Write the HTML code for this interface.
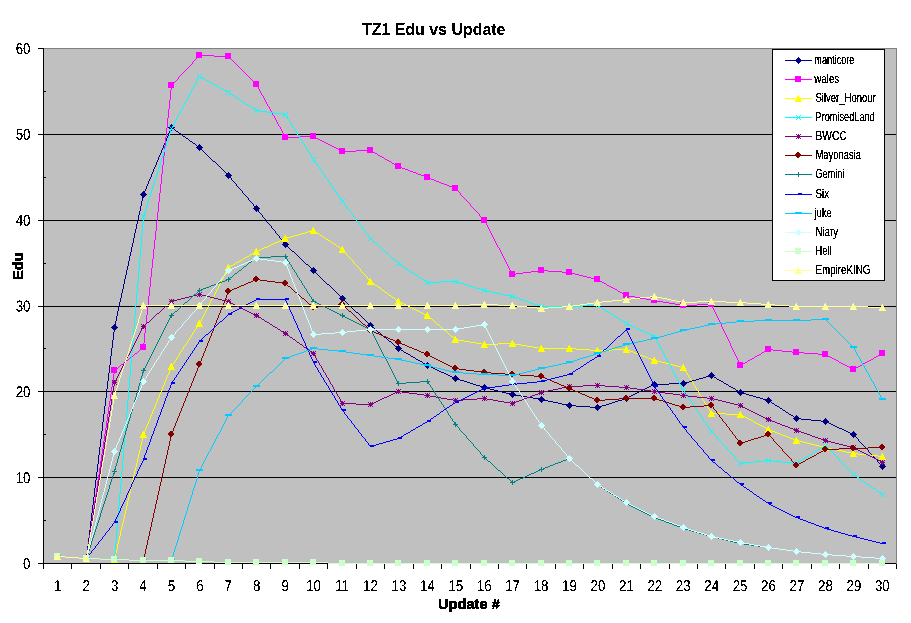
<!DOCTYPE html>
<html><head><meta charset="utf-8"><title>TZ1 Edu vs Update</title>
<style>
html,body{margin:0;padding:0;background:#fff}
svg{display:block}
text{font-family:"Liberation Sans",sans-serif;fill:#000}
.ax{font-size:13.3px}
.b{font-weight:bold}
.b2{stroke:#000;stroke-width:.3px}
.lg{font-size:12.6px}
</style></head><body>
<svg width="911" height="623" viewBox="0 0 911 623" shape-rendering="crispEdges">
<defs><filter id="th" x="-5%" y="-5%" width="110%" height="110%" color-interpolation-filters="sRGB"><feComponentTransfer><feFuncA type="discrete" tableValues="0 0 0 0 0 1 1 1 1 1 1 1"/></feComponentTransfer></filter><filter id="th2" x="-5%" y="-5%" width="110%" height="110%" color-interpolation-filters="sRGB"><feComponentTransfer><feFuncA type="discrete" tableValues="0 0 1 1 1 1"/></feComponentTransfer></filter></defs>
<rect width="911" height="623" fill="#fff"/>

<rect x="43.5" y="48.5" width="853.0" height="515.0" fill="#C0C0C0" stroke="#808080"/>
<path d="M43.5 477.5H896.0" stroke="#000"/>
<path d="M43.5 391.5H896.0" stroke="#000"/>
<path d="M43.5 306.5H896.0" stroke="#000"/>
<path d="M43.5 220.5H896.0" stroke="#000"/>
<path d="M43.5 134.5H896.0" stroke="#000"/>
<path d="M43.5 48.5V563.5M43.5 563.5H896.0" stroke="#000" fill="none"/>
<path d="M38.0 563.5H43.5" stroke="#000"/>
<path d="M43.5 520.5H46.0" stroke="#000"/>
<path d="M38.0 477.5H43.5" stroke="#000"/>
<path d="M43.5 434.5H46.0" stroke="#000"/>
<path d="M38.0 391.5H43.5" stroke="#000"/>
<path d="M43.5 348.5H46.0" stroke="#000"/>
<path d="M38.0 306.5H43.5" stroke="#000"/>
<path d="M43.5 263.5H46.0" stroke="#000"/>
<path d="M38.0 220.5H43.5" stroke="#000"/>
<path d="M43.5 177.5H46.0" stroke="#000"/>
<path d="M38.0 134.5H43.5" stroke="#000"/>
<path d="M43.5 91.5H46.0" stroke="#000"/>
<path d="M38.0 48.5H43.5" stroke="#000"/>
<path d="M43.5 564.0V569.0" stroke="#000"/>
<path d="M71.5 564.0V569.0" stroke="#000"/>
<path d="M100.5 564.0V569.0" stroke="#000"/>
<path d="M128.5 564.0V569.0" stroke="#000"/>
<path d="M157.5 564.0V569.0" stroke="#000"/>
<path d="M185.5 564.0V569.0" stroke="#000"/>
<path d="M214.5 564.0V569.0" stroke="#000"/>
<path d="M242.5 564.0V569.0" stroke="#000"/>
<path d="M270.5 564.0V569.0" stroke="#000"/>
<path d="M299.5 564.0V569.0" stroke="#000"/>
<path d="M327.5 564.0V569.0" stroke="#000"/>
<path d="M356.5 564.0V569.0" stroke="#000"/>
<path d="M384.5 564.0V569.0" stroke="#000"/>
<path d="M413.5 564.0V569.0" stroke="#000"/>
<path d="M441.5 564.0V569.0" stroke="#000"/>
<path d="M470.5 564.0V569.0" stroke="#000"/>
<path d="M498.5 564.0V569.0" stroke="#000"/>
<path d="M526.5 564.0V569.0" stroke="#000"/>
<path d="M555.5 564.0V569.0" stroke="#000"/>
<path d="M583.5 564.0V569.0" stroke="#000"/>
<path d="M612.5 564.0V569.0" stroke="#000"/>
<path d="M640.5 564.0V569.0" stroke="#000"/>
<path d="M669.5 564.0V569.0" stroke="#000"/>
<path d="M697.5 564.0V569.0" stroke="#000"/>
<path d="M725.5 564.0V569.0" stroke="#000"/>
<path d="M754.5 564.0V569.0" stroke="#000"/>
<path d="M782.5 564.0V569.0" stroke="#000"/>
<path d="M811.5 564.0V569.0" stroke="#000"/>
<path d="M839.5 564.0V569.0" stroke="#000"/>
<path d="M868.5 564.0V569.0" stroke="#000"/>
<path d="M896.5 564.0V569.0" stroke="#000"/>
<g><path d="M57 556h8v1h-8zM65 557h14v1h-14zM79 558h8v1h-8zM114 327v5h1v-5zM113 332v8h1v-8zM112 340v8h1v-8zM111 348v8h1v-8zM110 356v9h1v-9zM109 365v8h1v-8zM108 373v8h1v-8zM107 381v8h1v-8zM106 389v9h1v-9zM105 398v8h1v-8zM104 406v8h1v-8zM103 414v8h1v-8zM102 422v9h1v-9zM101 431v8h1v-8zM100 439v8h1v-8zM99 447v8h1v-8zM98 455v9h1v-9zM97 464v8h1v-8zM96 472v8h1v-8zM95 480v8h1v-8zM94 488v9h1v-9zM93 497v8h1v-8zM92 505v8h1v-8zM91 513v8h1v-8zM90 521v9h1v-9zM89 530v8h1v-8zM88 538v8h1v-8zM87 546v8h1v-8zM86 554v5h1v-5zM143 194v3h1v-3zM142 197v4h1v-4zM141 201v5h1v-5zM140 206v5h1v-5zM139 211v4h1v-4zM138 215v5h1v-5zM137 220v4h1v-4zM136 224v5h1v-5zM135 229v4h1v-4zM134 233v5h1v-5zM133 238v5h1v-5zM132 243v4h1v-4zM131 247v5h1v-5zM130 252v4h1v-4zM129 256v5h1v-5zM128 261v5h1v-5zM127 266v4h1v-4zM126 270v5h1v-5zM125 275v4h1v-4zM124 279v5h1v-5zM123 284v5h1v-5zM122 289v4h1v-4zM121 293v5h1v-5zM120 298v4h1v-4zM119 302v5h1v-5zM118 307v4h1v-4zM117 311v5h1v-5zM116 316v5h1v-5zM115 321v4h1v-4zM114 325v3h1v-3zM171 127v2h1v-2zM170 129v2h1v-2zM169 131v2h1v-2zM168 133v3h1v-3zM167 136v2h1v-2zM166 138v3h1v-3zM165 141v2h1v-2zM164 143v2h1v-2zM163 145v3h1v-3zM162 148v2h1v-2zM161 150v3h1v-3zM160 153v2h1v-2zM159 155v2h1v-2zM158 157v3h1v-3zM157 160v2h1v-2zM156 162v3h1v-3zM155 165v2h1v-2zM154 167v2h1v-2zM153 169v3h1v-3zM152 172v2h1v-2zM151 174v3h1v-3zM150 177v2h1v-2zM149 179v2h1v-2zM148 181v3h1v-3zM147 184v2h1v-2zM146 186v3h1v-3zM145 189v2h1v-2zM144 191v2h1v-2zM143 193v2h1v-2zM171 127h1v1h-1zM172 128h2v1h-2zM174 129h1v1h-1zM175 130h1v1h-1zM176 131h2v1h-2zM178 132h1v1h-1zM179 133h2v1h-2zM181 134h1v1h-1zM182 135h1v1h-1zM183 136h2v1h-2zM185 137h1v1h-1zM186 138h2v1h-2zM188 139h1v1h-1zM189 140h1v1h-1zM190 141h2v1h-2zM192 142h1v1h-1zM193 143h2v1h-2zM195 144h1v1h-1zM196 145h1v1h-1zM197 146h2v1h-2zM199 147h1v1h-1zM199 147h1v1h-1zM200 148h1v1h-1zM201 149h1v1h-1zM202 150h1v1h-1zM203 151h1v1h-1zM204 152h1v1h-1zM205 153h1v1h-1zM206 154h1v1h-1zM207 155h1v1h-1zM208 156h1v1h-1zM209 157h1v1h-1zM210 158h1v1h-1zM211 159h1v1h-1zM212 160h1v1h-1zM213 161h2v1h-2zM215 162h1v1h-1zM216 163h1v1h-1zM217 164h1v1h-1zM218 165h1v1h-1zM219 166h1v1h-1zM220 167h1v1h-1zM221 168h1v1h-1zM222 169h1v1h-1zM223 170h1v1h-1zM224 171h1v1h-1zM225 172h1v1h-1zM226 173h1v1h-1zM227 174h1v1h-1zM228 175h1v1h-1zM228 175v1h1v-1zM229 176v1h1v-1zM230 177v1h1v-1zM231 178v2h1v-2zM232 180v1h1v-1zM233 181v1h1v-1zM234 182v1h1v-1zM235 183v1h1v-1zM236 184v2h1v-2zM237 186v1h1v-1zM238 187v1h1v-1zM239 188v1h1v-1zM240 189v1h1v-1zM241 190v1h1v-1zM242 191v2h1v-2zM243 193v1h1v-1zM244 194v1h1v-1zM245 195v1h1v-1zM246 196v1h1v-1zM247 197v1h1v-1zM248 198v2h1v-2zM249 200v1h1v-1zM250 201v1h1v-1zM251 202v1h1v-1zM252 203v1h1v-1zM253 204v2h1v-2zM254 206v1h1v-1zM255 207v1h1v-1zM256 208v1h1v-1zM256 208v1h1v-1zM257 209v1h1v-1zM258 210v2h1v-2zM259 212v1h1v-1zM260 213v1h1v-1zM261 214v1h1v-1zM262 215v2h1v-2zM263 217v1h1v-1zM264 218v1h1v-1zM265 219v1h1v-1zM266 220v2h1v-2zM267 222v1h1v-1zM268 223v1h1v-1zM269 224v1h1v-1zM270 225v1h1v-1zM271 226v2h1v-2zM272 228v1h1v-1zM273 229v1h1v-1zM274 230v1h1v-1zM275 231v2h1v-2zM276 233v1h1v-1zM277 234v1h1v-1zM278 235v1h1v-1zM279 236v2h1v-2zM280 238v1h1v-1zM281 239v1h1v-1zM282 240v1h1v-1zM283 241v2h1v-2zM284 243v1h1v-1zM285 244v1h1v-1zM285 244h1v1h-1zM286 245h1v1h-1zM287 246h1v1h-1zM288 247h1v1h-1zM289 248h1v1h-1zM290 249h1v1h-1zM291 250h1v1h-1zM292 251h2v1h-2zM294 252h1v1h-1zM295 253h1v1h-1zM296 254h1v1h-1zM297 255h1v1h-1zM298 256h1v1h-1zM299 257h1v1h-1zM300 258h1v1h-1zM301 259h1v1h-1zM302 260h1v1h-1zM303 261h1v1h-1zM304 262h1v1h-1zM305 263h1v1h-1zM306 264h2v1h-2zM308 265h1v1h-1zM309 266h1v1h-1zM310 267h1v1h-1zM311 268h1v1h-1zM312 269h1v1h-1zM313 270h1v1h-1zM313 270h1v1h-1zM314 271h1v1h-1zM315 272h1v1h-1zM316 273h1v1h-1zM317 274h1v1h-1zM318 275h1v1h-1zM319 276h1v1h-1zM320 277h1v1h-1zM321 278h1v1h-1zM322 279h1v1h-1zM323 280h1v1h-1zM324 281h1v1h-1zM325 282h1v1h-1zM326 283h1v1h-1zM327 284h2v1h-2zM329 285h1v1h-1zM330 286h1v1h-1zM331 287h1v1h-1zM332 288h1v1h-1zM333 289h1v1h-1zM334 290h1v1h-1zM335 291h1v1h-1zM336 292h1v1h-1zM337 293h1v1h-1zM338 294h1v1h-1zM339 295h1v1h-1zM340 296h1v1h-1zM341 297h1v1h-1zM342 298h1v1h-1zM342 298h1v1h-1zM343 299h1v1h-1zM344 300h1v1h-1zM345 301h1v1h-1zM346 302h1v1h-1zM347 303h1v1h-1zM348 304h1v1h-1zM349 305h1v1h-1zM350 306h1v1h-1zM351 307h1v1h-1zM352 308h1v1h-1zM353 309h1v1h-1zM354 310h1v1h-1zM355 311h1v1h-1zM356 312h2v1h-2zM358 313h1v1h-1zM359 314h1v1h-1zM360 315h1v1h-1zM361 316h1v1h-1zM362 317h1v1h-1zM363 318h1v1h-1zM364 319h1v1h-1zM365 320h1v1h-1zM366 321h1v1h-1zM367 322h1v1h-1zM368 323h1v1h-1zM369 324h1v1h-1zM370 325h1v1h-1zM370 325h1v1h-1zM371 326h1v1h-1zM372 327h2v1h-2zM374 328h1v1h-1zM375 329h1v1h-1zM376 330h1v1h-1zM377 331h1v1h-1zM378 332h2v1h-2zM380 333h1v1h-1zM381 334h1v1h-1zM382 335h1v1h-1zM383 336h1v1h-1zM384 337h2v1h-2zM386 338h1v1h-1zM387 339h1v1h-1zM388 340h1v1h-1zM389 341h2v1h-2zM391 342h1v1h-1zM392 343h1v1h-1zM393 344h1v1h-1zM394 345h1v1h-1zM395 346h2v1h-2zM397 347h1v1h-1zM398 348h1v1h-1zM398 348h1v1h-1zM399 349h2v1h-2zM401 350h2v1h-2zM403 351h1v1h-1zM404 352h2v1h-2zM406 353h2v1h-2zM408 354h2v1h-2zM410 355h1v1h-1zM411 356h2v1h-2zM413 357h2v1h-2zM415 358h1v1h-1zM416 359h2v1h-2zM418 360h2v1h-2zM420 361h2v1h-2zM422 362h1v1h-1zM423 363h2v1h-2zM425 364h2v1h-2zM427 365h1v1h-1zM427 365h2v1h-2zM429 366h2v1h-2zM431 367h2v1h-2zM433 368h2v1h-2zM435 369h2v1h-2zM437 370h2v1h-2zM439 371h2v1h-2zM441 372h3v1h-3zM444 373h2v1h-2zM446 374h2v1h-2zM448 375h2v1h-2zM450 376h2v1h-2zM452 377h2v1h-2zM454 378h2v1h-2zM455 378h2v1h-2zM457 379h3v1h-3zM460 380h4v1h-4zM464 381h3v1h-3zM467 382h3v1h-3zM470 383h3v1h-3zM473 384h3v1h-3zM476 385h4v1h-4zM480 386h3v1h-3zM483 387h2v1h-2zM484 387h2v1h-2zM486 388h4v1h-4zM490 389h4v1h-4zM494 390h4v1h-4zM498 391h4v1h-4zM502 392h4v1h-4zM506 393h4v1h-4zM510 394h3v1h-3zM512 394h3v1h-3zM515 395h6v1h-6zM521 396h6v1h-6zM527 397h6v1h-6zM533 398h6v1h-6zM539 399h3v1h-3zM541 399h3v1h-3zM544 400h4v1h-4zM548 401h5v1h-5zM553 402h5v1h-5zM558 403h4v1h-4zM562 404h5v1h-5zM567 405h3v1h-3zM569 405h7v1h-7zM576 406h14v1h-14zM590 407h8v1h-8zM597 407h2v1h-2zM599 406h3v1h-3zM602 405h4v1h-4zM606 404h3v1h-3zM609 403h3v1h-3zM612 402h3v1h-3zM615 401h3v1h-3zM618 400h4v1h-4zM622 399h3v1h-3zM625 398h2v1h-2zM626 398h1v1h-1zM627 397h2v1h-2zM629 396h2v1h-2zM631 395h2v1h-2zM633 394h2v1h-2zM635 393h2v1h-2zM637 392h2v1h-2zM639 391h2v1h-2zM641 390h2v1h-2zM643 389h2v1h-2zM645 388h2v1h-2zM647 387h2v1h-2zM649 386h2v1h-2zM651 385h2v1h-2zM653 384h2v1h-2zM654 384h15v1h-15zM669 383h15v1h-15zM683 383h2v1h-2zM685 382h4v1h-4zM689 381h3v1h-3zM692 380h4v1h-4zM696 379h3v1h-3zM699 378h4v1h-4zM703 377h3v1h-3zM706 376h4v1h-4zM710 375h2v1h-2zM711 375h1v1h-1zM712 376h2v1h-2zM714 377h2v1h-2zM716 378h1v1h-1zM717 379h2v1h-2zM719 380h2v1h-2zM721 381h2v1h-2zM723 382h1v1h-1zM724 383h2v1h-2zM726 384h2v1h-2zM728 385h1v1h-1zM729 386h2v1h-2zM731 387h2v1h-2zM733 388h2v1h-2zM735 389h1v1h-1zM736 390h2v1h-2zM738 391h2v1h-2zM740 392h1v1h-1zM740 392h2v1h-2zM742 393h4v1h-4zM746 394h3v1h-3zM749 395h4v1h-4zM753 396h3v1h-3zM756 397h4v1h-4zM760 398h3v1h-3zM763 399h4v1h-4zM767 400h2v1h-2zM768 400h1v1h-1zM769 401h2v1h-2zM771 402h1v1h-1zM772 403h2v1h-2zM774 404h1v1h-1zM775 405h2v1h-2zM777 406h2v1h-2zM779 407h1v1h-1zM780 408h2v1h-2zM782 409h1v1h-1zM783 410h2v1h-2zM785 411h1v1h-1zM786 412h2v1h-2zM788 413h1v1h-1zM789 414h2v1h-2zM791 415h2v1h-2zM793 416h1v1h-1zM794 417h2v1h-2zM796 418h1v1h-1zM796 418h5v1h-5zM801 419h10v1h-10zM811 420h10v1h-10zM821 421h5v1h-5zM825 421h2v1h-2zM827 422h2v1h-2zM829 423h2v1h-2zM831 424h2v1h-2zM833 425h2v1h-2zM835 426h2v1h-2zM837 427h2v1h-2zM839 428h3v1h-3zM842 429h2v1h-2zM844 430h2v1h-2zM846 431h2v1h-2zM848 432h2v1h-2zM850 433h2v1h-2zM852 434h2v1h-2zM853 434v1h1v-1zM854 435v1h1v-1zM855 436v1h1v-1zM856 437v1h1v-1zM857 438v1h1v-1zM858 439v2h1v-2zM859 441v1h1v-1zM860 442v1h1v-1zM861 443v1h1v-1zM862 444v1h1v-1zM863 445v1h1v-1zM864 446v1h1v-1zM865 447v1h1v-1zM866 448v1h1v-1zM867 449v1h1v-1zM868 450v2h1v-2zM869 452v1h1v-1zM870 453v1h1v-1zM871 454v1h1v-1zM872 455v1h1v-1zM873 456v1h1v-1zM874 457v1h1v-1zM875 458v1h1v-1zM876 459v1h1v-1zM877 460v2h1v-2zM878 462v1h1v-1zM879 463v1h1v-1zM880 464v1h1v-1zM881 465v1h1v-1zM882 466v1h1v-1z" fill="#000080"/>
<path d="M57 553h1v1h-1zM56 554h3v1h-3zM55 555h5v1h-5zM54 556h7v1h-7zM55 557h5v1h-5zM56 558h3v1h-3zM57 559h1v1h-1z" fill="#000080"/>
<path d="M86 555h1v1h-1zM85 556h3v1h-3zM84 557h5v1h-5zM83 558h7v1h-7zM84 559h5v1h-5zM85 560h3v1h-3zM86 561h1v1h-1z" fill="#000080"/>
<path d="M114 324h1v1h-1zM113 325h3v1h-3zM112 326h5v1h-5zM111 327h7v1h-7zM112 328h5v1h-5zM113 329h3v1h-3zM114 330h1v1h-1z" fill="#000080"/>
<path d="M143 191h1v1h-1zM142 192h3v1h-3zM141 193h5v1h-5zM140 194h7v1h-7zM141 195h5v1h-5zM142 196h3v1h-3zM143 197h1v1h-1z" fill="#000080"/>
<path d="M171 124h1v1h-1zM170 125h3v1h-3zM169 126h5v1h-5zM168 127h7v1h-7zM169 128h5v1h-5zM170 129h3v1h-3zM171 130h1v1h-1z" fill="#000080"/>
<path d="M199 144h1v1h-1zM198 145h3v1h-3zM197 146h5v1h-5zM196 147h7v1h-7zM197 148h5v1h-5zM198 149h3v1h-3zM199 150h1v1h-1z" fill="#000080"/>
<path d="M228 172h1v1h-1zM227 173h3v1h-3zM226 174h5v1h-5zM225 175h7v1h-7zM226 176h5v1h-5zM227 177h3v1h-3zM228 178h1v1h-1z" fill="#000080"/>
<path d="M256 205h1v1h-1zM255 206h3v1h-3zM254 207h5v1h-5zM253 208h7v1h-7zM254 209h5v1h-5zM255 210h3v1h-3zM256 211h1v1h-1z" fill="#000080"/>
<path d="M285 241h1v1h-1zM284 242h3v1h-3zM283 243h5v1h-5zM282 244h7v1h-7zM283 245h5v1h-5zM284 246h3v1h-3zM285 247h1v1h-1z" fill="#000080"/>
<path d="M313 267h1v1h-1zM312 268h3v1h-3zM311 269h5v1h-5zM310 270h7v1h-7zM311 271h5v1h-5zM312 272h3v1h-3zM313 273h1v1h-1z" fill="#000080"/>
<path d="M342 295h1v1h-1zM341 296h3v1h-3zM340 297h5v1h-5zM339 298h7v1h-7zM340 299h5v1h-5zM341 300h3v1h-3zM342 301h1v1h-1z" fill="#000080"/>
<path d="M370 322h1v1h-1zM369 323h3v1h-3zM368 324h5v1h-5zM367 325h7v1h-7zM368 326h5v1h-5zM369 327h3v1h-3zM370 328h1v1h-1z" fill="#000080"/>
<path d="M398 345h1v1h-1zM397 346h3v1h-3zM396 347h5v1h-5zM395 348h7v1h-7zM396 349h5v1h-5zM397 350h3v1h-3zM398 351h1v1h-1z" fill="#000080"/>
<path d="M427 362h1v1h-1zM426 363h3v1h-3zM425 364h5v1h-5zM424 365h7v1h-7zM425 366h5v1h-5zM426 367h3v1h-3zM427 368h1v1h-1z" fill="#000080"/>
<path d="M455 375h1v1h-1zM454 376h3v1h-3zM453 377h5v1h-5zM452 378h7v1h-7zM453 379h5v1h-5zM454 380h3v1h-3zM455 381h1v1h-1z" fill="#000080"/>
<path d="M484 384h1v1h-1zM483 385h3v1h-3zM482 386h5v1h-5zM481 387h7v1h-7zM482 388h5v1h-5zM483 389h3v1h-3zM484 390h1v1h-1z" fill="#000080"/>
<path d="M512 391h1v1h-1zM511 392h3v1h-3zM510 393h5v1h-5zM509 394h7v1h-7zM510 395h5v1h-5zM511 396h3v1h-3zM512 397h1v1h-1z" fill="#000080"/>
<path d="M541 396h1v1h-1zM540 397h3v1h-3zM539 398h5v1h-5zM538 399h7v1h-7zM539 400h5v1h-5zM540 401h3v1h-3zM541 402h1v1h-1z" fill="#000080"/>
<path d="M569 402h1v1h-1zM568 403h3v1h-3zM567 404h5v1h-5zM566 405h7v1h-7zM567 406h5v1h-5zM568 407h3v1h-3zM569 408h1v1h-1z" fill="#000080"/>
<path d="M597 404h1v1h-1zM596 405h3v1h-3zM595 406h5v1h-5zM594 407h7v1h-7zM595 408h5v1h-5zM596 409h3v1h-3zM597 410h1v1h-1z" fill="#000080"/>
<path d="M626 395h1v1h-1zM625 396h3v1h-3zM624 397h5v1h-5zM623 398h7v1h-7zM624 399h5v1h-5zM625 400h3v1h-3zM626 401h1v1h-1z" fill="#000080"/>
<path d="M654 381h1v1h-1zM653 382h3v1h-3zM652 383h5v1h-5zM651 384h7v1h-7zM652 385h5v1h-5zM653 386h3v1h-3zM654 387h1v1h-1z" fill="#000080"/>
<path d="M683 380h1v1h-1zM682 381h3v1h-3zM681 382h5v1h-5zM680 383h7v1h-7zM681 384h5v1h-5zM682 385h3v1h-3zM683 386h1v1h-1z" fill="#000080"/>
<path d="M711 372h1v1h-1zM710 373h3v1h-3zM709 374h5v1h-5zM708 375h7v1h-7zM709 376h5v1h-5zM710 377h3v1h-3zM711 378h1v1h-1z" fill="#000080"/>
<path d="M740 389h1v1h-1zM739 390h3v1h-3zM738 391h5v1h-5zM737 392h7v1h-7zM738 393h5v1h-5zM739 394h3v1h-3zM740 395h1v1h-1z" fill="#000080"/>
<path d="M768 397h1v1h-1zM767 398h3v1h-3zM766 399h5v1h-5zM765 400h7v1h-7zM766 401h5v1h-5zM767 402h3v1h-3zM768 403h1v1h-1z" fill="#000080"/>
<path d="M796 415h1v1h-1zM795 416h3v1h-3zM794 417h5v1h-5zM793 418h7v1h-7zM794 419h5v1h-5zM795 420h3v1h-3zM796 421h1v1h-1z" fill="#000080"/>
<path d="M825 418h1v1h-1zM824 419h3v1h-3zM823 420h5v1h-5zM822 421h7v1h-7zM823 422h5v1h-5zM824 423h3v1h-3zM825 424h1v1h-1z" fill="#000080"/>
<path d="M853 431h1v1h-1zM852 432h3v1h-3zM851 433h5v1h-5zM850 434h7v1h-7zM851 435h5v1h-5zM852 436h3v1h-3zM853 437h1v1h-1z" fill="#000080"/>
<path d="M882 463h1v1h-1zM881 464h3v1h-3zM880 465h5v1h-5zM879 466h7v1h-7zM880 467h5v1h-5zM881 468h3v1h-3zM882 469h1v1h-1z" fill="#000080"/>
</g>
<g><path d="M57 556h8v1h-8zM65 557h14v1h-14zM79 558h8v1h-8zM114 370v4h1v-4zM113 374v7h1v-7zM112 381v6h1v-6zM111 387v7h1v-7zM110 394v7h1v-7zM109 401v6h1v-6zM108 407v7h1v-7zM107 414v7h1v-7zM106 421v7h1v-7zM105 428v6h1v-6zM104 434v7h1v-7zM103 441v7h1v-7zM102 448v6h1v-6zM101 454v7h1v-7zM100 461v7h1v-7zM99 468v7h1v-7zM98 475v6h1v-6zM97 481v7h1v-7zM96 488v7h1v-7zM95 495v6h1v-6zM94 501v7h1v-7zM93 508v7h1v-7zM92 515v7h1v-7zM91 522v6h1v-6zM90 528v7h1v-7zM89 535v7h1v-7zM88 542v6h1v-6zM87 548v7h1v-7zM86 555v4h1v-4zM114 370h1v1h-1zM115 369h1v1h-1zM116 368h2v1h-2zM118 367h1v1h-1zM119 366h1v1h-1zM120 365h1v1h-1zM121 364h2v1h-2zM123 363h1v1h-1zM124 362h1v1h-1zM125 361h1v1h-1zM126 360h2v1h-2zM128 359h1v1h-1zM129 358h1v1h-1zM130 357h2v1h-2zM132 356h1v1h-1zM133 355h1v1h-1zM134 354h1v1h-1zM135 353h2v1h-2zM137 352h1v1h-1zM138 351h1v1h-1zM139 350h1v1h-1zM140 349h2v1h-2zM142 348h1v1h-1zM143 347h1v1h-1zM171 85v5h1v-5zM170 90v10h1v-10zM169 100v9h1v-9zM168 109v9h1v-9zM167 118v10h1v-10zM166 128v9h1v-9zM165 137v9h1v-9zM164 146v10h1v-10zM163 156v9h1v-9zM162 165v9h1v-9zM161 174v10h1v-10zM160 184v9h1v-9zM159 193v9h1v-9zM158 202v10h1v-10zM157 212v9h1v-9zM156 221v10h1v-10zM155 231v9h1v-9zM154 240v9h1v-9zM153 249v10h1v-10zM152 259v9h1v-9zM151 268v9h1v-9zM150 277v10h1v-10zM149 287v9h1v-9zM148 296v9h1v-9zM147 305v10h1v-10zM146 315v9h1v-9zM145 324v9h1v-9zM144 333v10h1v-10zM143 343v5h1v-5zM199 55v1h1v-1zM198 56v1h1v-1zM197 57v1h1v-1zM196 58v1h1v-1zM195 59v1h1v-1zM194 60v1h1v-1zM193 61v1h1v-1zM192 62v2h1v-2zM191 64v1h1v-1zM190 65v1h1v-1zM189 66v1h1v-1zM188 67v1h1v-1zM187 68v1h1v-1zM186 69v1h1v-1zM185 70v1h1v-1zM184 71v1h1v-1zM183 72v1h1v-1zM182 73v1h1v-1zM181 74v1h1v-1zM180 75v1h1v-1zM179 76v1h1v-1zM178 77v2h1v-2zM177 79v1h1v-1zM176 80v1h1v-1zM175 81v1h1v-1zM174 82v1h1v-1zM173 83v1h1v-1zM172 84v1h1v-1zM171 85v1h1v-1zM199 55h15v1h-15zM214 56h15v1h-15zM228 56h1v1h-1zM229 57h1v1h-1zM230 58h1v1h-1zM231 59h1v1h-1zM232 60h1v1h-1zM233 61h1v1h-1zM234 62h1v1h-1zM235 63h1v1h-1zM236 64h1v1h-1zM237 65h1v1h-1zM238 66h1v1h-1zM239 67h1v1h-1zM240 68h1v1h-1zM241 69h1v1h-1zM242 70h1v1h-1zM243 71h1v1h-1zM244 72h1v1h-1zM245 73h1v1h-1zM246 74h1v1h-1zM247 75h1v1h-1zM248 76h1v1h-1zM249 77h1v1h-1zM250 78h1v1h-1zM251 79h1v1h-1zM252 80h1v1h-1zM253 81h1v1h-1zM254 82h1v1h-1zM255 83h1v1h-1zM256 84h1v1h-1zM256 84v1h1v-1zM257 85v2h1v-2zM258 87v2h1v-2zM259 89v2h1v-2zM260 91v2h1v-2zM261 93v2h1v-2zM262 95v1h1v-1zM263 96v2h1v-2zM264 98v2h1v-2zM265 100v2h1v-2zM266 102v2h1v-2zM267 104v2h1v-2zM268 106v1h1v-1zM269 107v2h1v-2zM270 109v2h1v-2zM271 111v2h1v-2zM272 113v2h1v-2zM273 115v1h1v-1zM274 116v2h1v-2zM275 118v2h1v-2zM276 120v2h1v-2zM277 122v2h1v-2zM278 124v2h1v-2zM279 126v1h1v-1zM280 127v2h1v-2zM281 129v2h1v-2zM282 131v2h1v-2zM283 133v2h1v-2zM284 135v2h1v-2zM285 137v1h1v-1zM285 137h14v1h-14zM299 136h15v1h-15zM313 136h1v1h-1zM314 137h2v1h-2zM316 138h2v1h-2zM318 139h2v1h-2zM320 140h2v1h-2zM322 141h2v1h-2zM324 142h2v1h-2zM326 143h2v1h-2zM328 144h2v1h-2zM330 145h2v1h-2zM332 146h2v1h-2zM334 147h2v1h-2zM336 148h2v1h-2zM338 149h2v1h-2zM340 150h2v1h-2zM342 151h1v1h-1zM342 151h14v1h-14zM356 150h15v1h-15zM370 150h1v1h-1zM371 151h2v1h-2zM373 152h2v1h-2zM375 153h2v1h-2zM377 154h1v1h-1zM378 155h2v1h-2zM380 156h2v1h-2zM382 157h2v1h-2zM384 158h1v1h-1zM385 159h2v1h-2zM387 160h2v1h-2zM389 161h2v1h-2zM391 162h1v1h-1zM392 163h2v1h-2zM394 164h2v1h-2zM396 165h2v1h-2zM398 166h1v1h-1zM398 166h2v1h-2zM400 167h2v1h-2zM402 168h3v1h-3zM405 169h3v1h-3zM408 170h2v1h-2zM410 171h3v1h-3zM413 172h3v1h-3zM416 173h2v1h-2zM418 174h3v1h-3zM421 175h3v1h-3zM424 176h2v1h-2zM426 177h2v1h-2zM427 177h2v1h-2zM429 178h2v1h-2zM431 179h3v1h-3zM434 180h2v1h-2zM436 181h3v1h-3zM439 182h2v1h-2zM441 183h3v1h-3zM444 184h3v1h-3zM447 185h2v1h-2zM449 186h3v1h-3zM452 187h2v1h-2zM454 188h2v1h-2zM455 188v1h1v-1zM456 189v1h1v-1zM457 190v1h1v-1zM458 191v1h1v-1zM459 192v1h1v-1zM460 193v2h1v-2zM461 195v1h1v-1zM462 196v1h1v-1zM463 197v1h1v-1zM464 198v1h1v-1zM465 199v1h1v-1zM466 200v1h1v-1zM467 201v1h1v-1zM468 202v1h1v-1zM469 203v1h1v-1zM470 204v2h1v-2zM471 206v1h1v-1zM472 207v1h1v-1zM473 208v1h1v-1zM474 209v1h1v-1zM475 210v1h1v-1zM476 211v1h1v-1zM477 212v1h1v-1zM478 213v1h1v-1zM479 214v2h1v-2zM480 216v1h1v-1zM481 217v1h1v-1zM482 218v1h1v-1zM483 219v1h1v-1zM484 220v1h1v-1zM484 220v1h1v-1zM485 221v2h1v-2zM486 223v2h1v-2zM487 225v2h1v-2zM488 227v2h1v-2zM489 229v2h1v-2zM490 231v2h1v-2zM491 233v2h1v-2zM492 235v2h1v-2zM493 237v2h1v-2zM494 239v2h1v-2zM495 241v2h1v-2zM496 243v2h1v-2zM497 245v2h1v-2zM498 247v1h1v-1zM499 248v2h1v-2zM500 250v2h1v-2zM501 252v2h1v-2zM502 254v2h1v-2zM503 256v2h1v-2zM504 258v2h1v-2zM505 260v2h1v-2zM506 262v2h1v-2zM507 264v2h1v-2zM508 266v2h1v-2zM509 268v2h1v-2zM510 270v2h1v-2zM511 272v2h1v-2zM512 274v1h1v-1zM512 274h4v1h-4zM516 273h7v1h-7zM523 272h8v1h-8zM531 271h7v1h-7zM538 270h4v1h-4zM541 270h7v1h-7zM548 271h14v1h-14zM562 272h8v1h-8zM569 272h2v1h-2zM571 273h4v1h-4zM575 274h4v1h-4zM579 275h4v1h-4zM583 276h4v1h-4zM587 277h4v1h-4zM591 278h4v1h-4zM595 279h3v1h-3zM597 279h1v1h-1zM598 280h2v1h-2zM600 281h2v1h-2zM602 282h2v1h-2zM604 283h2v1h-2zM606 284h1v1h-1zM607 285h2v1h-2zM609 286h2v1h-2zM611 287h2v1h-2zM613 288h2v1h-2zM615 289h2v1h-2zM617 290h1v1h-1zM618 291h2v1h-2zM620 292h2v1h-2zM622 293h2v1h-2zM624 294h2v1h-2zM626 295h1v1h-1zM626 295h3v1h-3zM629 296h6v1h-6zM635 297h5v1h-5zM640 298h6v1h-6zM646 299h6v1h-6zM652 300h3v1h-3zM654 300h3v1h-3zM657 301h6v1h-6zM663 302h6v1h-6zM669 303h6v1h-6zM675 304h6v1h-6zM681 305h3v1h-3zM683 305h14v1h-14zM697 304h15v1h-15zM711 304v2h1v-2zM712 306v2h1v-2zM713 308v2h1v-2zM714 310v2h1v-2zM715 312v2h1v-2zM716 314v2h1v-2zM717 316v2h1v-2zM718 318v2h1v-2zM719 320v2h1v-2zM720 322v2h1v-2zM721 324v3h1v-3zM722 327v2h1v-2zM723 329v2h1v-2zM724 331v2h1v-2zM725 333v2h1v-2zM726 335v2h1v-2zM727 337v2h1v-2zM728 339v2h1v-2zM729 341v2h1v-2zM730 343v3h1v-3zM731 346v2h1v-2zM732 348v2h1v-2zM733 350v2h1v-2zM734 352v2h1v-2zM735 354v2h1v-2zM736 356v2h1v-2zM737 358v2h1v-2zM738 360v2h1v-2zM739 362v2h1v-2zM740 364v2h1v-2zM740 365h1v1h-1zM741 364h2v1h-2zM743 363h2v1h-2zM745 362h2v1h-2zM747 361h1v1h-1zM748 360h2v1h-2zM750 359h2v1h-2zM752 358h2v1h-2zM754 357h1v1h-1zM755 356h2v1h-2zM757 355h2v1h-2zM759 354h2v1h-2zM761 353h1v1h-1zM762 352h2v1h-2zM764 351h2v1h-2zM766 350h2v1h-2zM768 349h1v1h-1zM768 349h5v1h-5zM773 350h9v1h-9zM782 351h10v1h-10zM792 352h5v1h-5zM796 352h8v1h-8zM804 353h14v1h-14zM818 354h8v1h-8zM825 354h1v1h-1zM826 355h2v1h-2zM828 356h2v1h-2zM830 357h2v1h-2zM832 358h2v1h-2zM834 359h2v1h-2zM836 360h2v1h-2zM838 361h1v1h-1zM839 362h2v1h-2zM841 363h2v1h-2zM843 364h2v1h-2zM845 365h2v1h-2zM847 366h2v1h-2zM849 367h2v1h-2zM851 368h2v1h-2zM853 369h1v1h-1zM853 369h1v1h-1zM854 368h2v1h-2zM856 367h2v1h-2zM858 366h2v1h-2zM860 365h2v1h-2zM862 364h1v1h-1zM863 363h2v1h-2zM865 362h2v1h-2zM867 361h2v1h-2zM869 360h2v1h-2zM871 359h2v1h-2zM873 358h1v1h-1zM874 357h2v1h-2zM876 356h2v1h-2zM878 355h2v1h-2zM880 354h2v1h-2zM882 353h1v1h-1z" fill="#FF00FF"/>
<path d="M54 553h6v1h-6zM54 554h6v1h-6zM54 555h6v1h-6zM54 556h6v1h-6zM54 557h6v1h-6zM54 558h6v1h-6z" fill="#FF00FF"/>
<path d="M83 555h6v1h-6zM83 556h6v1h-6zM83 557h6v1h-6zM83 558h6v1h-6zM83 559h6v1h-6zM83 560h6v1h-6z" fill="#FF00FF"/>
<path d="M111 367h6v1h-6zM111 368h6v1h-6zM111 369h6v1h-6zM111 370h6v1h-6zM111 371h6v1h-6zM111 372h6v1h-6z" fill="#FF00FF"/>
<path d="M140 344h6v1h-6zM140 345h6v1h-6zM140 346h6v1h-6zM140 347h6v1h-6zM140 348h6v1h-6zM140 349h6v1h-6z" fill="#FF00FF"/>
<path d="M168 82h6v1h-6zM168 83h6v1h-6zM168 84h6v1h-6zM168 85h6v1h-6zM168 86h6v1h-6zM168 87h6v1h-6z" fill="#FF00FF"/>
<path d="M196 52h6v1h-6zM196 53h6v1h-6zM196 54h6v1h-6zM196 55h6v1h-6zM196 56h6v1h-6zM196 57h6v1h-6z" fill="#FF00FF"/>
<path d="M225 53h6v1h-6zM225 54h6v1h-6zM225 55h6v1h-6zM225 56h6v1h-6zM225 57h6v1h-6zM225 58h6v1h-6z" fill="#FF00FF"/>
<path d="M253 81h6v1h-6zM253 82h6v1h-6zM253 83h6v1h-6zM253 84h6v1h-6zM253 85h6v1h-6zM253 86h6v1h-6z" fill="#FF00FF"/>
<path d="M282 134h6v1h-6zM282 135h6v1h-6zM282 136h6v1h-6zM282 137h6v1h-6zM282 138h6v1h-6zM282 139h6v1h-6z" fill="#FF00FF"/>
<path d="M310 133h6v1h-6zM310 134h6v1h-6zM310 135h6v1h-6zM310 136h6v1h-6zM310 137h6v1h-6zM310 138h6v1h-6z" fill="#FF00FF"/>
<path d="M339 148h6v1h-6zM339 149h6v1h-6zM339 150h6v1h-6zM339 151h6v1h-6zM339 152h6v1h-6zM339 153h6v1h-6z" fill="#FF00FF"/>
<path d="M367 147h6v1h-6zM367 148h6v1h-6zM367 149h6v1h-6zM367 150h6v1h-6zM367 151h6v1h-6zM367 152h6v1h-6z" fill="#FF00FF"/>
<path d="M395 163h6v1h-6zM395 164h6v1h-6zM395 165h6v1h-6zM395 166h6v1h-6zM395 167h6v1h-6zM395 168h6v1h-6z" fill="#FF00FF"/>
<path d="M424 174h6v1h-6zM424 175h6v1h-6zM424 176h6v1h-6zM424 177h6v1h-6zM424 178h6v1h-6zM424 179h6v1h-6z" fill="#FF00FF"/>
<path d="M452 185h6v1h-6zM452 186h6v1h-6zM452 187h6v1h-6zM452 188h6v1h-6zM452 189h6v1h-6zM452 190h6v1h-6z" fill="#FF00FF"/>
<path d="M481 217h6v1h-6zM481 218h6v1h-6zM481 219h6v1h-6zM481 220h6v1h-6zM481 221h6v1h-6zM481 222h6v1h-6z" fill="#FF00FF"/>
<path d="M509 271h6v1h-6zM509 272h6v1h-6zM509 273h6v1h-6zM509 274h6v1h-6zM509 275h6v1h-6zM509 276h6v1h-6z" fill="#FF00FF"/>
<path d="M538 267h6v1h-6zM538 268h6v1h-6zM538 269h6v1h-6zM538 270h6v1h-6zM538 271h6v1h-6zM538 272h6v1h-6z" fill="#FF00FF"/>
<path d="M566 269h6v1h-6zM566 270h6v1h-6zM566 271h6v1h-6zM566 272h6v1h-6zM566 273h6v1h-6zM566 274h6v1h-6z" fill="#FF00FF"/>
<path d="M594 276h6v1h-6zM594 277h6v1h-6zM594 278h6v1h-6zM594 279h6v1h-6zM594 280h6v1h-6zM594 281h6v1h-6z" fill="#FF00FF"/>
<path d="M623 292h6v1h-6zM623 293h6v1h-6zM623 294h6v1h-6zM623 295h6v1h-6zM623 296h6v1h-6zM623 297h6v1h-6z" fill="#FF00FF"/>
<path d="M651 297h6v1h-6zM651 298h6v1h-6zM651 299h6v1h-6zM651 300h6v1h-6zM651 301h6v1h-6zM651 302h6v1h-6z" fill="#FF00FF"/>
<path d="M680 302h6v1h-6zM680 303h6v1h-6zM680 304h6v1h-6zM680 305h6v1h-6zM680 306h6v1h-6zM680 307h6v1h-6z" fill="#FF00FF"/>
<path d="M708 301h6v1h-6zM708 302h6v1h-6zM708 303h6v1h-6zM708 304h6v1h-6zM708 305h6v1h-6zM708 306h6v1h-6z" fill="#FF00FF"/>
<path d="M737 362h6v1h-6zM737 363h6v1h-6zM737 364h6v1h-6zM737 365h6v1h-6zM737 366h6v1h-6zM737 367h6v1h-6z" fill="#FF00FF"/>
<path d="M765 346h6v1h-6zM765 347h6v1h-6zM765 348h6v1h-6zM765 349h6v1h-6zM765 350h6v1h-6zM765 351h6v1h-6z" fill="#FF00FF"/>
<path d="M793 349h6v1h-6zM793 350h6v1h-6zM793 351h6v1h-6zM793 352h6v1h-6zM793 353h6v1h-6zM793 354h6v1h-6z" fill="#FF00FF"/>
<path d="M822 351h6v1h-6zM822 352h6v1h-6zM822 353h6v1h-6zM822 354h6v1h-6zM822 355h6v1h-6zM822 356h6v1h-6z" fill="#FF00FF"/>
<path d="M850 366h6v1h-6zM850 367h6v1h-6zM850 368h6v1h-6zM850 369h6v1h-6zM850 370h6v1h-6zM850 371h6v1h-6z" fill="#FF00FF"/>
<path d="M879 350h6v1h-6zM879 351h6v1h-6zM879 352h6v1h-6zM879 353h6v1h-6zM879 354h6v1h-6zM879 355h6v1h-6z" fill="#FF00FF"/>
</g>
<g><path d="M57 556h8v1h-8zM65 557h14v1h-14zM79 558h8v1h-8zM86 558h14v1h-14zM100 559h15v1h-15zM143 434v3h1v-3zM142 437v4h1v-4zM141 441v4h1v-4zM140 445v5h1v-5zM139 450v4h1v-4zM138 454v4h1v-4zM137 458v5h1v-5zM136 463v4h1v-4zM135 467v4h1v-4zM134 471v4h1v-4zM133 475v5h1v-5zM132 480v4h1v-4zM131 484v4h1v-4zM130 488v5h1v-5zM129 493v4h1v-4zM128 497v4h1v-4zM127 501v5h1v-5zM126 506v4h1v-4zM125 510v4h1v-4zM124 514v5h1v-5zM123 519v4h1v-4zM122 523v4h1v-4zM121 527v4h1v-4zM120 531v5h1v-5zM119 536v4h1v-4zM118 540v4h1v-4zM117 544v5h1v-5zM116 549v4h1v-4zM115 553v4h1v-4zM114 557v3h1v-3zM171 366v2h1v-2zM170 368v2h1v-2zM169 370v3h1v-3zM168 373v2h1v-2zM167 375v2h1v-2zM166 377v3h1v-3zM165 380v2h1v-2zM164 382v3h1v-3zM163 385v2h1v-2zM162 387v3h1v-3zM161 390v2h1v-2zM160 392v2h1v-2zM159 394v3h1v-3zM158 397v2h1v-2zM157 399v3h1v-3zM156 402v2h1v-2zM155 404v3h1v-3zM154 407v2h1v-2zM153 409v2h1v-2zM152 411v3h1v-3zM151 414v2h1v-2zM150 416v3h1v-3zM149 419v2h1v-2zM148 421v3h1v-3zM147 424v2h1v-2zM146 426v2h1v-2zM145 428v3h1v-3zM144 431v2h1v-2zM143 433v2h1v-2zM199 323v1h1v-1zM198 324v2h1v-2zM197 326v1h1v-1zM196 327v2h1v-2zM195 329v1h1v-1zM194 330v2h1v-2zM193 332v1h1v-1zM192 333v2h1v-2zM191 335v2h1v-2zM190 337v1h1v-1zM189 338v2h1v-2zM188 340v1h1v-1zM187 341v2h1v-2zM186 343v1h1v-1zM185 344v2h1v-2zM184 346v1h1v-1zM183 347v2h1v-2zM182 349v1h1v-1zM181 350v2h1v-2zM180 352v1h1v-1zM179 353v2h1v-2zM178 355v2h1v-2zM177 357v1h1v-1zM176 358v2h1v-2zM175 360v1h1v-1zM174 361v2h1v-2zM173 363v1h1v-1zM172 364v2h1v-2zM171 366v1h1v-1zM228 267v1h1v-1zM227 268v2h1v-2zM226 270v2h1v-2zM225 272v2h1v-2zM224 274v2h1v-2zM223 276v2h1v-2zM222 278v2h1v-2zM221 280v2h1v-2zM220 282v2h1v-2zM219 284v2h1v-2zM218 286v2h1v-2zM217 288v2h1v-2zM216 290v2h1v-2zM215 292v2h1v-2zM214 294v2h1v-2zM213 296v1h1v-1zM212 297v2h1v-2zM211 299v2h1v-2zM210 301v2h1v-2zM209 303v2h1v-2zM208 305v2h1v-2zM207 307v2h1v-2zM206 309v2h1v-2zM205 311v2h1v-2zM204 313v2h1v-2zM203 315v2h1v-2zM202 317v2h1v-2zM201 319v2h1v-2zM200 321v2h1v-2zM199 323v1h1v-1zM228 267h1v1h-1zM229 266h2v1h-2zM231 265h2v1h-2zM233 264h2v1h-2zM235 263h1v1h-1zM236 262h2v1h-2zM238 261h2v1h-2zM240 260h2v1h-2zM242 259h1v1h-1zM243 258h2v1h-2zM245 257h2v1h-2zM247 256h2v1h-2zM249 255h1v1h-1zM250 254h2v1h-2zM252 253h2v1h-2zM254 252h2v1h-2zM256 251h1v1h-1zM256 251h2v1h-2zM258 250h2v1h-2zM260 249h2v1h-2zM262 248h2v1h-2zM264 247h3v1h-3zM267 246h2v1h-2zM269 245h2v1h-2zM271 244h2v1h-2zM273 243h2v1h-2zM275 242h3v1h-3zM278 241h2v1h-2zM280 240h2v1h-2zM282 239h2v1h-2zM284 238h2v1h-2zM285 238h2v1h-2zM287 237h4v1h-4zM291 236h3v1h-3zM294 235h4v1h-4zM298 234h3v1h-3zM301 233h4v1h-4zM305 232h3v1h-3zM308 231h4v1h-4zM312 230h2v1h-2zM313 230h1v1h-1zM314 231h2v1h-2zM316 232h1v1h-1zM317 233h2v1h-2zM319 234h1v1h-1zM320 235h2v1h-2zM322 236h1v1h-1zM323 237h2v1h-2zM325 238h1v1h-1zM326 239h2v1h-2zM328 240h2v1h-2zM330 241h1v1h-1zM331 242h2v1h-2zM333 243h1v1h-1zM334 244h2v1h-2zM336 245h1v1h-1zM337 246h2v1h-2zM339 247h1v1h-1zM340 248h2v1h-2zM342 249h1v1h-1zM342 249v1h1v-1zM343 250v1h1v-1zM344 251v1h1v-1zM345 252v1h1v-1zM346 253v2h1v-2zM347 255v1h1v-1zM348 256v1h1v-1zM349 257v1h1v-1zM350 258v1h1v-1zM351 259v1h1v-1zM352 260v1h1v-1zM353 261v2h1v-2zM354 263v1h1v-1zM355 264v1h1v-1zM356 265v1h1v-1zM357 266v1h1v-1zM358 267v1h1v-1zM359 268v1h1v-1zM360 269v2h1v-2zM361 271v1h1v-1zM362 272v1h1v-1zM363 273v1h1v-1zM364 274v1h1v-1zM365 275v1h1v-1zM366 276v1h1v-1zM367 277v2h1v-2zM368 279v1h1v-1zM369 280v1h1v-1zM370 281v1h1v-1zM370 281h1v1h-1zM371 282h2v1h-2zM373 283h1v1h-1zM374 284h1v1h-1zM375 285h2v1h-2zM377 286h1v1h-1zM378 287h2v1h-2zM380 288h1v1h-1zM381 289h1v1h-1zM382 290h2v1h-2zM384 291h1v1h-1zM385 292h2v1h-2zM387 293h1v1h-1zM388 294h1v1h-1zM389 295h2v1h-2zM391 296h1v1h-1zM392 297h2v1h-2zM394 298h1v1h-1zM395 299h1v1h-1zM396 300h2v1h-2zM398 301h1v1h-1zM398 301h2v1h-2zM400 302h2v1h-2zM402 303h2v1h-2zM404 304h2v1h-2zM406 305h2v1h-2zM408 306h2v1h-2zM410 307h2v1h-2zM412 308h2v1h-2zM414 309h2v1h-2zM416 310h2v1h-2zM418 311h2v1h-2zM420 312h2v1h-2zM422 313h2v1h-2zM424 314h2v1h-2zM426 315h2v1h-2zM427 315h1v1h-1zM428 316h1v1h-1zM429 317h1v1h-1zM430 318h2v1h-2zM432 319h1v1h-1zM433 320h1v1h-1zM434 321h1v1h-1zM435 322h1v1h-1zM436 323h1v1h-1zM437 324h2v1h-2zM439 325h1v1h-1zM440 326h1v1h-1zM441 327h1v1h-1zM442 328h1v1h-1zM443 329h1v1h-1zM444 330h2v1h-2zM446 331h1v1h-1zM447 332h1v1h-1zM448 333h1v1h-1zM449 334h1v1h-1zM450 335h1v1h-1zM451 336h2v1h-2zM453 337h1v1h-1zM454 338h1v1h-1zM455 339h1v1h-1zM455 339h3v1h-3zM458 340h6v1h-6zM464 341h6v1h-6zM470 342h6v1h-6zM476 343h6v1h-6zM482 344h3v1h-3zM484 344h14v1h-14zM498 343h15v1h-15zM512 343h3v1h-3zM515 344h6v1h-6zM521 345h6v1h-6zM527 346h6v1h-6zM533 347h6v1h-6zM539 348h3v1h-3zM541 348h29v1h-29zM569 348h7v1h-7zM576 349h14v1h-14zM590 350h8v1h-8zM597 350h15v1h-15zM612 349h15v1h-15zM626 349h2v1h-2zM628 350h2v1h-2zM630 351h3v1h-3zM633 352h2v1h-2zM635 353h3v1h-3zM638 354h2v1h-2zM640 355h3v1h-3zM643 356h3v1h-3zM646 357h2v1h-2zM648 358h3v1h-3zM651 359h2v1h-2zM653 360h2v1h-2zM654 360h3v1h-3zM657 361h4v1h-4zM661 362h4v1h-4zM665 363h4v1h-4zM669 364h4v1h-4zM673 365h4v1h-4zM677 366h4v1h-4zM681 367h3v1h-3zM683 367v1h1v-1zM684 368v2h1v-2zM685 370v2h1v-2zM686 372v1h1v-1zM687 373v2h1v-2zM688 375v2h1v-2zM689 377v1h1v-1zM690 378v2h1v-2zM691 380v1h1v-1zM692 381v2h1v-2zM693 383v2h1v-2zM694 385v1h1v-1zM695 386v2h1v-2zM696 388v2h1v-2zM697 390v1h1v-1zM698 391v2h1v-2zM699 393v2h1v-2zM700 395v1h1v-1zM701 396v2h1v-2zM702 398v2h1v-2zM703 400v1h1v-1zM704 401v2h1v-2zM705 403v1h1v-1zM706 404v2h1v-2zM707 406v2h1v-2zM708 408v1h1v-1zM709 409v2h1v-2zM710 411v2h1v-2zM711 413v1h1v-1zM711 413h15v1h-15zM726 414h15v1h-15zM740 414h1v1h-1zM741 415h2v1h-2zM743 416h2v1h-2zM745 417h2v1h-2zM747 418h2v1h-2zM749 419h2v1h-2zM751 420h2v1h-2zM753 421h1v1h-1zM754 422h2v1h-2zM756 423h2v1h-2zM758 424h2v1h-2zM760 425h2v1h-2zM762 426h2v1h-2zM764 427h2v1h-2zM766 428h2v1h-2zM768 429h1v1h-1zM768 429h2v1h-2zM770 430h2v1h-2zM772 431h3v1h-3zM775 432h2v1h-2zM777 433h3v1h-3zM780 434h2v1h-2zM782 435h3v1h-3zM785 436h3v1h-3zM788 437h2v1h-2zM790 438h3v1h-3zM793 439h2v1h-2zM795 440h2v1h-2zM796 440h3v1h-3zM799 441h4v1h-4zM803 442h4v1h-4zM807 443h4v1h-4zM811 444h4v1h-4zM815 445h4v1h-4zM819 446h4v1h-4zM823 447h3v1h-3zM825 447h3v1h-3zM828 448h4v1h-4zM832 449h5v1h-5zM837 450h5v1h-5zM842 451h4v1h-4zM846 452h5v1h-5zM851 453h3v1h-3zM853 453h5v1h-5zM858 454h10v1h-10zM868 455h10v1h-10zM878 456h5v1h-5z" fill="#FFFF00"/>
<path d="M57 553h1v1h-1zM56 554h2v1h-2zM56 555h3v1h-3zM55 556h4v1h-4zM55 557h5v1h-5zM54 558h6v1h-6zM54 559h7v1h-7z" fill="#FFFF00"/>
<path d="M86 555h1v1h-1zM85 556h2v1h-2zM85 557h3v1h-3zM84 558h4v1h-4zM84 559h5v1h-5zM83 560h6v1h-6zM83 561h7v1h-7z" fill="#FFFF00"/>
<path d="M114 556h1v1h-1zM113 557h2v1h-2zM113 558h3v1h-3zM112 559h4v1h-4zM112 560h5v1h-5zM111 561h6v1h-6zM111 562h7v1h-7z" fill="#FFFF00"/>
<path d="M143 431h1v1h-1zM142 432h2v1h-2zM142 433h3v1h-3zM141 434h4v1h-4zM141 435h5v1h-5zM140 436h6v1h-6zM140 437h7v1h-7z" fill="#FFFF00"/>
<path d="M171 363h1v1h-1zM170 364h2v1h-2zM170 365h3v1h-3zM169 366h4v1h-4zM169 367h5v1h-5zM168 368h6v1h-6zM168 369h7v1h-7z" fill="#FFFF00"/>
<path d="M199 320h1v1h-1zM198 321h2v1h-2zM198 322h3v1h-3zM197 323h4v1h-4zM197 324h5v1h-5zM196 325h6v1h-6zM196 326h7v1h-7z" fill="#FFFF00"/>
<path d="M228 264h1v1h-1zM227 265h2v1h-2zM227 266h3v1h-3zM226 267h4v1h-4zM226 268h5v1h-5zM225 269h6v1h-6zM225 270h7v1h-7z" fill="#FFFF00"/>
<path d="M256 248h1v1h-1zM255 249h2v1h-2zM255 250h3v1h-3zM254 251h4v1h-4zM254 252h5v1h-5zM253 253h6v1h-6zM253 254h7v1h-7z" fill="#FFFF00"/>
<path d="M285 235h1v1h-1zM284 236h2v1h-2zM284 237h3v1h-3zM283 238h4v1h-4zM283 239h5v1h-5zM282 240h6v1h-6zM282 241h7v1h-7z" fill="#FFFF00"/>
<path d="M313 227h1v1h-1zM312 228h2v1h-2zM312 229h3v1h-3zM311 230h4v1h-4zM311 231h5v1h-5zM310 232h6v1h-6zM310 233h7v1h-7z" fill="#FFFF00"/>
<path d="M342 246h1v1h-1zM341 247h2v1h-2zM341 248h3v1h-3zM340 249h4v1h-4zM340 250h5v1h-5zM339 251h6v1h-6zM339 252h7v1h-7z" fill="#FFFF00"/>
<path d="M370 278h1v1h-1zM369 279h2v1h-2zM369 280h3v1h-3zM368 281h4v1h-4zM368 282h5v1h-5zM367 283h6v1h-6zM367 284h7v1h-7z" fill="#FFFF00"/>
<path d="M398 298h1v1h-1zM397 299h2v1h-2zM397 300h3v1h-3zM396 301h4v1h-4zM396 302h5v1h-5zM395 303h6v1h-6zM395 304h7v1h-7z" fill="#FFFF00"/>
<path d="M427 312h1v1h-1zM426 313h2v1h-2zM426 314h3v1h-3zM425 315h4v1h-4zM425 316h5v1h-5zM424 317h6v1h-6zM424 318h7v1h-7z" fill="#FFFF00"/>
<path d="M455 336h1v1h-1zM454 337h2v1h-2zM454 338h3v1h-3zM453 339h4v1h-4zM453 340h5v1h-5zM452 341h6v1h-6zM452 342h7v1h-7z" fill="#FFFF00"/>
<path d="M484 341h1v1h-1zM483 342h2v1h-2zM483 343h3v1h-3zM482 344h4v1h-4zM482 345h5v1h-5zM481 346h6v1h-6zM481 347h7v1h-7z" fill="#FFFF00"/>
<path d="M512 340h1v1h-1zM511 341h2v1h-2zM511 342h3v1h-3zM510 343h4v1h-4zM510 344h5v1h-5zM509 345h6v1h-6zM509 346h7v1h-7z" fill="#FFFF00"/>
<path d="M541 345h1v1h-1zM540 346h2v1h-2zM540 347h3v1h-3zM539 348h4v1h-4zM539 349h5v1h-5zM538 350h6v1h-6zM538 351h7v1h-7z" fill="#FFFF00"/>
<path d="M569 345h1v1h-1zM568 346h2v1h-2zM568 347h3v1h-3zM567 348h4v1h-4zM567 349h5v1h-5zM566 350h6v1h-6zM566 351h7v1h-7z" fill="#FFFF00"/>
<path d="M597 347h1v1h-1zM596 348h2v1h-2zM596 349h3v1h-3zM595 350h4v1h-4zM595 351h5v1h-5zM594 352h6v1h-6zM594 353h7v1h-7z" fill="#FFFF00"/>
<path d="M626 346h1v1h-1zM625 347h2v1h-2zM625 348h3v1h-3zM624 349h4v1h-4zM624 350h5v1h-5zM623 351h6v1h-6zM623 352h7v1h-7z" fill="#FFFF00"/>
<path d="M654 357h1v1h-1zM653 358h2v1h-2zM653 359h3v1h-3zM652 360h4v1h-4zM652 361h5v1h-5zM651 362h6v1h-6zM651 363h7v1h-7z" fill="#FFFF00"/>
<path d="M683 364h1v1h-1zM682 365h2v1h-2zM682 366h3v1h-3zM681 367h4v1h-4zM681 368h5v1h-5zM680 369h6v1h-6zM680 370h7v1h-7z" fill="#FFFF00"/>
<path d="M711 410h1v1h-1zM710 411h2v1h-2zM710 412h3v1h-3zM709 413h4v1h-4zM709 414h5v1h-5zM708 415h6v1h-6zM708 416h7v1h-7z" fill="#FFFF00"/>
<path d="M740 411h1v1h-1zM739 412h2v1h-2zM739 413h3v1h-3zM738 414h4v1h-4zM738 415h5v1h-5zM737 416h6v1h-6zM737 417h7v1h-7z" fill="#FFFF00"/>
<path d="M768 426h1v1h-1zM767 427h2v1h-2zM767 428h3v1h-3zM766 429h4v1h-4zM766 430h5v1h-5zM765 431h6v1h-6zM765 432h7v1h-7z" fill="#FFFF00"/>
<path d="M796 437h1v1h-1zM795 438h2v1h-2zM795 439h3v1h-3zM794 440h4v1h-4zM794 441h5v1h-5zM793 442h6v1h-6zM793 443h7v1h-7z" fill="#FFFF00"/>
<path d="M825 444h1v1h-1zM824 445h2v1h-2zM824 446h3v1h-3zM823 447h4v1h-4zM823 448h5v1h-5zM822 449h6v1h-6zM822 450h7v1h-7z" fill="#FFFF00"/>
<path d="M853 450h1v1h-1zM852 451h2v1h-2zM852 452h3v1h-3zM851 453h4v1h-4zM851 454h5v1h-5zM850 455h6v1h-6zM850 456h7v1h-7z" fill="#FFFF00"/>
<path d="M882 453h1v1h-1zM881 454h2v1h-2zM881 455h3v1h-3zM880 456h4v1h-4zM880 457h5v1h-5zM879 458h6v1h-6zM879 459h7v1h-7z" fill="#FFFF00"/>
</g>
<g><path d="M57 556h8v1h-8zM65 557h14v1h-14zM79 558h8v1h-8zM86 558h14v1h-14zM100 559h15v1h-15zM143 216v6h1v-6zM142 222v12h1v-12zM141 234v12h1v-12zM140 246v12h1v-12zM139 258v12h1v-12zM138 270v12h1v-12zM137 282v11h1v-11zM136 293v12h1v-12zM135 305v12h1v-12zM134 317v12h1v-12zM133 329v12h1v-12zM132 341v12h1v-12zM131 353v11h1v-11zM130 364v12h1v-12zM129 376v12h1v-12zM128 388v12h1v-12zM127 400v12h1v-12zM126 412v11h1v-11zM125 423v12h1v-12zM124 435v12h1v-12zM123 447v12h1v-12zM122 459v12h1v-12zM121 471v12h1v-12zM120 483v11h1v-11zM119 494v12h1v-12zM118 506v12h1v-12zM117 518v12h1v-12zM116 530v12h1v-12zM115 542v12h1v-12zM114 554v6h1v-6zM171 128v2h1v-2zM170 130v3h1v-3zM169 133v3h1v-3zM168 136v4h1v-4zM167 140v3h1v-3zM166 143v3h1v-3zM165 146v3h1v-3zM164 149v3h1v-3zM163 152v3h1v-3zM162 155v3h1v-3zM161 158v4h1v-4zM160 162v3h1v-3zM159 165v3h1v-3zM158 168v3h1v-3zM157 171v3h1v-3zM156 174v3h1v-3zM155 177v3h1v-3zM154 180v4h1v-4zM153 184v3h1v-3zM152 187v3h1v-3zM151 190v3h1v-3zM150 193v3h1v-3zM149 196v3h1v-3zM148 199v3h1v-3zM147 202v4h1v-4zM146 206v3h1v-3zM145 209v3h1v-3zM144 212v3h1v-3zM143 215v2h1v-2zM199 76v1h1v-1zM198 77v2h1v-2zM197 79v2h1v-2zM196 81v2h1v-2zM195 83v2h1v-2zM194 85v2h1v-2zM193 87v2h1v-2zM192 89v1h1v-1zM191 90v2h1v-2zM190 92v2h1v-2zM189 94v2h1v-2zM188 96v2h1v-2zM187 98v2h1v-2zM186 100v2h1v-2zM185 102v1h1v-1zM184 103v2h1v-2zM183 105v2h1v-2zM182 107v2h1v-2zM181 109v2h1v-2zM180 111v2h1v-2zM179 113v2h1v-2zM178 115v1h1v-1zM177 116v2h1v-2zM176 118v2h1v-2zM175 120v2h1v-2zM174 122v2h1v-2zM173 124v2h1v-2zM172 126v2h1v-2zM171 128v1h1v-1zM199 76h1v1h-1zM200 77h2v1h-2zM202 78h2v1h-2zM204 79h2v1h-2zM206 80h2v1h-2zM208 81h1v1h-1zM209 82h2v1h-2zM211 83h2v1h-2zM213 84h2v1h-2zM215 85h2v1h-2zM217 86h2v1h-2zM219 87h1v1h-1zM220 88h2v1h-2zM222 89h2v1h-2zM224 90h2v1h-2zM226 91h2v1h-2zM228 92h1v1h-1zM228 92h1v1h-1zM229 93h2v1h-2zM231 94h1v1h-1zM232 95h2v1h-2zM234 96h1v1h-1zM235 97h2v1h-2zM237 98h2v1h-2zM239 99h1v1h-1zM240 100h2v1h-2zM242 101h1v1h-1zM243 102h2v1h-2zM245 103h1v1h-1zM246 104h2v1h-2zM248 105h1v1h-1zM249 106h2v1h-2zM251 107h2v1h-2zM253 108h1v1h-1zM254 109h2v1h-2zM256 110h1v1h-1zM256 110h4v1h-4zM260 111h7v1h-7zM267 112h8v1h-8zM275 113h7v1h-7zM282 114h4v1h-4zM285 114v1h1v-1zM286 115v2h1v-2zM287 117v2h1v-2zM288 119v1h1v-1zM289 120v2h1v-2zM290 122v1h1v-1zM291 123v2h1v-2zM292 125v2h1v-2zM293 127v1h1v-1zM294 128v2h1v-2zM295 130v1h1v-1zM296 131v2h1v-2zM297 133v2h1v-2zM298 135v1h1v-1zM299 136v2h1v-2zM300 138v1h1v-1zM301 139v2h1v-2zM302 141v2h1v-2zM303 143v1h1v-1zM304 144v2h1v-2zM305 146v1h1v-1zM306 147v2h1v-2zM307 149v2h1v-2zM308 151v1h1v-1zM309 152v2h1v-2zM310 154v1h1v-1zM311 155v2h1v-2zM312 157v2h1v-2zM313 159v1h1v-1zM313 159v1h1v-1zM314 160v2h1v-2zM315 162v1h1v-1zM316 163v2h1v-2zM317 165v1h1v-1zM318 166v1h1v-1zM319 167v2h1v-2zM320 169v1h1v-1zM321 170v2h1v-2zM322 172v1h1v-1zM323 173v2h1v-2zM324 175v1h1v-1zM325 176v2h1v-2zM326 178v1h1v-1zM327 179v1h1v-1zM328 180v2h1v-2zM329 182v1h1v-1zM330 183v2h1v-2zM331 185v1h1v-1zM332 186v2h1v-2zM333 188v1h1v-1zM334 189v2h1v-2zM335 191v1h1v-1zM336 192v2h1v-2zM337 194v1h1v-1zM338 195v1h1v-1zM339 196v2h1v-2zM340 198v1h1v-1zM341 199v2h1v-2zM342 201v1h1v-1zM342 201v1h1v-1zM343 202v1h1v-1zM344 203v2h1v-2zM345 205v1h1v-1zM346 206v1h1v-1zM347 207v2h1v-2zM348 209v1h1v-1zM349 210v1h1v-1zM350 211v2h1v-2zM351 213v1h1v-1zM352 214v1h1v-1zM353 215v2h1v-2zM354 217v1h1v-1zM355 218v1h1v-1zM356 219v2h1v-2zM357 221v1h1v-1zM358 222v1h1v-1zM359 223v2h1v-2zM360 225v1h1v-1zM361 226v1h1v-1zM362 227v2h1v-2zM363 229v1h1v-1zM364 230v1h1v-1zM365 231v2h1v-2zM366 233v1h1v-1zM367 234v1h1v-1zM368 235v2h1v-2zM369 237v1h1v-1zM370 238v1h1v-1zM370 238h1v1h-1zM371 239h1v1h-1zM372 240h1v1h-1zM373 241h1v1h-1zM374 242h2v1h-2zM376 243h1v1h-1zM377 244h1v1h-1zM378 245h1v1h-1zM379 246h1v1h-1zM380 247h1v1h-1zM381 248h1v1h-1zM382 249h1v1h-1zM383 250h1v1h-1zM384 251h2v1h-2zM386 252h1v1h-1zM387 253h1v1h-1zM388 254h1v1h-1zM389 255h1v1h-1zM390 256h1v1h-1zM391 257h1v1h-1zM392 258h1v1h-1zM393 259h2v1h-2zM395 260h1v1h-1zM396 261h1v1h-1zM397 262h1v1h-1zM398 263h1v1h-1zM398 263h1v1h-1zM399 264h2v1h-2zM401 265h1v1h-1zM402 266h2v1h-2zM404 267h1v1h-1zM405 268h2v1h-2zM407 269h1v1h-1zM408 270h2v1h-2zM410 271h1v1h-1zM411 272h2v1h-2zM413 273h2v1h-2zM415 274h1v1h-1zM416 275h2v1h-2zM418 276h1v1h-1zM419 277h2v1h-2zM421 278h1v1h-1zM422 279h2v1h-2zM424 280h1v1h-1zM425 281h2v1h-2zM427 282h1v1h-1zM427 282h14v1h-14zM441 281h15v1h-15zM455 281h2v1h-2zM457 282h3v1h-3zM460 283h4v1h-4zM464 284h3v1h-3zM467 285h3v1h-3zM470 286h3v1h-3zM473 287h3v1h-3zM476 288h4v1h-4zM480 289h3v1h-3zM483 290h2v1h-2zM484 290h3v1h-3zM487 291h4v1h-4zM491 292h5v1h-5zM496 293h5v1h-5zM501 294h4v1h-4zM505 295h5v1h-5zM510 296h3v1h-3zM512 296h2v1h-2zM514 297h3v1h-3zM517 298h3v1h-3zM520 299h3v1h-3zM523 300h3v1h-3zM526 301h2v1h-2zM528 302h3v1h-3zM531 303h3v1h-3zM534 304h3v1h-3zM537 305h3v1h-3zM540 306h2v1h-2zM541 306h29v1h-29zM569 306h14v1h-14zM583 305h15v1h-15zM597 305h1v1h-1zM598 306h2v1h-2zM600 307h2v1h-2zM602 308h1v1h-1zM603 309h2v1h-2zM605 310h1v1h-1zM606 311h2v1h-2zM608 312h2v1h-2zM610 313h1v1h-1zM611 314h2v1h-2zM613 315h1v1h-1zM614 316h2v1h-2zM616 317h2v1h-2zM618 318h1v1h-1zM619 319h2v1h-2zM621 320h1v1h-1zM622 321h2v1h-2zM624 322h2v1h-2zM626 323h1v1h-1zM626 323h2v1h-2zM628 324h2v1h-2zM630 325h2v1h-2zM632 326h2v1h-2zM634 327h2v1h-2zM636 328h2v1h-2zM638 329h2v1h-2zM640 330h3v1h-3zM643 331h2v1h-2zM645 332h2v1h-2zM647 333h2v1h-2zM649 334h2v1h-2zM651 335h2v1h-2zM653 336h2v1h-2zM654 336v1h1v-1zM655 337v2h1v-2zM656 339v2h1v-2zM657 341v2h1v-2zM658 343v2h1v-2zM659 345v2h1v-2zM660 347v2h1v-2zM661 349v1h1v-1zM662 350v2h1v-2zM663 352v2h1v-2zM664 354v2h1v-2zM665 356v2h1v-2zM666 358v2h1v-2zM667 360v2h1v-2zM668 362v1h1v-1zM669 363v2h1v-2zM670 365v2h1v-2zM671 367v2h1v-2zM672 369v2h1v-2zM673 371v2h1v-2zM674 373v2h1v-2zM675 375v2h1v-2zM676 377v1h1v-1zM677 378v2h1v-2zM678 380v2h1v-2zM679 382v2h1v-2zM680 384v2h1v-2zM681 386v2h1v-2zM682 388v2h1v-2zM683 390v1h1v-1zM683 390v1h1v-1zM684 391v2h1v-2zM685 393v1h1v-1zM686 394v2h1v-2zM687 396v1h1v-1zM688 397v2h1v-2zM689 399v1h1v-1zM690 400v1h1v-1zM691 401v2h1v-2zM692 403v1h1v-1zM693 404v2h1v-2zM694 406v1h1v-1zM695 407v2h1v-2zM696 409v1h1v-1zM697 410v2h1v-2zM698 412v1h1v-1zM699 413v2h1v-2zM700 415v1h1v-1zM701 416v2h1v-2zM702 418v1h1v-1zM703 419v2h1v-2zM704 421v1h1v-1zM705 422v1h1v-1zM706 423v2h1v-2zM707 425v1h1v-1zM708 426v2h1v-2zM709 428v1h1v-1zM710 429v2h1v-2zM711 431v1h1v-1zM711 431v1h1v-1zM712 432v1h1v-1zM713 433v1h1v-1zM714 434v1h1v-1zM715 435v1h1v-1zM716 436v2h1v-2zM717 438v1h1v-1zM718 439v1h1v-1zM719 440v1h1v-1zM720 441v1h1v-1zM721 442v1h1v-1zM722 443v1h1v-1zM723 444v1h1v-1zM724 445v1h1v-1zM725 446v1h1v-1zM726 447v2h1v-2zM727 449v1h1v-1zM728 450v1h1v-1zM729 451v1h1v-1zM730 452v1h1v-1zM731 453v1h1v-1zM732 454v1h1v-1zM733 455v1h1v-1zM734 456v1h1v-1zM735 457v2h1v-2zM736 459v1h1v-1zM737 460v1h1v-1zM738 461v1h1v-1zM739 462v1h1v-1zM740 463v1h1v-1zM740 463h5v1h-5zM745 462h9v1h-9zM754 461h10v1h-10zM764 460h5v1h-5zM768 460h5v1h-5zM773 461h9v1h-9zM782 462h10v1h-10zM792 463h5v1h-5zM796 463h1v1h-1zM797 462h2v1h-2zM799 461h2v1h-2zM801 460h1v1h-1zM802 459h2v1h-2zM804 458h1v1h-1zM805 457h2v1h-2zM807 456h2v1h-2zM809 455h1v1h-1zM810 454h2v1h-2zM812 453h1v1h-1zM813 452h2v1h-2zM815 451h2v1h-2zM817 450h1v1h-1zM818 449h2v1h-2zM820 448h1v1h-1zM821 447h2v1h-2zM823 446h2v1h-2zM825 445h1v1h-1zM825 445v1h1v-1zM826 446v1h1v-1zM827 447v1h1v-1zM828 448v1h1v-1zM829 449v1h1v-1zM830 450v1h1v-1zM831 451v1h1v-1zM832 452v1h1v-1zM833 453v1h1v-1zM834 454v1h1v-1zM835 455v1h1v-1zM836 456v1h1v-1zM837 457v1h1v-1zM838 458v1h1v-1zM839 459v2h1v-2zM840 461v1h1v-1zM841 462v1h1v-1zM842 463v1h1v-1zM843 464v1h1v-1zM844 465v1h1v-1zM845 466v1h1v-1zM846 467v1h1v-1zM847 468v1h1v-1zM848 469v1h1v-1zM849 470v1h1v-1zM850 471v1h1v-1zM851 472v1h1v-1zM852 473v1h1v-1zM853 474v1h1v-1zM853 474h1v1h-1zM854 475h2v1h-2zM856 476h1v1h-1zM857 477h2v1h-2zM859 478h1v1h-1zM860 479h1v1h-1zM861 480h2v1h-2zM863 481h1v1h-1zM864 482h2v1h-2zM866 483h1v1h-1zM867 484h2v1h-2zM869 485h1v1h-1zM870 486h2v1h-2zM872 487h1v1h-1zM873 488h2v1h-2zM875 489h1v1h-1zM876 490h1v1h-1zM877 491h2v1h-2zM879 492h1v1h-1zM880 493h2v1h-2zM882 494h1v1h-1z" fill="#00FFFF"/>
<path d="M55 554h1v1h-1zM59 554h1v1h-1zM56 555h1v1h-1zM58 555h1v1h-1zM57 556h1v1h-1zM56 557h1v1h-1zM58 557h1v1h-1zM55 558h1v1h-1zM59 558h1v1h-1z" fill="#00FFFF"/>
<path d="M84 556h1v1h-1zM88 556h1v1h-1zM85 557h1v1h-1zM87 557h1v1h-1zM86 558h1v1h-1zM85 559h1v1h-1zM87 559h1v1h-1zM84 560h1v1h-1zM88 560h1v1h-1z" fill="#00FFFF"/>
<path d="M112 557h1v1h-1zM116 557h1v1h-1zM113 558h1v1h-1zM115 558h1v1h-1zM114 559h1v1h-1zM113 560h1v1h-1zM115 560h1v1h-1zM112 561h1v1h-1zM116 561h1v1h-1z" fill="#00FFFF"/>
<path d="M141 214h1v1h-1zM145 214h1v1h-1zM142 215h1v1h-1zM144 215h1v1h-1zM143 216h1v1h-1zM142 217h1v1h-1zM144 217h1v1h-1zM141 218h1v1h-1zM145 218h1v1h-1z" fill="#00FFFF"/>
<path d="M169 126h1v1h-1zM173 126h1v1h-1zM170 127h1v1h-1zM172 127h1v1h-1zM171 128h1v1h-1zM170 129h1v1h-1zM172 129h1v1h-1zM169 130h1v1h-1zM173 130h1v1h-1z" fill="#00FFFF"/>
<path d="M197 74h1v1h-1zM201 74h1v1h-1zM198 75h1v1h-1zM200 75h1v1h-1zM199 76h1v1h-1zM198 77h1v1h-1zM200 77h1v1h-1zM197 78h1v1h-1zM201 78h1v1h-1z" fill="#00FFFF"/>
<path d="M226 90h1v1h-1zM230 90h1v1h-1zM227 91h1v1h-1zM229 91h1v1h-1zM228 92h1v1h-1zM227 93h1v1h-1zM229 93h1v1h-1zM226 94h1v1h-1zM230 94h1v1h-1z" fill="#00FFFF"/>
<path d="M254 108h1v1h-1zM258 108h1v1h-1zM255 109h1v1h-1zM257 109h1v1h-1zM256 110h1v1h-1zM255 111h1v1h-1zM257 111h1v1h-1zM254 112h1v1h-1zM258 112h1v1h-1z" fill="#00FFFF"/>
<path d="M283 112h1v1h-1zM287 112h1v1h-1zM284 113h1v1h-1zM286 113h1v1h-1zM285 114h1v1h-1zM284 115h1v1h-1zM286 115h1v1h-1zM283 116h1v1h-1zM287 116h1v1h-1z" fill="#00FFFF"/>
<path d="M311 157h1v1h-1zM315 157h1v1h-1zM312 158h1v1h-1zM314 158h1v1h-1zM313 159h1v1h-1zM312 160h1v1h-1zM314 160h1v1h-1zM311 161h1v1h-1zM315 161h1v1h-1z" fill="#00FFFF"/>
<path d="M340 199h1v1h-1zM344 199h1v1h-1zM341 200h1v1h-1zM343 200h1v1h-1zM342 201h1v1h-1zM341 202h1v1h-1zM343 202h1v1h-1zM340 203h1v1h-1zM344 203h1v1h-1z" fill="#00FFFF"/>
<path d="M368 236h1v1h-1zM372 236h1v1h-1zM369 237h1v1h-1zM371 237h1v1h-1zM370 238h1v1h-1zM369 239h1v1h-1zM371 239h1v1h-1zM368 240h1v1h-1zM372 240h1v1h-1z" fill="#00FFFF"/>
<path d="M396 261h1v1h-1zM400 261h1v1h-1zM397 262h1v1h-1zM399 262h1v1h-1zM398 263h1v1h-1zM397 264h1v1h-1zM399 264h1v1h-1zM396 265h1v1h-1zM400 265h1v1h-1z" fill="#00FFFF"/>
<path d="M425 280h1v1h-1zM429 280h1v1h-1zM426 281h1v1h-1zM428 281h1v1h-1zM427 282h1v1h-1zM426 283h1v1h-1zM428 283h1v1h-1zM425 284h1v1h-1zM429 284h1v1h-1z" fill="#00FFFF"/>
<path d="M453 279h1v1h-1zM457 279h1v1h-1zM454 280h1v1h-1zM456 280h1v1h-1zM455 281h1v1h-1zM454 282h1v1h-1zM456 282h1v1h-1zM453 283h1v1h-1zM457 283h1v1h-1z" fill="#00FFFF"/>
<path d="M482 288h1v1h-1zM486 288h1v1h-1zM483 289h1v1h-1zM485 289h1v1h-1zM484 290h1v1h-1zM483 291h1v1h-1zM485 291h1v1h-1zM482 292h1v1h-1zM486 292h1v1h-1z" fill="#00FFFF"/>
<path d="M510 294h1v1h-1zM514 294h1v1h-1zM511 295h1v1h-1zM513 295h1v1h-1zM512 296h1v1h-1zM511 297h1v1h-1zM513 297h1v1h-1zM510 298h1v1h-1zM514 298h1v1h-1z" fill="#00FFFF"/>
<path d="M539 304h1v1h-1zM543 304h1v1h-1zM540 305h1v1h-1zM542 305h1v1h-1zM541 306h1v1h-1zM540 307h1v1h-1zM542 307h1v1h-1zM539 308h1v1h-1zM543 308h1v1h-1z" fill="#00FFFF"/>
<path d="M567 304h1v1h-1zM571 304h1v1h-1zM568 305h1v1h-1zM570 305h1v1h-1zM569 306h1v1h-1zM568 307h1v1h-1zM570 307h1v1h-1zM567 308h1v1h-1zM571 308h1v1h-1z" fill="#00FFFF"/>
<path d="M595 303h1v1h-1zM599 303h1v1h-1zM596 304h1v1h-1zM598 304h1v1h-1zM597 305h1v1h-1zM596 306h1v1h-1zM598 306h1v1h-1zM595 307h1v1h-1zM599 307h1v1h-1z" fill="#00FFFF"/>
<path d="M624 321h1v1h-1zM628 321h1v1h-1zM625 322h1v1h-1zM627 322h1v1h-1zM626 323h1v1h-1zM625 324h1v1h-1zM627 324h1v1h-1zM624 325h1v1h-1zM628 325h1v1h-1z" fill="#00FFFF"/>
<path d="M652 334h1v1h-1zM656 334h1v1h-1zM653 335h1v1h-1zM655 335h1v1h-1zM654 336h1v1h-1zM653 337h1v1h-1zM655 337h1v1h-1zM652 338h1v1h-1zM656 338h1v1h-1z" fill="#00FFFF"/>
<path d="M681 388h1v1h-1zM685 388h1v1h-1zM682 389h1v1h-1zM684 389h1v1h-1zM683 390h1v1h-1zM682 391h1v1h-1zM684 391h1v1h-1zM681 392h1v1h-1zM685 392h1v1h-1z" fill="#00FFFF"/>
<path d="M709 429h1v1h-1zM713 429h1v1h-1zM710 430h1v1h-1zM712 430h1v1h-1zM711 431h1v1h-1zM710 432h1v1h-1zM712 432h1v1h-1zM709 433h1v1h-1zM713 433h1v1h-1z" fill="#00FFFF"/>
<path d="M738 461h1v1h-1zM742 461h1v1h-1zM739 462h1v1h-1zM741 462h1v1h-1zM740 463h1v1h-1zM739 464h1v1h-1zM741 464h1v1h-1zM738 465h1v1h-1zM742 465h1v1h-1z" fill="#00FFFF"/>
<path d="M766 458h1v1h-1zM770 458h1v1h-1zM767 459h1v1h-1zM769 459h1v1h-1zM768 460h1v1h-1zM767 461h1v1h-1zM769 461h1v1h-1zM766 462h1v1h-1zM770 462h1v1h-1z" fill="#00FFFF"/>
<path d="M794 461h1v1h-1zM798 461h1v1h-1zM795 462h1v1h-1zM797 462h1v1h-1zM796 463h1v1h-1zM795 464h1v1h-1zM797 464h1v1h-1zM794 465h1v1h-1zM798 465h1v1h-1z" fill="#00FFFF"/>
<path d="M823 443h1v1h-1zM827 443h1v1h-1zM824 444h1v1h-1zM826 444h1v1h-1zM825 445h1v1h-1zM824 446h1v1h-1zM826 446h1v1h-1zM823 447h1v1h-1zM827 447h1v1h-1z" fill="#00FFFF"/>
<path d="M851 472h1v1h-1zM855 472h1v1h-1zM852 473h1v1h-1zM854 473h1v1h-1zM853 474h1v1h-1zM852 475h1v1h-1zM854 475h1v1h-1zM851 476h1v1h-1zM855 476h1v1h-1z" fill="#00FFFF"/>
<path d="M880 492h1v1h-1zM884 492h1v1h-1zM881 493h1v1h-1zM883 493h1v1h-1zM882 494h1v1h-1zM881 495h1v1h-1zM883 495h1v1h-1zM880 496h1v1h-1zM884 496h1v1h-1z" fill="#00FFFF"/>
</g>
<g><path d="M57 556h8v1h-8zM65 557h14v1h-14zM79 558h8v1h-8zM114 382v4h1v-4zM113 386v6h1v-6zM112 392v6h1v-6zM111 398v7h1v-7zM110 405v6h1v-6zM109 411v6h1v-6zM108 417v6h1v-6zM107 423v7h1v-7zM106 430v6h1v-6zM105 436v6h1v-6zM104 442v7h1v-7zM103 449v6h1v-6zM102 455v6h1v-6zM101 461v6h1v-6zM100 467v7h1v-7zM99 474v6h1v-6zM98 480v6h1v-6zM97 486v7h1v-7zM96 493v6h1v-6zM95 499v6h1v-6zM94 505v6h1v-6zM93 511v7h1v-7zM92 518v6h1v-6zM91 524v6h1v-6zM90 530v7h1v-7zM89 537v6h1v-6zM88 543v6h1v-6zM87 549v6h1v-6zM86 555v4h1v-4zM143 326v1h1v-1zM142 327v2h1v-2zM141 329v2h1v-2zM140 331v2h1v-2zM139 333v2h1v-2zM138 335v2h1v-2zM137 337v2h1v-2zM136 339v2h1v-2zM135 341v2h1v-2zM134 343v2h1v-2zM133 345v2h1v-2zM132 347v2h1v-2zM131 349v2h1v-2zM130 351v2h1v-2zM129 353v2h1v-2zM128 355v1h1v-1zM127 356v2h1v-2zM126 358v2h1v-2zM125 360v2h1v-2zM124 362v2h1v-2zM123 364v2h1v-2zM122 366v2h1v-2zM121 368v2h1v-2zM120 370v2h1v-2zM119 372v2h1v-2zM118 374v2h1v-2zM117 376v2h1v-2zM116 378v2h1v-2zM115 380v2h1v-2zM114 382v1h1v-1zM143 326h1v1h-1zM144 325h1v1h-1zM145 324h1v1h-1zM146 323h1v1h-1zM147 322h2v1h-2zM149 321h1v1h-1zM150 320h1v1h-1zM151 319h1v1h-1zM152 318h1v1h-1zM153 317h1v1h-1zM154 316h1v1h-1zM155 315h1v1h-1zM156 314h1v1h-1zM157 313h2v1h-2zM159 312h1v1h-1zM160 311h1v1h-1zM161 310h1v1h-1zM162 309h1v1h-1zM163 308h1v1h-1zM164 307h1v1h-1zM165 306h1v1h-1zM166 305h2v1h-2zM168 304h1v1h-1zM169 303h1v1h-1zM170 302h1v1h-1zM171 301h1v1h-1zM171 301h2v1h-2zM173 300h4v1h-4zM177 299h4v1h-4zM181 298h4v1h-4zM185 297h4v1h-4zM189 296h4v1h-4zM193 295h4v1h-4zM197 294h3v1h-3zM199 294h3v1h-3zM202 295h4v1h-4zM206 296h4v1h-4zM210 297h4v1h-4zM214 298h4v1h-4zM218 299h4v1h-4zM222 300h4v1h-4zM226 301h3v1h-3zM228 301h1v1h-1zM229 302h2v1h-2zM231 303h2v1h-2zM233 304h2v1h-2zM235 305h2v1h-2zM237 306h2v1h-2zM239 307h2v1h-2zM241 308h2v1h-2zM243 309h2v1h-2zM245 310h2v1h-2zM247 311h2v1h-2zM249 312h2v1h-2zM251 313h2v1h-2zM253 314h2v1h-2zM255 315h2v1h-2zM256 315h1v1h-1zM257 316h2v1h-2zM259 317h2v1h-2zM261 318h1v1h-1zM262 319h2v1h-2zM264 320h1v1h-1zM265 321h2v1h-2zM267 322h2v1h-2zM269 323h1v1h-1zM270 324h2v1h-2zM272 325h1v1h-1zM273 326h2v1h-2zM275 327h2v1h-2zM277 328h1v1h-1zM278 329h2v1h-2zM280 330h1v1h-1zM281 331h2v1h-2zM283 332h2v1h-2zM285 333h1v1h-1zM285 333h1v1h-1zM286 334h2v1h-2zM288 335h1v1h-1zM289 336h1v1h-1zM290 337h2v1h-2zM292 338h1v1h-1zM293 339h2v1h-2zM295 340h1v1h-1zM296 341h1v1h-1zM297 342h2v1h-2zM299 343h1v1h-1zM300 344h2v1h-2zM302 345h1v1h-1zM303 346h1v1h-1zM304 347h2v1h-2zM306 348h1v1h-1zM307 349h2v1h-2zM309 350h1v1h-1zM310 351h1v1h-1zM311 352h2v1h-2zM313 353h1v1h-1zM313 353v1h1v-1zM314 354v2h1v-2zM315 356v2h1v-2zM316 358v2h1v-2zM317 360v1h1v-1zM318 361v2h1v-2zM319 363v2h1v-2zM320 365v1h1v-1zM321 366v2h1v-2zM322 368v2h1v-2zM323 370v2h1v-2zM324 372v1h1v-1zM325 373v2h1v-2zM326 375v2h1v-2zM327 377v1h1v-1zM328 378v2h1v-2zM329 380v2h1v-2zM330 382v2h1v-2zM331 384v1h1v-1zM332 385v2h1v-2zM333 387v2h1v-2zM334 389v2h1v-2zM335 391v1h1v-1zM336 392v2h1v-2zM337 394v2h1v-2zM338 396v1h1v-1zM339 397v2h1v-2zM340 399v2h1v-2zM341 401v2h1v-2zM342 403v1h1v-1zM342 403h14v1h-14zM356 404h15v1h-15zM370 404h2v1h-2zM372 403h2v1h-2zM374 402h2v1h-2zM376 401h2v1h-2zM378 400h2v1h-2zM380 399h2v1h-2zM382 398h2v1h-2zM384 397h3v1h-3zM387 396h2v1h-2zM389 395h2v1h-2zM391 394h2v1h-2zM393 393h2v1h-2zM395 392h2v1h-2zM397 391h2v1h-2zM398 391h4v1h-4zM402 392h7v1h-7zM409 393h8v1h-8zM417 394h7v1h-7zM424 395h4v1h-4zM427 395h3v1h-3zM430 396h6v1h-6zM436 397h5v1h-5zM441 398h6v1h-6zM447 399h6v1h-6zM453 400h3v1h-3zM455 400h8v1h-8zM463 399h14v1h-14zM477 398h8v1h-8zM484 398h3v1h-3zM487 399h6v1h-6zM493 400h5v1h-5zM498 401h6v1h-6zM504 402h6v1h-6zM510 403h3v1h-3zM512 403h2v1h-2zM514 402h2v1h-2zM516 401h3v1h-3zM519 400h3v1h-3zM522 399h2v1h-2zM524 398h3v1h-3zM527 397h3v1h-3zM530 396h2v1h-2zM532 395h3v1h-3zM535 394h3v1h-3zM538 393h2v1h-2zM540 392h2v1h-2zM541 392h3v1h-3zM544 391h4v1h-4zM548 390h5v1h-5zM553 389h5v1h-5zM558 388h4v1h-4zM562 387h5v1h-5zM567 386h3v1h-3zM569 386h14v1h-14zM583 385h15v1h-15zM597 385h8v1h-8zM605 386h14v1h-14zM619 387h8v1h-8zM626 387h4v1h-4zM630 388h7v1h-7zM637 389h7v1h-7zM644 390h7v1h-7zM651 391h4v1h-4zM654 391h4v1h-4zM658 392h7v1h-7zM665 393h8v1h-8zM673 394h7v1h-7zM680 395h4v1h-4zM683 395h5v1h-5zM688 396h9v1h-9zM697 397h10v1h-10zM707 398h5v1h-5zM711 398h3v1h-3zM714 399h4v1h-4zM718 400h4v1h-4zM722 401h4v1h-4zM726 402h4v1h-4zM730 403h4v1h-4zM734 404h4v1h-4zM738 405h3v1h-3zM740 405h1v1h-1zM741 406h2v1h-2zM743 407h2v1h-2zM745 408h2v1h-2zM747 409h2v1h-2zM749 410h2v1h-2zM751 411h2v1h-2zM753 412h2v1h-2zM755 413h2v1h-2zM757 414h2v1h-2zM759 415h2v1h-2zM761 416h2v1h-2zM763 417h2v1h-2zM765 418h2v1h-2zM767 419h2v1h-2zM768 419h2v1h-2zM770 420h2v1h-2zM772 421h3v1h-3zM775 422h2v1h-2zM777 423h3v1h-3zM780 424h2v1h-2zM782 425h3v1h-3zM785 426h3v1h-3zM788 427h2v1h-2zM790 428h3v1h-3zM793 429h2v1h-2zM795 430h2v1h-2zM796 430h2v1h-2zM798 431h3v1h-3zM801 432h3v1h-3zM804 433h3v1h-3zM807 434h3v1h-3zM810 435h2v1h-2zM812 436h3v1h-3zM815 437h3v1h-3zM818 438h3v1h-3zM821 439h3v1h-3zM824 440h2v1h-2zM825 440h2v1h-2zM827 441h4v1h-4zM831 442h4v1h-4zM835 443h4v1h-4zM839 444h4v1h-4zM843 445h4v1h-4zM847 446h4v1h-4zM851 447h3v1h-3zM853 447h1v1h-1zM854 448h2v1h-2zM856 449h2v1h-2zM858 450h2v1h-2zM860 451h2v1h-2zM862 452h2v1h-2zM864 453h2v1h-2zM866 454h2v1h-2zM868 455h2v1h-2zM870 456h2v1h-2zM872 457h2v1h-2zM874 458h2v1h-2zM876 459h2v1h-2zM878 460h2v1h-2zM880 461h2v1h-2zM882 462h1v1h-1z" fill="#800080"/>
<path d="M55 554h1v1h-1zM57 554h1v1h-1zM59 554h1v1h-1zM56 555h3v1h-3zM55 556h5v1h-5zM56 557h3v1h-3zM55 558h1v1h-1zM57 558h1v1h-1zM59 558h1v1h-1z" fill="#800080"/>
<path d="M84 556h1v1h-1zM86 556h1v1h-1zM88 556h1v1h-1zM85 557h3v1h-3zM84 558h5v1h-5zM85 559h3v1h-3zM84 560h1v1h-1zM86 560h1v1h-1zM88 560h1v1h-1z" fill="#800080"/>
<path d="M112 380h1v1h-1zM114 380h1v1h-1zM116 380h1v1h-1zM113 381h3v1h-3zM112 382h5v1h-5zM113 383h3v1h-3zM112 384h1v1h-1zM114 384h1v1h-1zM116 384h1v1h-1z" fill="#800080"/>
<path d="M141 324h1v1h-1zM143 324h1v1h-1zM145 324h1v1h-1zM142 325h3v1h-3zM141 326h5v1h-5zM142 327h3v1h-3zM141 328h1v1h-1zM143 328h1v1h-1zM145 328h1v1h-1z" fill="#800080"/>
<path d="M169 299h1v1h-1zM171 299h1v1h-1zM173 299h1v1h-1zM170 300h3v1h-3zM169 301h5v1h-5zM170 302h3v1h-3zM169 303h1v1h-1zM171 303h1v1h-1zM173 303h1v1h-1z" fill="#800080"/>
<path d="M197 292h1v1h-1zM199 292h1v1h-1zM201 292h1v1h-1zM198 293h3v1h-3zM197 294h5v1h-5zM198 295h3v1h-3zM197 296h1v1h-1zM199 296h1v1h-1zM201 296h1v1h-1z" fill="#800080"/>
<path d="M226 299h1v1h-1zM228 299h1v1h-1zM230 299h1v1h-1zM227 300h3v1h-3zM226 301h5v1h-5zM227 302h3v1h-3zM226 303h1v1h-1zM228 303h1v1h-1zM230 303h1v1h-1z" fill="#800080"/>
<path d="M254 313h1v1h-1zM256 313h1v1h-1zM258 313h1v1h-1zM255 314h3v1h-3zM254 315h5v1h-5zM255 316h3v1h-3zM254 317h1v1h-1zM256 317h1v1h-1zM258 317h1v1h-1z" fill="#800080"/>
<path d="M283 331h1v1h-1zM285 331h1v1h-1zM287 331h1v1h-1zM284 332h3v1h-3zM283 333h5v1h-5zM284 334h3v1h-3zM283 335h1v1h-1zM285 335h1v1h-1zM287 335h1v1h-1z" fill="#800080"/>
<path d="M311 351h1v1h-1zM313 351h1v1h-1zM315 351h1v1h-1zM312 352h3v1h-3zM311 353h5v1h-5zM312 354h3v1h-3zM311 355h1v1h-1zM313 355h1v1h-1zM315 355h1v1h-1z" fill="#800080"/>
<path d="M340 401h1v1h-1zM342 401h1v1h-1zM344 401h1v1h-1zM341 402h3v1h-3zM340 403h5v1h-5zM341 404h3v1h-3zM340 405h1v1h-1zM342 405h1v1h-1zM344 405h1v1h-1z" fill="#800080"/>
<path d="M368 402h1v1h-1zM370 402h1v1h-1zM372 402h1v1h-1zM369 403h3v1h-3zM368 404h5v1h-5zM369 405h3v1h-3zM368 406h1v1h-1zM370 406h1v1h-1zM372 406h1v1h-1z" fill="#800080"/>
<path d="M396 389h1v1h-1zM398 389h1v1h-1zM400 389h1v1h-1zM397 390h3v1h-3zM396 391h5v1h-5zM397 392h3v1h-3zM396 393h1v1h-1zM398 393h1v1h-1zM400 393h1v1h-1z" fill="#800080"/>
<path d="M425 393h1v1h-1zM427 393h1v1h-1zM429 393h1v1h-1zM426 394h3v1h-3zM425 395h5v1h-5zM426 396h3v1h-3zM425 397h1v1h-1zM427 397h1v1h-1zM429 397h1v1h-1z" fill="#800080"/>
<path d="M453 398h1v1h-1zM455 398h1v1h-1zM457 398h1v1h-1zM454 399h3v1h-3zM453 400h5v1h-5zM454 401h3v1h-3zM453 402h1v1h-1zM455 402h1v1h-1zM457 402h1v1h-1z" fill="#800080"/>
<path d="M482 396h1v1h-1zM484 396h1v1h-1zM486 396h1v1h-1zM483 397h3v1h-3zM482 398h5v1h-5zM483 399h3v1h-3zM482 400h1v1h-1zM484 400h1v1h-1zM486 400h1v1h-1z" fill="#800080"/>
<path d="M510 401h1v1h-1zM512 401h1v1h-1zM514 401h1v1h-1zM511 402h3v1h-3zM510 403h5v1h-5zM511 404h3v1h-3zM510 405h1v1h-1zM512 405h1v1h-1zM514 405h1v1h-1z" fill="#800080"/>
<path d="M539 390h1v1h-1zM541 390h1v1h-1zM543 390h1v1h-1zM540 391h3v1h-3zM539 392h5v1h-5zM540 393h3v1h-3zM539 394h1v1h-1zM541 394h1v1h-1zM543 394h1v1h-1z" fill="#800080"/>
<path d="M567 384h1v1h-1zM569 384h1v1h-1zM571 384h1v1h-1zM568 385h3v1h-3zM567 386h5v1h-5zM568 387h3v1h-3zM567 388h1v1h-1zM569 388h1v1h-1zM571 388h1v1h-1z" fill="#800080"/>
<path d="M595 383h1v1h-1zM597 383h1v1h-1zM599 383h1v1h-1zM596 384h3v1h-3zM595 385h5v1h-5zM596 386h3v1h-3zM595 387h1v1h-1zM597 387h1v1h-1zM599 387h1v1h-1z" fill="#800080"/>
<path d="M624 385h1v1h-1zM626 385h1v1h-1zM628 385h1v1h-1zM625 386h3v1h-3zM624 387h5v1h-5zM625 388h3v1h-3zM624 389h1v1h-1zM626 389h1v1h-1zM628 389h1v1h-1z" fill="#800080"/>
<path d="M652 389h1v1h-1zM654 389h1v1h-1zM656 389h1v1h-1zM653 390h3v1h-3zM652 391h5v1h-5zM653 392h3v1h-3zM652 393h1v1h-1zM654 393h1v1h-1zM656 393h1v1h-1z" fill="#800080"/>
<path d="M681 393h1v1h-1zM683 393h1v1h-1zM685 393h1v1h-1zM682 394h3v1h-3zM681 395h5v1h-5zM682 396h3v1h-3zM681 397h1v1h-1zM683 397h1v1h-1zM685 397h1v1h-1z" fill="#800080"/>
<path d="M709 396h1v1h-1zM711 396h1v1h-1zM713 396h1v1h-1zM710 397h3v1h-3zM709 398h5v1h-5zM710 399h3v1h-3zM709 400h1v1h-1zM711 400h1v1h-1zM713 400h1v1h-1z" fill="#800080"/>
<path d="M738 403h1v1h-1zM740 403h1v1h-1zM742 403h1v1h-1zM739 404h3v1h-3zM738 405h5v1h-5zM739 406h3v1h-3zM738 407h1v1h-1zM740 407h1v1h-1zM742 407h1v1h-1z" fill="#800080"/>
<path d="M766 417h1v1h-1zM768 417h1v1h-1zM770 417h1v1h-1zM767 418h3v1h-3zM766 419h5v1h-5zM767 420h3v1h-3zM766 421h1v1h-1zM768 421h1v1h-1zM770 421h1v1h-1z" fill="#800080"/>
<path d="M794 428h1v1h-1zM796 428h1v1h-1zM798 428h1v1h-1zM795 429h3v1h-3zM794 430h5v1h-5zM795 431h3v1h-3zM794 432h1v1h-1zM796 432h1v1h-1zM798 432h1v1h-1z" fill="#800080"/>
<path d="M823 438h1v1h-1zM825 438h1v1h-1zM827 438h1v1h-1zM824 439h3v1h-3zM823 440h5v1h-5zM824 441h3v1h-3zM823 442h1v1h-1zM825 442h1v1h-1zM827 442h1v1h-1z" fill="#800080"/>
<path d="M851 445h1v1h-1zM853 445h1v1h-1zM855 445h1v1h-1zM852 446h3v1h-3zM851 447h5v1h-5zM852 448h3v1h-3zM851 449h1v1h-1zM853 449h1v1h-1zM855 449h1v1h-1z" fill="#800080"/>
<path d="M880 460h1v1h-1zM882 460h1v1h-1zM884 460h1v1h-1zM881 461h3v1h-3zM880 462h5v1h-5zM881 463h3v1h-3zM880 464h1v1h-1zM882 464h1v1h-1zM884 464h1v1h-1z" fill="#800080"/>
</g>
<g><path d="M57 556h8v1h-8zM65 557h14v1h-14zM79 558h8v1h-8zM86 558h14v1h-14zM100 559h15v1h-15zM114 559h15v1h-15zM129 560h15v1h-15zM171 434v3h1v-3zM170 437v4h1v-4zM169 441v5h1v-5zM168 446v4h1v-4zM167 450v5h1v-5zM166 455v4h1v-4zM165 459v5h1v-5zM164 464v4h1v-4zM163 468v5h1v-5zM162 473v4h1v-4zM161 477v5h1v-5zM160 482v4h1v-4zM159 486v5h1v-5zM158 491v4h1v-4zM157 495v5h1v-5zM156 500v4h1v-4zM155 504v5h1v-5zM154 509v4h1v-4zM153 513v5h1v-5zM152 518v4h1v-4zM151 522v5h1v-5zM150 527v4h1v-4zM149 531v5h1v-5zM148 536v4h1v-4zM147 540v5h1v-5zM146 545v4h1v-4zM145 549v5h1v-5zM144 554v4h1v-4zM143 558v3h1v-3zM199 364v2h1v-2zM198 366v2h1v-2zM197 368v3h1v-3zM196 371v2h1v-2zM195 373v3h1v-3zM194 376v2h1v-2zM193 378v3h1v-3zM192 381v2h1v-2zM191 383v3h1v-3zM190 386v2h1v-2zM189 388v3h1v-3zM188 391v2h1v-2zM187 393v3h1v-3zM186 396v2h1v-2zM185 398v3h1v-3zM184 401v2h1v-2zM183 403v3h1v-3zM182 406v2h1v-2zM181 408v3h1v-3zM180 411v2h1v-2zM179 413v3h1v-3zM178 416v2h1v-2zM177 418v3h1v-3zM176 421v2h1v-2zM175 423v3h1v-3zM174 426v2h1v-2zM173 428v3h1v-3zM172 431v2h1v-2zM171 433v2h1v-2zM228 291v2h1v-2zM227 293v2h1v-2zM226 295v3h1v-3zM225 298v2h1v-2zM224 300v3h1v-3zM223 303v2h1v-2zM222 305v3h1v-3zM221 308v2h1v-2zM220 310v3h1v-3zM219 313v2h1v-2zM218 315v3h1v-3zM217 318v2h1v-2zM216 320v3h1v-3zM215 323v2h1v-2zM214 325v3h1v-3zM213 328v3h1v-3zM212 331v2h1v-2zM211 333v3h1v-3zM210 336v2h1v-2zM209 338v3h1v-3zM208 341v2h1v-2zM207 343v3h1v-3zM206 346v2h1v-2zM205 348v3h1v-3zM204 351v2h1v-2zM203 353v3h1v-3zM202 356v2h1v-2zM201 358v3h1v-3zM200 361v2h1v-2zM199 363v2h1v-2zM228 291h2v1h-2zM230 290h2v1h-2zM232 289h2v1h-2zM234 288h3v1h-3zM237 287h2v1h-2zM239 286h2v1h-2zM241 285h3v1h-3zM244 284h2v1h-2zM246 283h2v1h-2zM248 282h3v1h-3zM251 281h2v1h-2zM253 280h2v1h-2zM255 279h2v1h-2zM256 279h4v1h-4zM260 280h7v1h-7zM267 281h8v1h-8zM275 282h7v1h-7zM282 283h4v1h-4zM285 283h1v1h-1zM286 284h1v1h-1zM287 285h1v1h-1zM288 286h2v1h-2zM290 287h1v1h-1zM291 288h1v1h-1zM292 289h1v1h-1zM293 290h1v1h-1zM294 291h1v1h-1zM295 292h2v1h-2zM297 293h1v1h-1zM298 294h1v1h-1zM299 295h1v1h-1zM300 296h1v1h-1zM301 297h1v1h-1zM302 298h2v1h-2zM304 299h1v1h-1zM305 300h1v1h-1zM306 301h1v1h-1zM307 302h1v1h-1zM308 303h1v1h-1zM309 304h2v1h-2zM311 305h1v1h-1zM312 306h1v1h-1zM313 307h1v1h-1zM313 307h5v1h-5zM318 306h10v1h-10zM328 305h10v1h-10zM338 304h5v1h-5zM342 304h1v1h-1zM343 305h1v1h-1zM344 306h1v1h-1zM345 307h1v1h-1zM346 308h1v1h-1zM347 309h1v1h-1zM348 310h1v1h-1zM349 311h2v1h-2zM351 312h1v1h-1zM352 313h1v1h-1zM353 314h1v1h-1zM354 315h1v1h-1zM355 316h1v1h-1zM356 317h1v1h-1zM357 318h1v1h-1zM358 319h1v1h-1zM359 320h1v1h-1zM360 321h1v1h-1zM361 322h1v1h-1zM362 323h1v1h-1zM363 324h2v1h-2zM365 325h1v1h-1zM366 326h1v1h-1zM367 327h1v1h-1zM368 328h1v1h-1zM369 329h1v1h-1zM370 330h1v1h-1zM370 330h2v1h-2zM372 331h2v1h-2zM374 332h2v1h-2zM376 333h3v1h-3zM379 334h2v1h-2zM381 335h2v1h-2zM383 336h3v1h-3zM386 337h2v1h-2zM388 338h2v1h-2zM390 339h3v1h-3zM393 340h2v1h-2zM395 341h2v1h-2zM397 342h2v1h-2zM398 342h2v1h-2zM400 343h2v1h-2zM402 344h3v1h-3zM405 345h2v1h-2zM407 346h2v1h-2zM409 347h3v1h-3zM412 348h2v1h-2zM414 349h3v1h-3zM417 350h2v1h-2zM419 351h2v1h-2zM421 352h3v1h-3zM424 353h2v1h-2zM426 354h2v1h-2zM427 354h1v1h-1zM428 355h2v1h-2zM430 356h2v1h-2zM432 357h2v1h-2zM434 358h2v1h-2zM436 359h2v1h-2zM438 360h2v1h-2zM440 361h2v1h-2zM442 362h2v1h-2zM444 363h2v1h-2zM446 364h2v1h-2zM448 365h2v1h-2zM450 366h2v1h-2zM452 367h2v1h-2zM454 368h2v1h-2zM455 368h4v1h-4zM459 369h7v1h-7zM466 370h8v1h-8zM474 371h7v1h-7zM481 372h4v1h-4zM484 372h7v1h-7zM491 373h14v1h-14zM505 374h8v1h-8zM512 374h8v1h-8zM520 375h14v1h-14zM534 376h8v1h-8zM541 376h2v1h-2zM543 377h2v1h-2zM545 378h2v1h-2zM547 379h3v1h-3zM550 380h2v1h-2zM552 381h2v1h-2zM554 382h3v1h-3zM557 383h2v1h-2zM559 384h2v1h-2zM561 385h3v1h-3zM564 386h2v1h-2zM566 387h2v1h-2zM568 388h2v1h-2zM569 388h2v1h-2zM571 389h2v1h-2zM573 390h2v1h-2zM575 391h3v1h-3zM578 392h2v1h-2zM580 393h2v1h-2zM582 394h3v1h-3zM585 395h2v1h-2zM587 396h2v1h-2zM589 397h3v1h-3zM592 398h2v1h-2zM594 399h2v1h-2zM596 400h2v1h-2zM597 400h8v1h-8zM605 399h14v1h-14zM619 398h8v1h-8zM626 398h29v1h-29zM654 398h2v1h-2zM656 399h3v1h-3zM659 400h4v1h-4zM663 401h3v1h-3zM666 402h3v1h-3zM669 403h3v1h-3zM672 404h3v1h-3zM675 405h4v1h-4zM679 406h3v1h-3zM682 407h2v1h-2zM683 407h7v1h-7zM690 406h14v1h-14zM704 405h8v1h-8zM711 405v1h1v-1zM712 406v1h1v-1zM713 407v2h1v-2zM714 409v1h1v-1zM715 410v1h1v-1zM716 411v2h1v-2zM717 413v1h1v-1zM718 414v1h1v-1zM719 415v2h1v-2zM720 417v1h1v-1zM721 418v1h1v-1zM722 419v2h1v-2zM723 421v1h1v-1zM724 422v1h1v-1zM725 423v1h1v-1zM726 424v2h1v-2zM727 426v1h1v-1zM728 427v1h1v-1zM729 428v2h1v-2zM730 430v1h1v-1zM731 431v1h1v-1zM732 432v2h1v-2zM733 434v1h1v-1zM734 435v1h1v-1zM735 436v2h1v-2zM736 438v1h1v-1zM737 439v1h1v-1zM738 440v2h1v-2zM739 442v1h1v-1zM740 443v1h1v-1zM740 443h2v1h-2zM742 442h3v1h-3zM745 441h3v1h-3zM748 440h3v1h-3zM751 439h3v1h-3zM754 438h4v1h-4zM758 437h3v1h-3zM761 436h3v1h-3zM764 435h3v1h-3zM767 434h2v1h-2zM768 434v1h1v-1zM769 435v1h1v-1zM770 436v1h1v-1zM771 437v1h1v-1zM772 438v1h1v-1zM773 439v2h1v-2zM774 441v1h1v-1zM775 442v1h1v-1zM776 443v1h1v-1zM777 444v1h1v-1zM778 445v1h1v-1zM779 446v1h1v-1zM780 447v1h1v-1zM781 448v1h1v-1zM782 449v2h1v-2zM783 451v1h1v-1zM784 452v1h1v-1zM785 453v1h1v-1zM786 454v1h1v-1zM787 455v1h1v-1zM788 456v1h1v-1zM789 457v1h1v-1zM790 458v1h1v-1zM791 459v2h1v-2zM792 461v1h1v-1zM793 462v1h1v-1zM794 463v1h1v-1zM795 464v1h1v-1zM796 465v1h1v-1zM796 465h1v1h-1zM797 464h2v1h-2zM799 463h2v1h-2zM801 462h2v1h-2zM803 461h2v1h-2zM805 460h1v1h-1zM806 459h2v1h-2zM808 458h2v1h-2zM810 457h2v1h-2zM812 456h2v1h-2zM814 455h2v1h-2zM816 454h1v1h-1zM817 453h2v1h-2zM819 452h2v1h-2zM821 451h2v1h-2zM823 450h2v1h-2zM825 449h1v1h-1zM825 449h14v1h-14zM839 448h15v1h-15zM853 448h15v1h-15zM868 447h15v1h-15z" fill="#800000"/>
<path d="M56 553h2v1h-2zM55 554h4v1h-4zM54 555h6v1h-6zM54 556h6v1h-6zM55 557h4v1h-4zM56 558h2v1h-2z" fill="#800000"/>
<path d="M85 555h2v1h-2zM84 556h4v1h-4zM83 557h6v1h-6zM83 558h6v1h-6zM84 559h4v1h-4zM85 560h2v1h-2z" fill="#800000"/>
<path d="M113 556h2v1h-2zM112 557h4v1h-4zM111 558h6v1h-6zM111 559h6v1h-6zM112 560h4v1h-4zM113 561h2v1h-2z" fill="#800000"/>
<path d="M142 557h2v1h-2zM141 558h4v1h-4zM140 559h6v1h-6zM140 560h6v1h-6zM141 561h4v1h-4zM142 562h2v1h-2z" fill="#800000"/>
<path d="M170 431h2v1h-2zM169 432h4v1h-4zM168 433h6v1h-6zM168 434h6v1h-6zM169 435h4v1h-4zM170 436h2v1h-2z" fill="#800000"/>
<path d="M198 361h2v1h-2zM197 362h4v1h-4zM196 363h6v1h-6zM196 364h6v1h-6zM197 365h4v1h-4zM198 366h2v1h-2z" fill="#800000"/>
<path d="M227 288h2v1h-2zM226 289h4v1h-4zM225 290h6v1h-6zM225 291h6v1h-6zM226 292h4v1h-4zM227 293h2v1h-2z" fill="#800000"/>
<path d="M255 276h2v1h-2zM254 277h4v1h-4zM253 278h6v1h-6zM253 279h6v1h-6zM254 280h4v1h-4zM255 281h2v1h-2z" fill="#800000"/>
<path d="M284 280h2v1h-2zM283 281h4v1h-4zM282 282h6v1h-6zM282 283h6v1h-6zM283 284h4v1h-4zM284 285h2v1h-2z" fill="#800000"/>
<path d="M312 304h2v1h-2zM311 305h4v1h-4zM310 306h6v1h-6zM310 307h6v1h-6zM311 308h4v1h-4zM312 309h2v1h-2z" fill="#800000"/>
<path d="M341 301h2v1h-2zM340 302h4v1h-4zM339 303h6v1h-6zM339 304h6v1h-6zM340 305h4v1h-4zM341 306h2v1h-2z" fill="#800000"/>
<path d="M369 327h2v1h-2zM368 328h4v1h-4zM367 329h6v1h-6zM367 330h6v1h-6zM368 331h4v1h-4zM369 332h2v1h-2z" fill="#800000"/>
<path d="M397 339h2v1h-2zM396 340h4v1h-4zM395 341h6v1h-6zM395 342h6v1h-6zM396 343h4v1h-4zM397 344h2v1h-2z" fill="#800000"/>
<path d="M426 351h2v1h-2zM425 352h4v1h-4zM424 353h6v1h-6zM424 354h6v1h-6zM425 355h4v1h-4zM426 356h2v1h-2z" fill="#800000"/>
<path d="M454 365h2v1h-2zM453 366h4v1h-4zM452 367h6v1h-6zM452 368h6v1h-6zM453 369h4v1h-4zM454 370h2v1h-2z" fill="#800000"/>
<path d="M483 369h2v1h-2zM482 370h4v1h-4zM481 371h6v1h-6zM481 372h6v1h-6zM482 373h4v1h-4zM483 374h2v1h-2z" fill="#800000"/>
<path d="M511 371h2v1h-2zM510 372h4v1h-4zM509 373h6v1h-6zM509 374h6v1h-6zM510 375h4v1h-4zM511 376h2v1h-2z" fill="#800000"/>
<path d="M540 373h2v1h-2zM539 374h4v1h-4zM538 375h6v1h-6zM538 376h6v1h-6zM539 377h4v1h-4zM540 378h2v1h-2z" fill="#800000"/>
<path d="M568 385h2v1h-2zM567 386h4v1h-4zM566 387h6v1h-6zM566 388h6v1h-6zM567 389h4v1h-4zM568 390h2v1h-2z" fill="#800000"/>
<path d="M596 397h2v1h-2zM595 398h4v1h-4zM594 399h6v1h-6zM594 400h6v1h-6zM595 401h4v1h-4zM596 402h2v1h-2z" fill="#800000"/>
<path d="M625 395h2v1h-2zM624 396h4v1h-4zM623 397h6v1h-6zM623 398h6v1h-6zM624 399h4v1h-4zM625 400h2v1h-2z" fill="#800000"/>
<path d="M653 395h2v1h-2zM652 396h4v1h-4zM651 397h6v1h-6zM651 398h6v1h-6zM652 399h4v1h-4zM653 400h2v1h-2z" fill="#800000"/>
<path d="M682 404h2v1h-2zM681 405h4v1h-4zM680 406h6v1h-6zM680 407h6v1h-6zM681 408h4v1h-4zM682 409h2v1h-2z" fill="#800000"/>
<path d="M710 402h2v1h-2zM709 403h4v1h-4zM708 404h6v1h-6zM708 405h6v1h-6zM709 406h4v1h-4zM710 407h2v1h-2z" fill="#800000"/>
<path d="M739 440h2v1h-2zM738 441h4v1h-4zM737 442h6v1h-6zM737 443h6v1h-6zM738 444h4v1h-4zM739 445h2v1h-2z" fill="#800000"/>
<path d="M767 431h2v1h-2zM766 432h4v1h-4zM765 433h6v1h-6zM765 434h6v1h-6zM766 435h4v1h-4zM767 436h2v1h-2z" fill="#800000"/>
<path d="M795 462h2v1h-2zM794 463h4v1h-4zM793 464h6v1h-6zM793 465h6v1h-6zM794 466h4v1h-4zM795 467h2v1h-2z" fill="#800000"/>
<path d="M824 446h2v1h-2zM823 447h4v1h-4zM822 448h6v1h-6zM822 449h6v1h-6zM823 450h4v1h-4zM824 451h2v1h-2z" fill="#800000"/>
<path d="M852 445h2v1h-2zM851 446h4v1h-4zM850 447h6v1h-6zM850 448h6v1h-6zM851 449h4v1h-4zM852 450h2v1h-2z" fill="#800000"/>
<path d="M881 444h2v1h-2zM880 445h4v1h-4zM879 446h6v1h-6zM879 447h6v1h-6zM880 448h4v1h-4zM881 449h2v1h-2z" fill="#800000"/>
</g>
<g><path d="M57 556h8v1h-8zM65 557h14v1h-14zM79 558h8v1h-8zM114 471v2h1v-2zM113 473v3h1v-3zM112 476v3h1v-3zM111 479v3h1v-3zM110 482v3h1v-3zM109 485v4h1v-4zM108 489v3h1v-3zM107 492v3h1v-3zM106 495v3h1v-3zM105 498v3h1v-3zM104 501v3h1v-3zM103 504v3h1v-3zM102 507v3h1v-3zM101 510v3h1v-3zM100 513v4h1v-4zM99 517v3h1v-3zM98 520v3h1v-3zM97 523v3h1v-3zM96 526v3h1v-3zM95 529v3h1v-3zM94 532v3h1v-3zM93 535v3h1v-3zM92 538v3h1v-3zM91 541v4h1v-4zM90 545v3h1v-3zM89 548v3h1v-3zM88 551v3h1v-3zM87 554v3h1v-3zM86 557v2h1v-2zM143 370v2h1v-2zM142 372v4h1v-4zM141 376v3h1v-3zM140 379v4h1v-4zM139 383v3h1v-3zM138 386v4h1v-4zM137 390v3h1v-3zM136 393v4h1v-4zM135 397v3h1v-3zM134 400v4h1v-4zM133 404v3h1v-3zM132 407v4h1v-4zM131 411v3h1v-3zM130 414v4h1v-4zM129 418v3h1v-3zM128 421v3h1v-3zM127 424v4h1v-4zM126 428v3h1v-3zM125 431v4h1v-4zM124 435v3h1v-3zM123 438v4h1v-4zM122 442v3h1v-3zM121 445v4h1v-4zM120 449v3h1v-3zM119 452v4h1v-4zM118 456v3h1v-3zM117 459v4h1v-4zM116 463v3h1v-3zM115 466v4h1v-4zM114 470v2h1v-2zM171 315v1h1v-1zM170 316v2h1v-2zM169 318v2h1v-2zM168 320v2h1v-2zM167 322v2h1v-2zM166 324v2h1v-2zM165 326v2h1v-2zM164 328v2h1v-2zM163 330v2h1v-2zM162 332v2h1v-2zM161 334v2h1v-2zM160 336v2h1v-2zM159 338v2h1v-2zM158 340v2h1v-2zM157 342v2h1v-2zM156 344v2h1v-2zM155 346v2h1v-2zM154 348v2h1v-2zM153 350v2h1v-2zM152 352v2h1v-2zM151 354v2h1v-2zM150 356v2h1v-2zM149 358v2h1v-2zM148 360v2h1v-2zM147 362v2h1v-2zM146 364v2h1v-2zM145 366v2h1v-2zM144 368v2h1v-2zM143 370v1h1v-1zM171 315h1v1h-1zM172 314h1v1h-1zM173 313h1v1h-1zM174 312h1v1h-1zM175 311h2v1h-2zM177 310h1v1h-1zM178 309h1v1h-1zM179 308h1v1h-1zM180 307h1v1h-1zM181 306h1v1h-1zM182 305h1v1h-1zM183 304h1v1h-1zM184 303h1v1h-1zM185 302h2v1h-2zM187 301h1v1h-1zM188 300h1v1h-1zM189 299h1v1h-1zM190 298h1v1h-1zM191 297h1v1h-1zM192 296h1v1h-1zM193 295h1v1h-1zM194 294h2v1h-2zM196 293h1v1h-1zM197 292h1v1h-1zM198 291h1v1h-1zM199 290h1v1h-1zM199 290h2v1h-2zM201 289h2v1h-2zM203 288h3v1h-3zM206 287h3v1h-3zM209 286h2v1h-2zM211 285h3v1h-3zM214 284h3v1h-3zM217 283h2v1h-2zM219 282h3v1h-3zM222 281h3v1h-3zM225 280h2v1h-2zM227 279h2v1h-2zM228 279h1v1h-1zM229 278h1v1h-1zM230 277h2v1h-2zM232 276h1v1h-1zM233 275h1v1h-1zM234 274h1v1h-1zM235 273h2v1h-2zM237 272h1v1h-1zM238 271h1v1h-1zM239 270h2v1h-2zM241 269h1v1h-1zM242 268h1v1h-1zM243 267h1v1h-1zM244 266h2v1h-2zM246 265h1v1h-1zM247 264h1v1h-1zM248 263h1v1h-1zM249 262h2v1h-2zM251 261h1v1h-1zM252 260h1v1h-1zM253 259h2v1h-2zM255 258h1v1h-1zM256 257h1v1h-1zM256 257h15v1h-15zM271 256h15v1h-15zM285 256v1h1v-1zM286 257v2h1v-2zM287 259v2h1v-2zM288 261v1h1v-1zM289 262v2h1v-2zM290 264v1h1v-1zM291 265v2h1v-2zM292 267v2h1v-2zM293 269v1h1v-1zM294 270v2h1v-2zM295 272v1h1v-1zM296 273v2h1v-2zM297 275v2h1v-2zM298 277v1h1v-1zM299 278v2h1v-2zM300 280v1h1v-1zM301 281v2h1v-2zM302 283v2h1v-2zM303 285v1h1v-1zM304 286v2h1v-2zM305 288v1h1v-1zM306 289v2h1v-2zM307 291v2h1v-2zM308 293v1h1v-1zM309 294v2h1v-2zM310 296v1h1v-1zM311 297v2h1v-2zM312 299v2h1v-2zM313 301v1h1v-1zM313 301h2v1h-2zM315 302h2v1h-2zM317 303h2v1h-2zM319 304h2v1h-2zM321 305h2v1h-2zM323 306h2v1h-2zM325 307h2v1h-2zM327 308h2v1h-2zM329 309h2v1h-2zM331 310h2v1h-2zM333 311h2v1h-2zM335 312h2v1h-2zM337 313h2v1h-2zM339 314h2v1h-2zM341 315h2v1h-2zM342 315h1v1h-1zM343 316h2v1h-2zM345 317h2v1h-2zM347 318h2v1h-2zM349 319h2v1h-2zM351 320h2v1h-2zM353 321h2v1h-2zM355 322h2v1h-2zM357 323h2v1h-2zM359 324h2v1h-2zM361 325h2v1h-2zM363 326h2v1h-2zM365 327h2v1h-2zM367 328h2v1h-2zM369 329h2v1h-2zM370 329v1h1v-1zM371 330v2h1v-2zM372 332v2h1v-2zM373 334v2h1v-2zM374 336v2h1v-2zM375 338v2h1v-2zM376 340v2h1v-2zM377 342v2h1v-2zM378 344v2h1v-2zM379 346v2h1v-2zM380 348v2h1v-2zM381 350v2h1v-2zM382 352v2h1v-2zM383 354v2h1v-2zM384 356v1h1v-1zM385 357v2h1v-2zM386 359v2h1v-2zM387 361v2h1v-2zM388 363v2h1v-2zM389 365v2h1v-2zM390 367v2h1v-2zM391 369v2h1v-2zM392 371v2h1v-2zM393 373v2h1v-2zM394 375v2h1v-2zM395 377v2h1v-2zM396 379v2h1v-2zM397 381v2h1v-2zM398 383v1h1v-1zM398 383h8v1h-8zM406 382h14v1h-14zM420 381h8v1h-8zM427 381v1h1v-1zM428 382v2h1v-2zM429 384v1h1v-1zM430 385v2h1v-2zM431 387v1h1v-1zM432 388v2h1v-2zM433 390v1h1v-1zM434 391v2h1v-2zM435 393v2h1v-2zM436 395v1h1v-1zM437 396v2h1v-2zM438 398v1h1v-1zM439 399v2h1v-2zM440 401v1h1v-1zM441 402v2h1v-2zM442 404v1h1v-1zM443 405v2h1v-2zM444 407v1h1v-1zM445 408v2h1v-2zM446 410v1h1v-1zM447 411v2h1v-2zM448 413v2h1v-2zM449 415v1h1v-1zM450 416v2h1v-2zM451 418v1h1v-1zM452 419v2h1v-2zM453 421v1h1v-1zM454 422v2h1v-2zM455 424v1h1v-1zM455 424v1h1v-1zM456 425v1h1v-1zM457 426v1h1v-1zM458 427v1h1v-1zM459 428v2h1v-2zM460 430v1h1v-1zM461 431v1h1v-1zM462 432v1h1v-1zM463 433v1h1v-1zM464 434v1h1v-1zM465 435v1h1v-1zM466 436v2h1v-2zM467 438v1h1v-1zM468 439v1h1v-1zM469 440v1h1v-1zM470 441v1h1v-1zM471 442v1h1v-1zM472 443v1h1v-1zM473 444v2h1v-2zM474 446v1h1v-1zM475 447v1h1v-1zM476 448v1h1v-1zM477 449v1h1v-1zM478 450v1h1v-1zM479 451v1h1v-1zM480 452v2h1v-2zM481 454v1h1v-1zM482 455v1h1v-1zM483 456v1h1v-1zM484 457v1h1v-1zM484 457h1v1h-1zM485 458h1v1h-1zM486 459h1v1h-1zM487 460h1v1h-1zM488 461h2v1h-2zM490 462h1v1h-1zM491 463h1v1h-1zM492 464h1v1h-1zM493 465h1v1h-1zM494 466h1v1h-1zM495 467h1v1h-1zM496 468h1v1h-1zM497 469h1v1h-1zM498 470h2v1h-2zM500 471h1v1h-1zM501 472h1v1h-1zM502 473h1v1h-1zM503 474h1v1h-1zM504 475h1v1h-1zM505 476h1v1h-1zM506 477h1v1h-1zM507 478h2v1h-2zM509 479h1v1h-1zM510 480h1v1h-1zM511 481h1v1h-1zM512 482h1v1h-1zM512 482h2v1h-2zM514 481h2v1h-2zM516 480h2v1h-2zM518 479h2v1h-2zM520 478h3v1h-3zM523 477h2v1h-2zM525 476h2v1h-2zM527 475h2v1h-2zM529 474h2v1h-2zM531 473h3v1h-3zM534 472h2v1h-2zM536 471h2v1h-2zM538 470h2v1h-2zM540 469h2v1h-2zM541 469h2v1h-2zM543 468h2v1h-2zM545 467h3v1h-3zM548 466h2v1h-2zM550 465h3v1h-3zM553 464h2v1h-2zM555 463h3v1h-3zM558 462h3v1h-3zM561 461h2v1h-2zM563 460h3v1h-3zM566 459h2v1h-2zM568 458h2v1h-2zM569 458h1v1h-1zM570 459h1v1h-1zM571 460h1v1h-1zM572 461h1v1h-1zM573 462h1v1h-1zM574 463h1v1h-1zM575 464h1v1h-1zM576 465h2v1h-2zM578 466h1v1h-1zM579 467h1v1h-1zM580 468h1v1h-1zM581 469h1v1h-1zM582 470h1v1h-1zM583 471h1v1h-1zM584 472h1v1h-1zM585 473h1v1h-1zM586 474h1v1h-1zM587 475h1v1h-1zM588 476h1v1h-1zM589 477h1v1h-1zM590 478h2v1h-2zM592 479h1v1h-1zM593 480h1v1h-1zM594 481h1v1h-1zM595 482h1v1h-1zM596 483h1v1h-1zM597 484h1v1h-1zM597 484h1v1h-1zM598 485h2v1h-2zM600 486h1v1h-1zM601 487h2v1h-2zM603 488h1v1h-1zM604 489h2v1h-2zM606 490h1v1h-1zM607 491h2v1h-2zM609 492h1v1h-1zM610 493h2v1h-2zM612 494h2v1h-2zM614 495h1v1h-1zM615 496h2v1h-2zM617 497h1v1h-1zM618 498h2v1h-2zM620 499h1v1h-1zM621 500h2v1h-2zM623 501h1v1h-1zM624 502h2v1h-2zM626 503h1v1h-1zM626 503h1v1h-1zM627 504h2v1h-2zM629 505h2v1h-2zM631 506h2v1h-2zM633 507h2v1h-2zM635 508h2v1h-2zM637 509h2v1h-2zM639 510h2v1h-2zM641 511h2v1h-2zM643 512h2v1h-2zM645 513h2v1h-2zM647 514h2v1h-2zM649 515h2v1h-2zM651 516h2v1h-2zM653 517h2v1h-2zM654 517h2v1h-2zM656 518h2v1h-2zM658 519h3v1h-3zM661 520h3v1h-3zM664 521h2v1h-2zM666 522h3v1h-3zM669 523h3v1h-3zM672 524h2v1h-2zM674 525h3v1h-3zM677 526h3v1h-3zM680 527h2v1h-2zM682 528h2v1h-2zM683 528h2v1h-2zM685 529h4v1h-4zM689 530h3v1h-3zM692 531h4v1h-4zM696 532h3v1h-3zM699 533h4v1h-4zM703 534h3v1h-3zM706 535h4v1h-4zM710 536h2v1h-2zM711 536h3v1h-3zM714 537h4v1h-4zM718 538h4v1h-4zM722 539h4v1h-4zM726 540h4v1h-4zM730 541h4v1h-4zM734 542h4v1h-4zM738 543h3v1h-3zM740 543h4v1h-4zM744 544h7v1h-7zM751 545h7v1h-7zM758 546h7v1h-7zM765 547h4v1h-4zM768 547h4v1h-4zM772 548h7v1h-7zM779 549h7v1h-7zM786 550h7v1h-7zM793 551h4v1h-4zM796 551h5v1h-5zM801 552h10v1h-10zM811 553h10v1h-10zM821 554h5v1h-5zM825 554h7v1h-7zM832 555h14v1h-14zM846 556h8v1h-8zM853 556h8v1h-8zM861 557h14v1h-14zM875 558h8v1h-8z" fill="#008080"/>
<path d="M57 554h1v1h-1zM57 555h1v1h-1zM55 556h5v1h-5zM57 557h1v1h-1zM57 558h1v1h-1z" fill="#008080"/>
<path d="M86 556h1v1h-1zM86 557h1v1h-1zM84 558h5v1h-5zM86 559h1v1h-1zM86 560h1v1h-1z" fill="#008080"/>
<path d="M114 469h1v1h-1zM114 470h1v1h-1zM112 471h5v1h-5zM114 472h1v1h-1zM114 473h1v1h-1z" fill="#008080"/>
<path d="M143 368h1v1h-1zM143 369h1v1h-1zM141 370h5v1h-5zM143 371h1v1h-1zM143 372h1v1h-1z" fill="#008080"/>
<path d="M171 313h1v1h-1zM171 314h1v1h-1zM169 315h5v1h-5zM171 316h1v1h-1zM171 317h1v1h-1z" fill="#008080"/>
<path d="M199 288h1v1h-1zM199 289h1v1h-1zM197 290h5v1h-5zM199 291h1v1h-1zM199 292h1v1h-1z" fill="#008080"/>
<path d="M228 277h1v1h-1zM228 278h1v1h-1zM226 279h5v1h-5zM228 280h1v1h-1zM228 281h1v1h-1z" fill="#008080"/>
<path d="M256 255h1v1h-1zM256 256h1v1h-1zM254 257h5v1h-5zM256 258h1v1h-1zM256 259h1v1h-1z" fill="#008080"/>
<path d="M285 254h1v1h-1zM285 255h1v1h-1zM283 256h5v1h-5zM285 257h1v1h-1zM285 258h1v1h-1z" fill="#008080"/>
<path d="M313 299h1v1h-1zM313 300h1v1h-1zM311 301h5v1h-5zM313 302h1v1h-1zM313 303h1v1h-1z" fill="#008080"/>
<path d="M342 313h1v1h-1zM342 314h1v1h-1zM340 315h5v1h-5zM342 316h1v1h-1zM342 317h1v1h-1z" fill="#008080"/>
<path d="M370 327h1v1h-1zM370 328h1v1h-1zM368 329h5v1h-5zM370 330h1v1h-1zM370 331h1v1h-1z" fill="#008080"/>
<path d="M398 381h1v1h-1zM398 382h1v1h-1zM396 383h5v1h-5zM398 384h1v1h-1zM398 385h1v1h-1z" fill="#008080"/>
<path d="M427 379h1v1h-1zM427 380h1v1h-1zM425 381h5v1h-5zM427 382h1v1h-1zM427 383h1v1h-1z" fill="#008080"/>
<path d="M455 422h1v1h-1zM455 423h1v1h-1zM453 424h5v1h-5zM455 425h1v1h-1zM455 426h1v1h-1z" fill="#008080"/>
<path d="M484 455h1v1h-1zM484 456h1v1h-1zM482 457h5v1h-5zM484 458h1v1h-1zM484 459h1v1h-1z" fill="#008080"/>
<path d="M512 480h1v1h-1zM512 481h1v1h-1zM510 482h5v1h-5zM512 483h1v1h-1zM512 484h1v1h-1z" fill="#008080"/>
<path d="M541 467h1v1h-1zM541 468h1v1h-1zM539 469h5v1h-5zM541 470h1v1h-1zM541 471h1v1h-1z" fill="#008080"/>
<path d="M569 456h1v1h-1zM569 457h1v1h-1zM567 458h5v1h-5zM569 459h1v1h-1zM569 460h1v1h-1z" fill="#008080"/>
<path d="M597 482h1v1h-1zM597 483h1v1h-1zM595 484h5v1h-5zM597 485h1v1h-1zM597 486h1v1h-1z" fill="#008080"/>
<path d="M626 501h1v1h-1zM626 502h1v1h-1zM624 503h5v1h-5zM626 504h1v1h-1zM626 505h1v1h-1z" fill="#008080"/>
<path d="M654 515h1v1h-1zM654 516h1v1h-1zM652 517h5v1h-5zM654 518h1v1h-1zM654 519h1v1h-1z" fill="#008080"/>
<path d="M683 526h1v1h-1zM683 527h1v1h-1zM681 528h5v1h-5zM683 529h1v1h-1zM683 530h1v1h-1z" fill="#008080"/>
<path d="M711 534h1v1h-1zM711 535h1v1h-1zM709 536h5v1h-5zM711 537h1v1h-1zM711 538h1v1h-1z" fill="#008080"/>
<path d="M740 541h1v1h-1zM740 542h1v1h-1zM738 543h5v1h-5zM740 544h1v1h-1zM740 545h1v1h-1z" fill="#008080"/>
<path d="M768 545h1v1h-1zM768 546h1v1h-1zM766 547h5v1h-5zM768 548h1v1h-1zM768 549h1v1h-1z" fill="#008080"/>
<path d="M796 549h1v1h-1zM796 550h1v1h-1zM794 551h5v1h-5zM796 552h1v1h-1zM796 553h1v1h-1z" fill="#008080"/>
<path d="M825 552h1v1h-1zM825 553h1v1h-1zM823 554h5v1h-5zM825 555h1v1h-1zM825 556h1v1h-1z" fill="#008080"/>
<path d="M853 554h1v1h-1zM853 555h1v1h-1zM851 556h5v1h-5zM853 557h1v1h-1zM853 558h1v1h-1z" fill="#008080"/>
<path d="M882 556h1v1h-1zM882 557h1v1h-1zM880 558h5v1h-5zM882 559h1v1h-1zM882 560h1v1h-1z" fill="#008080"/>
</g>
<g><path d="M57 556h8v1h-8zM65 557h14v1h-14zM79 558h8v1h-8zM114 522v1h1v-1zM113 523v1h1v-1zM112 524v2h1v-2zM111 526v1h1v-1zM110 527v1h1v-1zM109 528v2h1v-2zM108 530v1h1v-1zM107 531v1h1v-1zM106 532v1h1v-1zM105 533v2h1v-2zM104 535v1h1v-1zM103 536v1h1v-1zM102 537v2h1v-2zM101 539v1h1v-1zM100 540v1h1v-1zM99 541v1h1v-1zM98 542v2h1v-2zM97 544v1h1v-1zM96 545v1h1v-1zM95 546v2h1v-2zM94 548v1h1v-1zM93 549v1h1v-1zM92 550v1h1v-1zM91 551v2h1v-2zM90 553v1h1v-1zM89 554v1h1v-1zM88 555v2h1v-2zM87 557v1h1v-1zM86 558v1h1v-1zM143 459v2h1v-2zM142 461v2h1v-2zM141 463v2h1v-2zM140 465v2h1v-2zM139 467v2h1v-2zM138 469v2h1v-2zM137 471v3h1v-3zM136 474v2h1v-2zM135 476v2h1v-2zM134 478v2h1v-2zM133 480v2h1v-2zM132 482v2h1v-2zM131 484v3h1v-3zM130 487v2h1v-2zM129 489v2h1v-2zM128 491v2h1v-2zM127 493v2h1v-2zM126 495v3h1v-3zM125 498v2h1v-2zM124 500v2h1v-2zM123 502v2h1v-2zM122 504v2h1v-2zM121 506v2h1v-2zM120 508v3h1v-3zM119 511v2h1v-2zM118 513v2h1v-2zM117 515v2h1v-2zM116 517v2h1v-2zM115 519v2h1v-2zM114 521v2h1v-2zM171 383v2h1v-2zM170 385v3h1v-3zM169 388v2h1v-2zM168 390v3h1v-3zM167 393v3h1v-3zM166 396v2h1v-2zM165 398v3h1v-3zM164 401v3h1v-3zM163 404v3h1v-3zM162 407v2h1v-2zM161 409v3h1v-3zM160 412v3h1v-3zM159 415v2h1v-2zM158 417v3h1v-3zM157 420v3h1v-3zM156 423v3h1v-3zM155 426v2h1v-2zM154 428v3h1v-3zM153 431v3h1v-3zM152 434v2h1v-2zM151 436v3h1v-3zM150 439v3h1v-3zM149 442v3h1v-3zM148 445v2h1v-2zM147 447v3h1v-3zM146 450v3h1v-3zM145 453v2h1v-2zM144 455v3h1v-3zM143 458v2h1v-2zM199 341v1h1v-1zM198 342v2h1v-2zM197 344v1h1v-1zM196 345v2h1v-2zM195 347v1h1v-1zM194 348v2h1v-2zM193 350v1h1v-1zM192 351v2h1v-2zM191 353v1h1v-1zM190 354v2h1v-2zM189 356v1h1v-1zM188 357v2h1v-2zM187 359v1h1v-1zM186 360v2h1v-2zM185 362v1h1v-1zM184 363v2h1v-2zM183 365v1h1v-1zM182 366v2h1v-2zM181 368v1h1v-1zM180 369v2h1v-2zM179 371v1h1v-1zM178 372v2h1v-2zM177 374v1h1v-1zM176 375v2h1v-2zM175 377v1h1v-1zM174 378v2h1v-2zM173 380v1h1v-1zM172 381v2h1v-2zM171 383v1h1v-1zM199 341h1v1h-1zM200 340h1v1h-1zM201 339h1v1h-1zM202 338h1v1h-1zM203 337h1v1h-1zM204 336h1v1h-1zM205 335h1v1h-1zM206 334h2v1h-2zM208 333h1v1h-1zM209 332h1v1h-1zM210 331h1v1h-1zM211 330h1v1h-1zM212 329h1v1h-1zM213 328h1v1h-1zM214 327h1v1h-1zM215 326h1v1h-1zM216 325h1v1h-1zM217 324h1v1h-1zM218 323h1v1h-1zM219 322h1v1h-1zM220 321h2v1h-2zM222 320h1v1h-1zM223 319h1v1h-1zM224 318h1v1h-1zM225 317h1v1h-1zM226 316h1v1h-1zM227 315h1v1h-1zM228 314h1v1h-1zM228 314h1v1h-1zM229 313h2v1h-2zM231 312h2v1h-2zM233 311h2v1h-2zM235 310h2v1h-2zM237 309h2v1h-2zM239 308h2v1h-2zM241 307h1v1h-1zM242 306h2v1h-2zM244 305h2v1h-2zM246 304h2v1h-2zM248 303h2v1h-2zM250 302h2v1h-2zM252 301h2v1h-2zM254 300h2v1h-2zM256 299h1v1h-1zM256 299h30v1h-30zM285 299v2h1v-2zM286 301v2h1v-2zM287 303v2h1v-2zM288 305v2h1v-2zM289 307v3h1v-3zM290 310v2h1v-2zM291 312v2h1v-2zM292 314v2h1v-2zM293 316v3h1v-3zM294 319v2h1v-2zM295 321v2h1v-2zM296 323v2h1v-2zM297 325v3h1v-3zM298 328v2h1v-2zM299 330v2h1v-2zM300 332v2h1v-2zM301 334v3h1v-3zM302 337v2h1v-2zM303 339v2h1v-2zM304 341v2h1v-2zM305 343v3h1v-3zM306 346v2h1v-2zM307 348v2h1v-2zM308 350v2h1v-2zM309 352v3h1v-3zM310 355v2h1v-2zM311 357v2h1v-2zM312 359v2h1v-2zM313 361v2h1v-2zM313 362v1h1v-1zM314 363v2h1v-2zM315 365v2h1v-2zM316 367v1h1v-1zM317 368v2h1v-2zM318 370v2h1v-2zM319 372v1h1v-1zM320 373v2h1v-2zM321 375v2h1v-2zM322 377v1h1v-1zM323 378v2h1v-2zM324 380v2h1v-2zM325 382v1h1v-1zM326 383v2h1v-2zM327 385v1h1v-1zM328 386v2h1v-2zM329 388v2h1v-2zM330 390v1h1v-1zM331 391v2h1v-2zM332 393v2h1v-2zM333 395v1h1v-1zM334 396v2h1v-2zM335 398v2h1v-2zM336 400v1h1v-1zM337 401v2h1v-2zM338 403v2h1v-2zM339 405v1h1v-1zM340 406v2h1v-2zM341 408v2h1v-2zM342 410v1h1v-1zM342 410v1h1v-1zM343 411v1h1v-1zM344 412v2h1v-2zM345 414v1h1v-1zM346 415v1h1v-1zM347 416v2h1v-2zM348 418v1h1v-1zM349 419v1h1v-1zM350 420v1h1v-1zM351 421v2h1v-2zM352 423v1h1v-1zM353 424v1h1v-1zM354 425v2h1v-2zM355 427v1h1v-1zM356 428v1h1v-1zM357 429v1h1v-1zM358 430v2h1v-2zM359 432v1h1v-1zM360 433v1h1v-1zM361 434v2h1v-2zM362 436v1h1v-1zM363 437v1h1v-1zM364 438v1h1v-1zM365 439v2h1v-2zM366 441v1h1v-1zM367 442v1h1v-1zM368 443v2h1v-2zM369 445v1h1v-1zM370 446v1h1v-1zM370 446h2v1h-2zM372 445h4v1h-4zM376 444h3v1h-3zM379 443h4v1h-4zM383 442h3v1h-3zM386 441h4v1h-4zM390 440h3v1h-3zM393 439h4v1h-4zM397 438h2v1h-2zM398 438h1v1h-1zM399 437h2v1h-2zM401 436h2v1h-2zM403 435h1v1h-1zM404 434h2v1h-2zM406 433h2v1h-2zM408 432h2v1h-2zM410 431h1v1h-1zM411 430h2v1h-2zM413 429h2v1h-2zM415 428h1v1h-1zM416 427h2v1h-2zM418 426h2v1h-2zM420 425h2v1h-2zM422 424h1v1h-1zM423 423h2v1h-2zM425 422h2v1h-2zM427 421h1v1h-1zM427 421h1v1h-1zM428 420h2v1h-2zM430 419h1v1h-1zM431 418h2v1h-2zM433 417h1v1h-1zM434 416h2v1h-2zM436 415h1v1h-1zM437 414h2v1h-2zM439 413h1v1h-1zM440 412h1v1h-1zM441 411h2v1h-2zM443 410h1v1h-1zM444 409h2v1h-2zM446 408h1v1h-1zM447 407h2v1h-2zM449 406h1v1h-1zM450 405h2v1h-2zM452 404h1v1h-1zM453 403h2v1h-2zM455 402h1v1h-1zM455 402h2v1h-2zM457 401h2v1h-2zM459 400h2v1h-2zM461 399h2v1h-2zM463 398h2v1h-2zM465 397h2v1h-2zM467 396h2v1h-2zM469 395h2v1h-2zM471 394h2v1h-2zM473 393h2v1h-2zM475 392h2v1h-2zM477 391h2v1h-2zM479 390h2v1h-2zM481 389h2v1h-2zM483 388h2v1h-2zM484 388h4v1h-4zM488 387h7v1h-7zM495 386h7v1h-7zM502 385h7v1h-7zM509 384h4v1h-4zM512 384h5v1h-5zM517 383h10v1h-10zM527 382h10v1h-10zM537 381h5v1h-5zM541 381h2v1h-2zM543 380h4v1h-4zM547 379h4v1h-4zM551 378h4v1h-4zM555 377h4v1h-4zM559 376h4v1h-4zM563 375h4v1h-4zM567 374h3v1h-3zM569 374h1v1h-1zM570 373h2v1h-2zM572 372h1v1h-1zM573 371h2v1h-2zM575 370h1v1h-1zM576 369h2v1h-2zM578 368h2v1h-2zM580 367h1v1h-1zM581 366h2v1h-2zM583 365h1v1h-1zM584 364h2v1h-2zM586 363h1v1h-1zM587 362h2v1h-2zM589 361h1v1h-1zM590 360h2v1h-2zM592 359h2v1h-2zM594 358h1v1h-1zM595 357h2v1h-2zM597 356h1v1h-1zM597 356h1v1h-1zM598 355h1v1h-1zM599 354h1v1h-1zM600 353h1v1h-1zM601 352h1v1h-1zM602 351h1v1h-1zM603 350h1v1h-1zM604 349h2v1h-2zM606 348h1v1h-1zM607 347h1v1h-1zM608 346h1v1h-1zM609 345h1v1h-1zM610 344h1v1h-1zM611 343h1v1h-1zM612 342h1v1h-1zM613 341h1v1h-1zM614 340h1v1h-1zM615 339h1v1h-1zM616 338h1v1h-1zM617 337h1v1h-1zM618 336h2v1h-2zM620 335h1v1h-1zM621 334h1v1h-1zM622 333h1v1h-1zM623 332h1v1h-1zM624 331h1v1h-1zM625 330h1v1h-1zM626 329h1v1h-1zM626 329v2h1v-2zM627 331v2h1v-2zM628 333v2h1v-2zM629 335v2h1v-2zM630 337v2h1v-2zM631 339v2h1v-2zM632 341v2h1v-2zM633 343v2h1v-2zM634 345v2h1v-2zM635 347v2h1v-2zM636 349v2h1v-2zM637 351v2h1v-2zM638 353v2h1v-2zM639 355v2h1v-2zM640 357v2h1v-2zM641 359v2h1v-2zM642 361v2h1v-2zM643 363v2h1v-2zM644 365v2h1v-2zM645 367v2h1v-2zM646 369v2h1v-2zM647 371v2h1v-2zM648 373v2h1v-2zM649 375v2h1v-2zM650 377v2h1v-2zM651 379v2h1v-2zM652 381v2h1v-2zM653 383v2h1v-2zM654 385v2h1v-2zM654 386v1h1v-1zM655 387v2h1v-2zM656 389v1h1v-1zM657 390v1h1v-1zM658 391v2h1v-2zM659 393v1h1v-1zM660 394v2h1v-2zM661 396v1h1v-1zM662 397v2h1v-2zM663 399v1h1v-1zM664 400v1h1v-1zM665 401v2h1v-2zM666 403v1h1v-1zM667 404v2h1v-2zM668 406v1h1v-1zM669 407v1h1v-1zM670 408v2h1v-2zM671 410v1h1v-1zM672 411v2h1v-2zM673 413v1h1v-1zM674 414v1h1v-1zM675 415v2h1v-2zM676 417v1h1v-1zM677 418v2h1v-2zM678 420v1h1v-1zM679 421v2h1v-2zM680 423v1h1v-1zM681 424v1h1v-1zM682 425v2h1v-2zM683 427v1h1v-1zM683 427v1h1v-1zM684 428v1h1v-1zM685 429v1h1v-1zM686 430v2h1v-2zM687 432v1h1v-1zM688 433v1h1v-1zM689 434v1h1v-1zM690 435v1h1v-1zM691 436v2h1v-2zM692 438v1h1v-1zM693 439v1h1v-1zM694 440v1h1v-1zM695 441v1h1v-1zM696 442v1h1v-1zM697 443v2h1v-2zM698 445v1h1v-1zM699 446v1h1v-1zM700 447v1h1v-1zM701 448v1h1v-1zM702 449v1h1v-1zM703 450v2h1v-2zM704 452v1h1v-1zM705 453v1h1v-1zM706 454v1h1v-1zM707 455v1h1v-1zM708 456v2h1v-2zM709 458v1h1v-1zM710 459v1h1v-1zM711 460v1h1v-1zM711 460h1v1h-1zM712 461h1v1h-1zM713 462h2v1h-2zM715 463h1v1h-1zM716 464h1v1h-1zM717 465h1v1h-1zM718 466h1v1h-1zM719 467h2v1h-2zM721 468h1v1h-1zM722 469h1v1h-1zM723 470h1v1h-1zM724 471h1v1h-1zM725 472h2v1h-2zM727 473h1v1h-1zM728 474h1v1h-1zM729 475h1v1h-1zM730 476h1v1h-1zM731 477h2v1h-2zM733 478h1v1h-1zM734 479h1v1h-1zM735 480h1v1h-1zM736 481h1v1h-1zM737 482h2v1h-2zM739 483h1v1h-1zM740 484h1v1h-1zM740 484h1v1h-1zM741 485h2v1h-2zM743 486h1v1h-1zM744 487h2v1h-2zM746 488h1v1h-1zM747 489h2v1h-2zM749 490h1v1h-1zM750 491h2v1h-2zM752 492h1v1h-1zM753 493h1v1h-1zM754 494h2v1h-2zM756 495h1v1h-1zM757 496h2v1h-2zM759 497h1v1h-1zM760 498h2v1h-2zM762 499h1v1h-1zM763 500h2v1h-2zM765 501h1v1h-1zM766 502h2v1h-2zM768 503h1v1h-1zM768 503h1v1h-1zM769 504h2v1h-2zM771 505h2v1h-2zM773 506h2v1h-2zM775 507h2v1h-2zM777 508h2v1h-2zM779 509h2v1h-2zM781 510h2v1h-2zM783 511h2v1h-2zM785 512h2v1h-2zM787 513h2v1h-2zM789 514h2v1h-2zM791 515h2v1h-2zM793 516h2v1h-2zM795 517h2v1h-2zM796 517h2v1h-2zM798 518h2v1h-2zM800 519h3v1h-3zM803 520h3v1h-3zM806 521h2v1h-2zM808 522h3v1h-3zM811 523h3v1h-3zM814 524h2v1h-2zM816 525h3v1h-3zM819 526h3v1h-3zM822 527h2v1h-2zM824 528h2v1h-2zM825 528h2v1h-2zM827 529h4v1h-4zM831 530h3v1h-3zM834 531h4v1h-4zM838 532h3v1h-3zM841 533h4v1h-4zM845 534h3v1h-3zM848 535h4v1h-4zM852 536h2v1h-2zM853 536h3v1h-3zM856 537h4v1h-4zM860 538h4v1h-4zM864 539h4v1h-4zM868 540h4v1h-4zM872 541h4v1h-4zM876 542h4v1h-4zM880 543h3v1h-3z" fill="#0000FF"/>
<path d="M57 555h4v1h-4zM57 556h4v1h-4z" fill="#0000FF"/>
<path d="M86 557h4v1h-4zM86 558h4v1h-4z" fill="#0000FF"/>
<path d="M114 521h4v1h-4zM114 522h4v1h-4z" fill="#0000FF"/>
<path d="M143 458h4v1h-4zM143 459h4v1h-4z" fill="#0000FF"/>
<path d="M171 382h4v1h-4zM171 383h4v1h-4z" fill="#0000FF"/>
<path d="M199 340h4v1h-4zM199 341h4v1h-4z" fill="#0000FF"/>
<path d="M228 313h4v1h-4zM228 314h4v1h-4z" fill="#0000FF"/>
<path d="M256 298h4v1h-4zM256 299h4v1h-4z" fill="#0000FF"/>
<path d="M285 298h4v1h-4zM285 299h4v1h-4z" fill="#0000FF"/>
<path d="M313 361h4v1h-4zM313 362h4v1h-4z" fill="#0000FF"/>
<path d="M342 409h4v1h-4zM342 410h4v1h-4z" fill="#0000FF"/>
<path d="M370 445h4v1h-4zM370 446h4v1h-4z" fill="#0000FF"/>
<path d="M398 437h4v1h-4zM398 438h4v1h-4z" fill="#0000FF"/>
<path d="M427 420h4v1h-4zM427 421h4v1h-4z" fill="#0000FF"/>
<path d="M455 401h4v1h-4zM455 402h4v1h-4z" fill="#0000FF"/>
<path d="M484 387h4v1h-4zM484 388h4v1h-4z" fill="#0000FF"/>
<path d="M512 383h4v1h-4zM512 384h4v1h-4z" fill="#0000FF"/>
<path d="M541 380h4v1h-4zM541 381h4v1h-4z" fill="#0000FF"/>
<path d="M569 373h4v1h-4zM569 374h4v1h-4z" fill="#0000FF"/>
<path d="M597 355h4v1h-4zM597 356h4v1h-4z" fill="#0000FF"/>
<path d="M626 328h4v1h-4zM626 329h4v1h-4z" fill="#0000FF"/>
<path d="M654 385h4v1h-4zM654 386h4v1h-4z" fill="#0000FF"/>
<path d="M683 426h4v1h-4zM683 427h4v1h-4z" fill="#0000FF"/>
<path d="M711 459h4v1h-4zM711 460h4v1h-4z" fill="#0000FF"/>
<path d="M740 483h4v1h-4zM740 484h4v1h-4z" fill="#0000FF"/>
<path d="M768 502h4v1h-4zM768 503h4v1h-4z" fill="#0000FF"/>
<path d="M796 516h4v1h-4zM796 517h4v1h-4z" fill="#0000FF"/>
<path d="M825 527h4v1h-4zM825 528h4v1h-4z" fill="#0000FF"/>
<path d="M853 535h4v1h-4zM853 536h4v1h-4z" fill="#0000FF"/>
<path d="M882 542h4v1h-4zM882 543h4v1h-4z" fill="#0000FF"/>
</g>
<g><path d="M57 556h8v1h-8zM65 557h14v1h-14zM79 558h8v1h-8zM86 558h14v1h-14zM100 559h15v1h-15zM114 559h15v1h-15zM129 560h15v1h-15zM143 560h29v1h-29zM199 470v2h1v-2zM198 472v3h1v-3zM197 475v4h1v-4zM196 479v3h1v-3zM195 482v3h1v-3zM194 485v3h1v-3zM193 488v3h1v-3zM192 491v4h1v-4zM191 495v3h1v-3zM190 498v3h1v-3zM189 501v3h1v-3zM188 504v3h1v-3zM187 507v4h1v-4zM186 511v3h1v-3zM185 514v3h1v-3zM184 517v3h1v-3zM183 520v4h1v-4zM182 524v3h1v-3zM181 527v3h1v-3zM180 530v3h1v-3zM179 533v3h1v-3zM178 536v4h1v-4zM177 540v3h1v-3zM176 543v3h1v-3zM175 546v3h1v-3zM174 549v3h1v-3zM173 552v4h1v-4zM172 556v3h1v-3zM171 559v2h1v-2zM228 415v1h1v-1zM227 416v2h1v-2zM226 418v2h1v-2zM225 420v2h1v-2zM224 422v2h1v-2zM223 424v2h1v-2zM222 426v2h1v-2zM221 428v2h1v-2zM220 430v2h1v-2zM219 432v2h1v-2zM218 434v1h1v-1zM217 435v2h1v-2zM216 437v2h1v-2zM215 439v2h1v-2zM214 441v2h1v-2zM213 443v2h1v-2zM212 445v2h1v-2zM211 447v2h1v-2zM210 449v2h1v-2zM209 451v1h1v-1zM208 452v2h1v-2zM207 454v2h1v-2zM206 456v2h1v-2zM205 458v2h1v-2zM204 460v2h1v-2zM203 462v2h1v-2zM202 464v2h1v-2zM201 466v2h1v-2zM200 468v2h1v-2zM199 470v1h1v-1zM256 386v1h1v-1zM255 387v1h1v-1zM254 388v1h1v-1zM253 389v1h1v-1zM252 390v1h1v-1zM251 391v1h1v-1zM250 392v1h1v-1zM249 393v1h1v-1zM248 394v1h1v-1zM247 395v1h1v-1zM246 396v1h1v-1zM245 397v1h1v-1zM244 398v1h1v-1zM243 399v1h1v-1zM242 400v2h1v-2zM241 402v1h1v-1zM240 403v1h1v-1zM239 404v1h1v-1zM238 405v1h1v-1zM237 406v1h1v-1zM236 407v1h1v-1zM235 408v1h1v-1zM234 409v1h1v-1zM233 410v1h1v-1zM232 411v1h1v-1zM231 412v1h1v-1zM230 413v1h1v-1zM229 414v1h1v-1zM228 415v1h1v-1zM256 386h1v1h-1zM257 385h1v1h-1zM258 384h1v1h-1zM259 383h1v1h-1zM260 382h1v1h-1zM261 381h1v1h-1zM262 380h1v1h-1zM263 379h1v1h-1zM264 378h1v1h-1zM265 377h1v1h-1zM266 376h1v1h-1zM267 375h1v1h-1zM268 374h1v1h-1zM269 373h1v1h-1zM270 372h2v1h-2zM272 371h1v1h-1zM273 370h1v1h-1zM274 369h1v1h-1zM275 368h1v1h-1zM276 367h1v1h-1zM277 366h1v1h-1zM278 365h1v1h-1zM279 364h1v1h-1zM280 363h1v1h-1zM281 362h1v1h-1zM282 361h1v1h-1zM283 360h1v1h-1zM284 359h1v1h-1zM285 358h1v1h-1zM285 358h2v1h-2zM287 357h3v1h-3zM290 356h2v1h-2zM292 355h3v1h-3zM295 354h3v1h-3zM298 353h3v1h-3zM301 352h3v1h-3zM304 351h2v1h-2zM306 350h3v1h-3zM309 349h3v1h-3zM312 348h2v1h-2zM313 348h5v1h-5zM318 349h10v1h-10zM328 350h10v1h-10zM338 351h5v1h-5zM342 351h4v1h-4zM346 352h7v1h-7zM353 353h7v1h-7zM360 354h7v1h-7zM367 355h4v1h-4zM370 355h4v1h-4zM374 356h7v1h-7zM381 357h7v1h-7zM388 358h7v1h-7zM395 359h4v1h-4zM398 359h3v1h-3zM401 360h5v1h-5zM406 361h5v1h-5zM411 362h4v1h-4zM415 363h5v1h-5zM420 364h5v1h-5zM425 365h3v1h-3zM427 365h2v1h-2zM429 366h4v1h-4zM433 367h4v1h-4zM437 368h4v1h-4zM441 369h4v1h-4zM445 370h4v1h-4zM449 371h4v1h-4zM453 372h3v1h-3zM455 372h8v1h-8zM463 373h14v1h-14zM477 374h8v1h-8zM484 374h14v1h-14zM498 375h15v1h-15zM512 375h3v1h-3zM515 374h4v1h-4zM519 373h4v1h-4zM523 372h4v1h-4zM527 371h4v1h-4zM531 370h4v1h-4zM535 369h4v1h-4zM539 368h3v1h-3zM541 368h3v1h-3zM544 367h4v1h-4zM548 366h5v1h-5zM553 365h5v1h-5zM558 364h4v1h-4zM562 363h5v1h-5zM567 362h3v1h-3zM569 362h2v1h-2zM571 361h3v1h-3zM574 360h3v1h-3zM577 359h3v1h-3zM580 358h3v1h-3zM583 357h4v1h-4zM587 356h3v1h-3zM590 355h3v1h-3zM593 354h3v1h-3zM596 353h2v1h-2zM597 353h2v1h-2zM599 352h3v1h-3zM602 351h4v1h-4zM606 350h3v1h-3zM609 349h3v1h-3zM612 348h3v1h-3zM615 347h3v1h-3zM618 346h4v1h-4zM622 345h3v1h-3zM625 344h2v1h-2zM626 344h3v1h-3zM629 343h4v1h-4zM633 342h5v1h-5zM638 341h5v1h-5zM643 340h4v1h-4zM647 339h5v1h-5zM652 338h3v1h-3zM654 338h2v1h-2zM656 337h4v1h-4zM660 336h4v1h-4zM664 335h3v1h-3zM667 334h4v1h-4zM671 333h3v1h-3zM674 332h4v1h-4zM678 331h4v1h-4zM682 330h2v1h-2zM683 330h3v1h-3zM686 329h4v1h-4zM690 328h5v1h-5zM695 327h5v1h-5zM700 326h4v1h-4zM704 325h5v1h-5zM709 324h3v1h-3zM711 324h5v1h-5zM716 323h10v1h-10zM726 322h10v1h-10zM736 321h5v1h-5zM740 321h14v1h-14zM754 320h15v1h-15zM768 320h29v1h-29zM796 320h15v1h-15zM811 319h15v1h-15zM825 319h1v1h-1zM826 320h1v1h-1zM827 321h1v1h-1zM828 322h1v1h-1zM829 323h1v1h-1zM830 324h1v1h-1zM831 325h1v1h-1zM832 326h1v1h-1zM833 327h1v1h-1zM834 328h1v1h-1zM835 329h1v1h-1zM836 330h1v1h-1zM837 331h1v1h-1zM838 332h1v1h-1zM839 333h1v1h-1zM840 334h1v1h-1zM841 335h1v1h-1zM842 336h1v1h-1zM843 337h1v1h-1zM844 338h1v1h-1zM845 339h1v1h-1zM846 340h1v1h-1zM847 341h1v1h-1zM848 342h1v1h-1zM849 343h1v1h-1zM850 344h1v1h-1zM851 345h1v1h-1zM852 346h1v1h-1zM853 347h1v1h-1zM853 347v1h1v-1zM854 348v2h1v-2zM855 350v2h1v-2zM856 352v2h1v-2zM857 354v2h1v-2zM858 356v1h1v-1zM859 357v2h1v-2zM860 359v2h1v-2zM861 361v2h1v-2zM862 363v2h1v-2zM863 365v1h1v-1zM864 366v2h1v-2zM865 368v2h1v-2zM866 370v2h1v-2zM867 372v1h1v-1zM868 373v2h1v-2zM869 375v2h1v-2zM870 377v2h1v-2zM871 379v2h1v-2zM872 381v1h1v-1zM873 382v2h1v-2zM874 384v2h1v-2zM875 386v2h1v-2zM876 388v2h1v-2zM877 390v1h1v-1zM878 391v2h1v-2zM879 393v2h1v-2zM880 395v2h1v-2zM881 397v2h1v-2zM882 399v1h1v-1z" fill="#00CCFF"/>
<path d="M54 555h7v1h-7zM54 556h7v1h-7z" fill="#00CCFF"/>
<path d="M83 557h7v1h-7zM83 558h7v1h-7z" fill="#00CCFF"/>
<path d="M111 558h7v1h-7zM111 559h7v1h-7z" fill="#00CCFF"/>
<path d="M140 559h7v1h-7zM140 560h7v1h-7z" fill="#00CCFF"/>
<path d="M168 559h7v1h-7zM168 560h7v1h-7z" fill="#00CCFF"/>
<path d="M196 469h7v1h-7zM196 470h7v1h-7z" fill="#00CCFF"/>
<path d="M225 414h7v1h-7zM225 415h7v1h-7z" fill="#00CCFF"/>
<path d="M253 385h7v1h-7zM253 386h7v1h-7z" fill="#00CCFF"/>
<path d="M282 357h7v1h-7zM282 358h7v1h-7z" fill="#00CCFF"/>
<path d="M310 347h7v1h-7zM310 348h7v1h-7z" fill="#00CCFF"/>
<path d="M339 350h7v1h-7zM339 351h7v1h-7z" fill="#00CCFF"/>
<path d="M367 354h7v1h-7zM367 355h7v1h-7z" fill="#00CCFF"/>
<path d="M395 358h7v1h-7zM395 359h7v1h-7z" fill="#00CCFF"/>
<path d="M424 364h7v1h-7zM424 365h7v1h-7z" fill="#00CCFF"/>
<path d="M452 371h7v1h-7zM452 372h7v1h-7z" fill="#00CCFF"/>
<path d="M481 373h7v1h-7zM481 374h7v1h-7z" fill="#00CCFF"/>
<path d="M509 374h7v1h-7zM509 375h7v1h-7z" fill="#00CCFF"/>
<path d="M538 367h7v1h-7zM538 368h7v1h-7z" fill="#00CCFF"/>
<path d="M566 361h7v1h-7zM566 362h7v1h-7z" fill="#00CCFF"/>
<path d="M594 352h7v1h-7zM594 353h7v1h-7z" fill="#00CCFF"/>
<path d="M623 343h7v1h-7zM623 344h7v1h-7z" fill="#00CCFF"/>
<path d="M651 337h7v1h-7zM651 338h7v1h-7z" fill="#00CCFF"/>
<path d="M680 329h7v1h-7zM680 330h7v1h-7z" fill="#00CCFF"/>
<path d="M708 323h7v1h-7zM708 324h7v1h-7z" fill="#00CCFF"/>
<path d="M737 320h7v1h-7zM737 321h7v1h-7z" fill="#00CCFF"/>
<path d="M765 319h7v1h-7zM765 320h7v1h-7z" fill="#00CCFF"/>
<path d="M793 319h7v1h-7zM793 320h7v1h-7z" fill="#00CCFF"/>
<path d="M822 318h7v1h-7zM822 319h7v1h-7z" fill="#00CCFF"/>
<path d="M850 346h7v1h-7zM850 347h7v1h-7z" fill="#00CCFF"/>
<path d="M879 398h7v1h-7zM879 399h7v1h-7z" fill="#00CCFF"/>
</g>
<g><path d="M57 556h8v1h-8zM65 557h14v1h-14zM79 558h8v1h-8zM114 451v2h1v-2zM113 453v4h1v-4zM112 457v4h1v-4zM111 461v4h1v-4zM110 465v4h1v-4zM109 469v4h1v-4zM108 473v3h1v-3zM107 476v4h1v-4zM106 480v4h1v-4zM105 484v4h1v-4zM104 488v4h1v-4zM103 492v3h1v-3zM102 495v4h1v-4zM101 499v4h1v-4zM100 503v4h1v-4zM99 507v4h1v-4zM98 511v4h1v-4zM97 515v3h1v-3zM96 518v4h1v-4zM95 522v4h1v-4zM94 526v4h1v-4zM93 530v4h1v-4zM92 534v3h1v-3zM91 537v4h1v-4zM90 541v4h1v-4zM89 545v4h1v-4zM88 549v4h1v-4zM87 553v4h1v-4zM86 557v2h1v-2zM143 381v2h1v-2zM142 383v2h1v-2zM141 385v3h1v-3zM140 388v2h1v-2zM139 390v2h1v-2zM138 392v3h1v-3zM137 395v2h1v-2zM136 397v3h1v-3zM135 400v2h1v-2zM134 402v2h1v-2zM133 404v3h1v-3zM132 407v2h1v-2zM131 409v3h1v-3zM130 412v2h1v-2zM129 414v3h1v-3zM128 417v2h1v-2zM127 419v2h1v-2zM126 421v3h1v-3zM125 424v2h1v-2zM124 426v3h1v-3zM123 429v2h1v-2zM122 431v2h1v-2zM121 433v3h1v-3zM120 436v2h1v-2zM119 438v3h1v-3zM118 441v2h1v-2zM117 443v2h1v-2zM116 445v3h1v-3zM115 448v2h1v-2zM114 450v2h1v-2zM171 337v1h1v-1zM170 338v2h1v-2zM169 340v1h1v-1zM168 341v2h1v-2zM167 343v2h1v-2zM166 345v1h1v-1zM165 346v2h1v-2zM164 348v1h1v-1zM163 349v2h1v-2zM162 351v1h1v-1zM161 352v2h1v-2zM160 354v2h1v-2zM159 356v1h1v-1zM158 357v2h1v-2zM157 359v1h1v-1zM156 360v2h1v-2zM155 362v1h1v-1zM154 363v2h1v-2zM153 365v2h1v-2zM152 367v1h1v-1zM151 368v2h1v-2zM150 370v1h1v-1zM149 371v2h1v-2zM148 373v1h1v-1zM147 374v2h1v-2zM146 376v2h1v-2zM145 378v1h1v-1zM144 379v2h1v-2zM143 381v1h1v-1zM199 305v1h1v-1zM198 306v1h1v-1zM197 307v1h1v-1zM196 308v2h1v-2zM195 310v1h1v-1zM194 311v1h1v-1zM193 312v1h1v-1zM192 313v1h1v-1zM191 314v1h1v-1zM190 315v1h1v-1zM189 316v2h1v-2zM188 318v1h1v-1zM187 319v1h1v-1zM186 320v1h1v-1zM185 321v1h1v-1zM184 322v1h1v-1zM183 323v1h1v-1zM182 324v2h1v-2zM181 326v1h1v-1zM180 327v1h1v-1zM179 328v1h1v-1zM178 329v1h1v-1zM177 330v1h1v-1zM176 331v1h1v-1zM175 332v2h1v-2zM174 334v1h1v-1zM173 335v1h1v-1zM172 336v1h1v-1zM171 337v1h1v-1zM228 270v1h1v-1zM227 271v1h1v-1zM226 272v2h1v-2zM225 274v1h1v-1zM224 275v1h1v-1zM223 276v1h1v-1zM222 277v1h1v-1zM221 278v2h1v-2zM220 280v1h1v-1zM219 281v1h1v-1zM218 282v1h1v-1zM217 283v1h1v-1zM216 284v2h1v-2zM215 286v1h1v-1zM214 287v1h1v-1zM213 288v1h1v-1zM212 289v1h1v-1zM211 290v2h1v-2zM210 292v1h1v-1zM209 293v1h1v-1zM208 294v1h1v-1zM207 295v1h1v-1zM206 296v2h1v-2zM205 298v1h1v-1zM204 299v1h1v-1zM203 300v1h1v-1zM202 301v1h1v-1zM201 302v2h1v-2zM200 304v1h1v-1zM199 305v1h1v-1zM228 270h2v1h-2zM230 269h2v1h-2zM232 268h2v1h-2zM234 267h3v1h-3zM237 266h2v1h-2zM239 265h2v1h-2zM241 264h3v1h-3zM244 263h2v1h-2zM246 262h2v1h-2zM248 261h3v1h-3zM251 260h2v1h-2zM253 259h2v1h-2zM255 258h2v1h-2zM256 258h4v1h-4zM260 259h7v1h-7zM267 260h8v1h-8zM275 261h7v1h-7zM282 262h4v1h-4zM285 262v2h1v-2zM286 264v2h1v-2zM287 266v3h1v-3zM288 269v2h1v-2zM289 271v3h1v-3zM290 274v3h1v-3zM291 277v2h1v-2zM292 279v3h1v-3zM293 282v2h1v-2zM294 284v3h1v-3zM295 287v2h1v-2zM296 289v3h1v-3zM297 292v3h1v-3zM298 295v2h1v-2zM299 297v3h1v-3zM300 300v2h1v-2zM301 302v3h1v-3zM302 305v2h1v-2zM303 307v3h1v-3zM304 310v3h1v-3zM305 313v2h1v-2zM306 315v3h1v-3zM307 318v2h1v-2zM308 320v3h1v-3zM309 323v2h1v-2zM310 325v3h1v-3zM311 328v3h1v-3zM312 331v2h1v-2zM313 333v2h1v-2zM313 334h8v1h-8zM321 333h14v1h-14zM335 332h8v1h-8zM342 332h5v1h-5zM347 331h9v1h-9zM356 330h10v1h-10zM366 329h5v1h-5zM370 329h29v1h-29zM398 329h30v1h-30zM427 329h29v1h-29zM455 329h3v1h-3zM458 328h6v1h-6zM464 327h6v1h-6zM470 326h6v1h-6zM476 325h6v1h-6zM482 324h3v1h-3zM484 324v2h1v-2zM485 326v2h1v-2zM486 328v2h1v-2zM487 330v2h1v-2zM488 332v2h1v-2zM489 334v2h1v-2zM490 336v2h1v-2zM491 338v2h1v-2zM492 340v2h1v-2zM493 342v2h1v-2zM494 344v2h1v-2zM495 346v2h1v-2zM496 348v2h1v-2zM497 350v2h1v-2zM498 352v2h1v-2zM499 354v2h1v-2zM500 356v2h1v-2zM501 358v2h1v-2zM502 360v2h1v-2zM503 362v2h1v-2zM504 364v2h1v-2zM505 366v2h1v-2zM506 368v2h1v-2zM507 370v2h1v-2zM508 372v2h1v-2zM509 374v2h1v-2zM510 376v2h1v-2zM511 378v2h1v-2zM512 380v2h1v-2zM512 381v1h1v-1zM513 382v2h1v-2zM514 384v1h1v-1zM515 385v2h1v-2zM516 387v1h1v-1zM517 388v2h1v-2zM518 390v1h1v-1zM519 391v2h1v-2zM520 393v1h1v-1zM521 394v2h1v-2zM522 396v1h1v-1zM523 397v2h1v-2zM524 399v1h1v-1zM525 400v2h1v-2zM526 402v1h1v-1zM527 403v2h1v-2zM528 405v2h1v-2zM529 407v1h1v-1zM530 408v2h1v-2zM531 410v1h1v-1zM532 411v2h1v-2zM533 413v1h1v-1zM534 414v2h1v-2zM535 416v1h1v-1zM536 417v2h1v-2zM537 419v1h1v-1zM538 420v2h1v-2zM539 422v1h1v-1zM540 423v2h1v-2zM541 425v1h1v-1zM541 425v1h1v-1zM542 426v1h1v-1zM543 427v1h1v-1zM544 428v2h1v-2zM545 430v1h1v-1zM546 431v1h1v-1zM547 432v1h1v-1zM548 433v1h1v-1zM549 434v2h1v-2zM550 436v1h1v-1zM551 437v1h1v-1zM552 438v1h1v-1zM553 439v1h1v-1zM554 440v1h1v-1zM555 441v2h1v-2zM556 443v1h1v-1zM557 444v1h1v-1zM558 445v1h1v-1zM559 446v1h1v-1zM560 447v1h1v-1zM561 448v2h1v-2zM562 450v1h1v-1zM563 451v1h1v-1zM564 452v1h1v-1zM565 453v1h1v-1zM566 454v2h1v-2zM567 456v1h1v-1zM568 457v1h1v-1zM569 458v1h1v-1zM569 458h1v1h-1zM570 459h1v1h-1zM571 460h1v1h-1zM572 461h1v1h-1zM573 462h1v1h-1zM574 463h1v1h-1zM575 464h1v1h-1zM576 465h2v1h-2zM578 466h1v1h-1zM579 467h1v1h-1zM580 468h1v1h-1zM581 469h1v1h-1zM582 470h1v1h-1zM583 471h1v1h-1zM584 472h1v1h-1zM585 473h1v1h-1zM586 474h1v1h-1zM587 475h1v1h-1zM588 476h1v1h-1zM589 477h1v1h-1zM590 478h2v1h-2zM592 479h1v1h-1zM593 480h1v1h-1zM594 481h1v1h-1zM595 482h1v1h-1zM596 483h1v1h-1zM597 484h1v1h-1zM597 484h1v1h-1zM598 485h2v1h-2zM600 486h2v1h-2zM602 487h1v1h-1zM603 488h2v1h-2zM605 489h1v1h-1zM606 490h2v1h-2zM608 491h2v1h-2zM610 492h1v1h-1zM611 493h2v1h-2zM613 494h1v1h-1zM614 495h2v1h-2zM616 496h2v1h-2zM618 497h1v1h-1zM619 498h2v1h-2zM621 499h1v1h-1zM622 500h2v1h-2zM624 501h2v1h-2zM626 502h1v1h-1zM626 502h1v1h-1zM627 503h2v1h-2zM629 504h2v1h-2zM631 505h2v1h-2zM633 506h2v1h-2zM635 507h2v1h-2zM637 508h2v1h-2zM639 509h2v1h-2zM641 510h2v1h-2zM643 511h2v1h-2zM645 512h2v1h-2zM647 513h2v1h-2zM649 514h2v1h-2zM651 515h2v1h-2zM653 516h2v1h-2zM654 516h2v1h-2zM656 517h2v1h-2zM658 518h3v1h-3zM661 519h3v1h-3zM664 520h2v1h-2zM666 521h3v1h-3zM669 522h3v1h-3zM672 523h2v1h-2zM674 524h3v1h-3zM677 525h3v1h-3zM680 526h2v1h-2zM682 527h2v1h-2zM683 527h2v1h-2zM685 528h3v1h-3zM688 529h3v1h-3zM691 530h3v1h-3zM694 531h3v1h-3zM697 532h4v1h-4zM701 533h3v1h-3zM704 534h3v1h-3zM707 535h3v1h-3zM710 536h2v1h-2zM711 536h3v1h-3zM714 537h5v1h-5zM719 538h5v1h-5zM724 539h4v1h-4zM728 540h5v1h-5zM733 541h5v1h-5zM738 542h3v1h-3zM740 542h3v1h-3zM743 543h6v1h-6zM749 544h5v1h-5zM754 545h6v1h-6zM760 546h6v1h-6zM766 547h3v1h-3zM768 547h4v1h-4zM772 548h7v1h-7zM779 549h7v1h-7zM786 550h7v1h-7zM793 551h4v1h-4zM796 551h5v1h-5zM801 552h10v1h-10zM811 553h10v1h-10zM821 554h5v1h-5zM825 554h7v1h-7zM832 555h14v1h-14zM846 556h8v1h-8zM853 556h8v1h-8zM861 557h14v1h-14zM875 558h8v1h-8z" fill="#CCFFFF"/>
<path d="M57 553h1v1h-1zM56 554h3v1h-3zM55 555h5v1h-5zM54 556h7v1h-7zM55 557h5v1h-5zM56 558h3v1h-3zM57 559h1v1h-1z" fill="#CCFFFF"/>
<path d="M86 555h1v1h-1zM85 556h3v1h-3zM84 557h5v1h-5zM83 558h7v1h-7zM84 559h5v1h-5zM85 560h3v1h-3zM86 561h1v1h-1z" fill="#CCFFFF"/>
<path d="M114 448h1v1h-1zM113 449h3v1h-3zM112 450h5v1h-5zM111 451h7v1h-7zM112 452h5v1h-5zM113 453h3v1h-3zM114 454h1v1h-1z" fill="#CCFFFF"/>
<path d="M143 378h1v1h-1zM142 379h3v1h-3zM141 380h5v1h-5zM140 381h7v1h-7zM141 382h5v1h-5zM142 383h3v1h-3zM143 384h1v1h-1z" fill="#CCFFFF"/>
<path d="M171 334h1v1h-1zM170 335h3v1h-3zM169 336h5v1h-5zM168 337h7v1h-7zM169 338h5v1h-5zM170 339h3v1h-3zM171 340h1v1h-1z" fill="#CCFFFF"/>
<path d="M199 302h1v1h-1zM198 303h3v1h-3zM197 304h5v1h-5zM196 305h7v1h-7zM197 306h5v1h-5zM198 307h3v1h-3zM199 308h1v1h-1z" fill="#CCFFFF"/>
<path d="M228 267h1v1h-1zM227 268h3v1h-3zM226 269h5v1h-5zM225 270h7v1h-7zM226 271h5v1h-5zM227 272h3v1h-3zM228 273h1v1h-1z" fill="#CCFFFF"/>
<path d="M256 255h1v1h-1zM255 256h3v1h-3zM254 257h5v1h-5zM253 258h7v1h-7zM254 259h5v1h-5zM255 260h3v1h-3zM256 261h1v1h-1z" fill="#CCFFFF"/>
<path d="M285 259h1v1h-1zM284 260h3v1h-3zM283 261h5v1h-5zM282 262h7v1h-7zM283 263h5v1h-5zM284 264h3v1h-3zM285 265h1v1h-1z" fill="#CCFFFF"/>
<path d="M313 331h1v1h-1zM312 332h3v1h-3zM311 333h5v1h-5zM310 334h7v1h-7zM311 335h5v1h-5zM312 336h3v1h-3zM313 337h1v1h-1z" fill="#CCFFFF"/>
<path d="M342 329h1v1h-1zM341 330h3v1h-3zM340 331h5v1h-5zM339 332h7v1h-7zM340 333h5v1h-5zM341 334h3v1h-3zM342 335h1v1h-1z" fill="#CCFFFF"/>
<path d="M370 326h1v1h-1zM369 327h3v1h-3zM368 328h5v1h-5zM367 329h7v1h-7zM368 330h5v1h-5zM369 331h3v1h-3zM370 332h1v1h-1z" fill="#CCFFFF"/>
<path d="M398 326h1v1h-1zM397 327h3v1h-3zM396 328h5v1h-5zM395 329h7v1h-7zM396 330h5v1h-5zM397 331h3v1h-3zM398 332h1v1h-1z" fill="#CCFFFF"/>
<path d="M427 326h1v1h-1zM426 327h3v1h-3zM425 328h5v1h-5zM424 329h7v1h-7zM425 330h5v1h-5zM426 331h3v1h-3zM427 332h1v1h-1z" fill="#CCFFFF"/>
<path d="M455 326h1v1h-1zM454 327h3v1h-3zM453 328h5v1h-5zM452 329h7v1h-7zM453 330h5v1h-5zM454 331h3v1h-3zM455 332h1v1h-1z" fill="#CCFFFF"/>
<path d="M484 321h1v1h-1zM483 322h3v1h-3zM482 323h5v1h-5zM481 324h7v1h-7zM482 325h5v1h-5zM483 326h3v1h-3zM484 327h1v1h-1z" fill="#CCFFFF"/>
<path d="M512 378h1v1h-1zM511 379h3v1h-3zM510 380h5v1h-5zM509 381h7v1h-7zM510 382h5v1h-5zM511 383h3v1h-3zM512 384h1v1h-1z" fill="#CCFFFF"/>
<path d="M541 422h1v1h-1zM540 423h3v1h-3zM539 424h5v1h-5zM538 425h7v1h-7zM539 426h5v1h-5zM540 427h3v1h-3zM541 428h1v1h-1z" fill="#CCFFFF"/>
<path d="M569 455h1v1h-1zM568 456h3v1h-3zM567 457h5v1h-5zM566 458h7v1h-7zM567 459h5v1h-5zM568 460h3v1h-3zM569 461h1v1h-1z" fill="#CCFFFF"/>
<path d="M597 481h1v1h-1zM596 482h3v1h-3zM595 483h5v1h-5zM594 484h7v1h-7zM595 485h5v1h-5zM596 486h3v1h-3zM597 487h1v1h-1z" fill="#CCFFFF"/>
<path d="M626 499h1v1h-1zM625 500h3v1h-3zM624 501h5v1h-5zM623 502h7v1h-7zM624 503h5v1h-5zM625 504h3v1h-3zM626 505h1v1h-1z" fill="#CCFFFF"/>
<path d="M654 513h1v1h-1zM653 514h3v1h-3zM652 515h5v1h-5zM651 516h7v1h-7zM652 517h5v1h-5zM653 518h3v1h-3zM654 519h1v1h-1z" fill="#CCFFFF"/>
<path d="M683 524h1v1h-1zM682 525h3v1h-3zM681 526h5v1h-5zM680 527h7v1h-7zM681 528h5v1h-5zM682 529h3v1h-3zM683 530h1v1h-1z" fill="#CCFFFF"/>
<path d="M711 533h1v1h-1zM710 534h3v1h-3zM709 535h5v1h-5zM708 536h7v1h-7zM709 537h5v1h-5zM710 538h3v1h-3zM711 539h1v1h-1z" fill="#CCFFFF"/>
<path d="M740 539h1v1h-1zM739 540h3v1h-3zM738 541h5v1h-5zM737 542h7v1h-7zM738 543h5v1h-5zM739 544h3v1h-3zM740 545h1v1h-1z" fill="#CCFFFF"/>
<path d="M768 544h1v1h-1zM767 545h3v1h-3zM766 546h5v1h-5zM765 547h7v1h-7zM766 548h5v1h-5zM767 549h3v1h-3zM768 550h1v1h-1z" fill="#CCFFFF"/>
<path d="M796 548h1v1h-1zM795 549h3v1h-3zM794 550h5v1h-5zM793 551h7v1h-7zM794 552h5v1h-5zM795 553h3v1h-3zM796 554h1v1h-1z" fill="#CCFFFF"/>
<path d="M825 551h1v1h-1zM824 552h3v1h-3zM823 553h5v1h-5zM822 554h7v1h-7zM823 555h5v1h-5zM824 556h3v1h-3zM825 557h1v1h-1z" fill="#CCFFFF"/>
<path d="M853 553h1v1h-1zM852 554h3v1h-3zM851 555h5v1h-5zM850 556h7v1h-7zM851 557h5v1h-5zM852 558h3v1h-3zM853 559h1v1h-1z" fill="#CCFFFF"/>
<path d="M882 555h1v1h-1zM881 556h3v1h-3zM880 557h5v1h-5zM879 558h7v1h-7zM880 559h5v1h-5zM881 560h3v1h-3zM882 561h1v1h-1z" fill="#CCFFFF"/>
</g>
<g><path d="M57 556h8v1h-8zM65 557h14v1h-14zM79 558h8v1h-8zM86 558h14v1h-14zM100 559h15v1h-15zM114 559h15v1h-15zM129 560h15v1h-15zM143 560h29v1h-29zM171 560h14v1h-14zM185 561h15v1h-15zM199 561h15v1h-15zM214 562h15v1h-15zM228 562h29v1h-29zM256 562h30v1h-30zM285 562h29v1h-29zM313 562h15v1h-15zM328 563h15v1h-15zM342 563h29v1h-29zM370 563h29v1h-29zM398 563h30v1h-30zM427 563h29v1h-29zM455 563h30v1h-30zM484 563h29v1h-29zM512 563h30v1h-30zM541 563h29v1h-29zM569 563h29v1h-29zM597 563h30v1h-30zM626 563h29v1h-29zM654 563h30v1h-30zM683 563h29v1h-29zM711 563h30v1h-30zM740 563h29v1h-29zM768 563h29v1h-29zM796 563h30v1h-30zM825 563h29v1h-29zM853 563h30v1h-30z" fill="#CCFFCC"/>
<path d="M54 553h6v1h-6zM54 554h6v1h-6zM54 555h6v1h-6zM54 556h6v1h-6zM54 557h6v1h-6zM54 558h6v1h-6z" fill="#CCFFCC"/>
<path d="M83 555h6v1h-6zM83 556h6v1h-6zM83 557h6v1h-6zM83 558h6v1h-6zM83 559h6v1h-6zM83 560h6v1h-6z" fill="#CCFFCC"/>
<path d="M111 556h6v1h-6zM111 557h6v1h-6zM111 558h6v1h-6zM111 559h6v1h-6zM111 560h6v1h-6zM111 561h6v1h-6z" fill="#CCFFCC"/>
<path d="M140 557h6v1h-6zM140 558h6v1h-6zM140 559h6v1h-6zM140 560h6v1h-6zM140 561h6v1h-6zM140 562h6v1h-6z" fill="#CCFFCC"/>
<path d="M168 557h6v1h-6zM168 558h6v1h-6zM168 559h6v1h-6zM168 560h6v1h-6zM168 561h6v1h-6zM168 562h6v1h-6z" fill="#CCFFCC"/>
<path d="M196 558h6v1h-6zM196 559h6v1h-6zM196 560h6v1h-6zM196 561h6v1h-6zM196 562h6v1h-6zM196 563h6v1h-6z" fill="#CCFFCC"/>
<path d="M225 559h6v1h-6zM225 560h6v1h-6zM225 561h6v1h-6zM225 562h6v1h-6zM225 563h6v1h-6zM225 564h6v1h-6z" fill="#CCFFCC"/>
<path d="M253 559h6v1h-6zM253 560h6v1h-6zM253 561h6v1h-6zM253 562h6v1h-6zM253 563h6v1h-6zM253 564h6v1h-6z" fill="#CCFFCC"/>
<path d="M282 559h6v1h-6zM282 560h6v1h-6zM282 561h6v1h-6zM282 562h6v1h-6zM282 563h6v1h-6zM282 564h6v1h-6z" fill="#CCFFCC"/>
<path d="M310 559h6v1h-6zM310 560h6v1h-6zM310 561h6v1h-6zM310 562h6v1h-6zM310 563h6v1h-6zM310 564h6v1h-6z" fill="#CCFFCC"/>
<path d="M339 560h6v1h-6zM339 561h6v1h-6zM339 562h6v1h-6zM339 563h6v1h-6zM339 564h6v1h-6zM339 565h6v1h-6z" fill="#CCFFCC"/>
<path d="M367 560h6v1h-6zM367 561h6v1h-6zM367 562h6v1h-6zM367 563h6v1h-6zM367 564h6v1h-6zM367 565h6v1h-6z" fill="#CCFFCC"/>
<path d="M395 560h6v1h-6zM395 561h6v1h-6zM395 562h6v1h-6zM395 563h6v1h-6zM395 564h6v1h-6zM395 565h6v1h-6z" fill="#CCFFCC"/>
<path d="M424 560h6v1h-6zM424 561h6v1h-6zM424 562h6v1h-6zM424 563h6v1h-6zM424 564h6v1h-6zM424 565h6v1h-6z" fill="#CCFFCC"/>
<path d="M452 560h6v1h-6zM452 561h6v1h-6zM452 562h6v1h-6zM452 563h6v1h-6zM452 564h6v1h-6zM452 565h6v1h-6z" fill="#CCFFCC"/>
<path d="M481 560h6v1h-6zM481 561h6v1h-6zM481 562h6v1h-6zM481 563h6v1h-6zM481 564h6v1h-6zM481 565h6v1h-6z" fill="#CCFFCC"/>
<path d="M509 560h6v1h-6zM509 561h6v1h-6zM509 562h6v1h-6zM509 563h6v1h-6zM509 564h6v1h-6zM509 565h6v1h-6z" fill="#CCFFCC"/>
<path d="M538 560h6v1h-6zM538 561h6v1h-6zM538 562h6v1h-6zM538 563h6v1h-6zM538 564h6v1h-6zM538 565h6v1h-6z" fill="#CCFFCC"/>
<path d="M566 560h6v1h-6zM566 561h6v1h-6zM566 562h6v1h-6zM566 563h6v1h-6zM566 564h6v1h-6zM566 565h6v1h-6z" fill="#CCFFCC"/>
<path d="M594 560h6v1h-6zM594 561h6v1h-6zM594 562h6v1h-6zM594 563h6v1h-6zM594 564h6v1h-6zM594 565h6v1h-6z" fill="#CCFFCC"/>
<path d="M623 560h6v1h-6zM623 561h6v1h-6zM623 562h6v1h-6zM623 563h6v1h-6zM623 564h6v1h-6zM623 565h6v1h-6z" fill="#CCFFCC"/>
<path d="M651 560h6v1h-6zM651 561h6v1h-6zM651 562h6v1h-6zM651 563h6v1h-6zM651 564h6v1h-6zM651 565h6v1h-6z" fill="#CCFFCC"/>
<path d="M680 560h6v1h-6zM680 561h6v1h-6zM680 562h6v1h-6zM680 563h6v1h-6zM680 564h6v1h-6zM680 565h6v1h-6z" fill="#CCFFCC"/>
<path d="M708 560h6v1h-6zM708 561h6v1h-6zM708 562h6v1h-6zM708 563h6v1h-6zM708 564h6v1h-6zM708 565h6v1h-6z" fill="#CCFFCC"/>
<path d="M737 560h6v1h-6zM737 561h6v1h-6zM737 562h6v1h-6zM737 563h6v1h-6zM737 564h6v1h-6zM737 565h6v1h-6z" fill="#CCFFCC"/>
<path d="M765 560h6v1h-6zM765 561h6v1h-6zM765 562h6v1h-6zM765 563h6v1h-6zM765 564h6v1h-6zM765 565h6v1h-6z" fill="#CCFFCC"/>
<path d="M793 560h6v1h-6zM793 561h6v1h-6zM793 562h6v1h-6zM793 563h6v1h-6zM793 564h6v1h-6zM793 565h6v1h-6z" fill="#CCFFCC"/>
<path d="M822 560h6v1h-6zM822 561h6v1h-6zM822 562h6v1h-6zM822 563h6v1h-6zM822 564h6v1h-6zM822 565h6v1h-6z" fill="#CCFFCC"/>
<path d="M850 560h6v1h-6zM850 561h6v1h-6zM850 562h6v1h-6zM850 563h6v1h-6zM850 564h6v1h-6zM850 565h6v1h-6z" fill="#CCFFCC"/>
<path d="M879 560h6v1h-6zM879 561h6v1h-6zM879 562h6v1h-6zM879 563h6v1h-6zM879 564h6v1h-6zM879 565h6v1h-6z" fill="#CCFFCC"/>
</g>
<g><path d="M57 556h8v1h-8zM65 557h14v1h-14zM79 558h8v1h-8zM114 395v3h1v-3zM113 398v6h1v-6zM112 404v6h1v-6zM111 410v6h1v-6zM110 416v6h1v-6zM109 422v6h1v-6zM108 428v5h1v-5zM107 433v6h1v-6zM106 439v6h1v-6zM105 445v6h1v-6zM104 451v6h1v-6zM103 457v5h1v-5zM102 462v6h1v-6zM101 468v6h1v-6zM100 474v6h1v-6zM99 480v6h1v-6zM98 486v6h1v-6zM97 492v5h1v-5zM96 497v6h1v-6zM95 503v6h1v-6zM94 509v6h1v-6zM93 515v6h1v-6zM92 521v5h1v-5zM91 526v6h1v-6zM90 532v6h1v-6zM89 538v6h1v-6zM88 544v6h1v-6zM87 550v6h1v-6zM86 556v3h1v-3zM143 305v2h1v-2zM142 307v3h1v-3zM141 310v3h1v-3zM140 313v3h1v-3zM139 316v3h1v-3zM138 319v4h1v-4zM137 323v3h1v-3zM136 326v3h1v-3zM135 329v3h1v-3zM134 332v3h1v-3zM133 335v3h1v-3zM132 338v3h1v-3zM131 341v3h1v-3zM130 344v3h1v-3zM129 347v4h1v-4zM128 351v3h1v-3zM127 354v3h1v-3zM126 357v3h1v-3zM125 360v3h1v-3zM124 363v3h1v-3zM123 366v3h1v-3zM122 369v3h1v-3zM121 372v3h1v-3zM120 375v3h1v-3zM119 378v4h1v-4zM118 382v3h1v-3zM117 385v3h1v-3zM116 388v3h1v-3zM115 391v3h1v-3zM114 394v2h1v-2zM143 305h29v1h-29zM171 305h29v1h-29zM199 305h30v1h-30zM228 305h29v1h-29zM256 305h30v1h-30zM285 305h29v1h-29zM313 305h30v1h-30zM342 305h29v1h-29zM370 305h29v1h-29zM398 305h30v1h-30zM427 305h29v1h-29zM455 305h15v1h-15zM470 304h15v1h-15zM484 304h14v1h-14zM498 305h15v1h-15zM512 305h5v1h-5zM517 306h10v1h-10zM527 307h10v1h-10zM537 308h5v1h-5zM541 308h7v1h-7zM548 307h14v1h-14zM562 306h8v1h-8zM569 306h4v1h-4zM573 305h7v1h-7zM580 304h7v1h-7zM587 303h7v1h-7zM594 302h4v1h-4zM597 302h5v1h-5zM602 301h10v1h-10zM612 300h10v1h-10zM622 299h5v1h-5zM626 299h5v1h-5zM631 298h9v1h-9zM640 297h10v1h-10zM650 296h5v1h-5zM654 296h3v1h-3zM657 297h5v1h-5zM662 298h5v1h-5zM667 299h4v1h-4zM671 300h5v1h-5zM676 301h5v1h-5zM681 302h3v1h-3zM683 302h14v1h-14zM697 301h15v1h-15zM711 301h15v1h-15zM726 302h15v1h-15zM740 302h7v1h-7zM747 303h14v1h-14zM761 304h8v1h-8zM768 304h7v1h-7zM775 305h14v1h-14zM789 306h8v1h-8zM796 306h30v1h-30zM825 306h29v1h-29zM853 306h15v1h-15zM868 307h15v1h-15z" fill="#FFFF99"/>
<path d="M57 553h1v1h-1zM56 554h2v1h-2zM56 555h3v1h-3zM55 556h4v1h-4zM55 557h5v1h-5zM54 558h6v1h-6zM54 559h7v1h-7z" fill="#FFFF99"/>
<path d="M86 555h1v1h-1zM85 556h2v1h-2zM85 557h3v1h-3zM84 558h4v1h-4zM84 559h5v1h-5zM83 560h6v1h-6zM83 561h7v1h-7z" fill="#FFFF99"/>
<path d="M114 392h1v1h-1zM113 393h2v1h-2zM113 394h3v1h-3zM112 395h4v1h-4zM112 396h5v1h-5zM111 397h6v1h-6zM111 398h7v1h-7z" fill="#FFFF99"/>
<path d="M143 302h1v1h-1zM142 303h2v1h-2zM142 304h3v1h-3zM141 305h4v1h-4zM141 306h5v1h-5zM140 307h6v1h-6zM140 308h7v1h-7z" fill="#FFFF99"/>
<path d="M171 302h1v1h-1zM170 303h2v1h-2zM170 304h3v1h-3zM169 305h4v1h-4zM169 306h5v1h-5zM168 307h6v1h-6zM168 308h7v1h-7z" fill="#FFFF99"/>
<path d="M199 302h1v1h-1zM198 303h2v1h-2zM198 304h3v1h-3zM197 305h4v1h-4zM197 306h5v1h-5zM196 307h6v1h-6zM196 308h7v1h-7z" fill="#FFFF99"/>
<path d="M228 302h1v1h-1zM227 303h2v1h-2zM227 304h3v1h-3zM226 305h4v1h-4zM226 306h5v1h-5zM225 307h6v1h-6zM225 308h7v1h-7z" fill="#FFFF99"/>
<path d="M256 302h1v1h-1zM255 303h2v1h-2zM255 304h3v1h-3zM254 305h4v1h-4zM254 306h5v1h-5zM253 307h6v1h-6zM253 308h7v1h-7z" fill="#FFFF99"/>
<path d="M285 302h1v1h-1zM284 303h2v1h-2zM284 304h3v1h-3zM283 305h4v1h-4zM283 306h5v1h-5zM282 307h6v1h-6zM282 308h7v1h-7z" fill="#FFFF99"/>
<path d="M313 302h1v1h-1zM312 303h2v1h-2zM312 304h3v1h-3zM311 305h4v1h-4zM311 306h5v1h-5zM310 307h6v1h-6zM310 308h7v1h-7z" fill="#FFFF99"/>
<path d="M342 302h1v1h-1zM341 303h2v1h-2zM341 304h3v1h-3zM340 305h4v1h-4zM340 306h5v1h-5zM339 307h6v1h-6zM339 308h7v1h-7z" fill="#FFFF99"/>
<path d="M370 302h1v1h-1zM369 303h2v1h-2zM369 304h3v1h-3zM368 305h4v1h-4zM368 306h5v1h-5zM367 307h6v1h-6zM367 308h7v1h-7z" fill="#FFFF99"/>
<path d="M398 302h1v1h-1zM397 303h2v1h-2zM397 304h3v1h-3zM396 305h4v1h-4zM396 306h5v1h-5zM395 307h6v1h-6zM395 308h7v1h-7z" fill="#FFFF99"/>
<path d="M427 302h1v1h-1zM426 303h2v1h-2zM426 304h3v1h-3zM425 305h4v1h-4zM425 306h5v1h-5zM424 307h6v1h-6zM424 308h7v1h-7z" fill="#FFFF99"/>
<path d="M455 302h1v1h-1zM454 303h2v1h-2zM454 304h3v1h-3zM453 305h4v1h-4zM453 306h5v1h-5zM452 307h6v1h-6zM452 308h7v1h-7z" fill="#FFFF99"/>
<path d="M484 301h1v1h-1zM483 302h2v1h-2zM483 303h3v1h-3zM482 304h4v1h-4zM482 305h5v1h-5zM481 306h6v1h-6zM481 307h7v1h-7z" fill="#FFFF99"/>
<path d="M512 302h1v1h-1zM511 303h2v1h-2zM511 304h3v1h-3zM510 305h4v1h-4zM510 306h5v1h-5zM509 307h6v1h-6zM509 308h7v1h-7z" fill="#FFFF99"/>
<path d="M541 305h1v1h-1zM540 306h2v1h-2zM540 307h3v1h-3zM539 308h4v1h-4zM539 309h5v1h-5zM538 310h6v1h-6zM538 311h7v1h-7z" fill="#FFFF99"/>
<path d="M569 303h1v1h-1zM568 304h2v1h-2zM568 305h3v1h-3zM567 306h4v1h-4zM567 307h5v1h-5zM566 308h6v1h-6zM566 309h7v1h-7z" fill="#FFFF99"/>
<path d="M597 299h1v1h-1zM596 300h2v1h-2zM596 301h3v1h-3zM595 302h4v1h-4zM595 303h5v1h-5zM594 304h6v1h-6zM594 305h7v1h-7z" fill="#FFFF99"/>
<path d="M626 296h1v1h-1zM625 297h2v1h-2zM625 298h3v1h-3zM624 299h4v1h-4zM624 300h5v1h-5zM623 301h6v1h-6zM623 302h7v1h-7z" fill="#FFFF99"/>
<path d="M654 293h1v1h-1zM653 294h2v1h-2zM653 295h3v1h-3zM652 296h4v1h-4zM652 297h5v1h-5zM651 298h6v1h-6zM651 299h7v1h-7z" fill="#FFFF99"/>
<path d="M683 299h1v1h-1zM682 300h2v1h-2zM682 301h3v1h-3zM681 302h4v1h-4zM681 303h5v1h-5zM680 304h6v1h-6zM680 305h7v1h-7z" fill="#FFFF99"/>
<path d="M711 298h1v1h-1zM710 299h2v1h-2zM710 300h3v1h-3zM709 301h4v1h-4zM709 302h5v1h-5zM708 303h6v1h-6zM708 304h7v1h-7z" fill="#FFFF99"/>
<path d="M740 299h1v1h-1zM739 300h2v1h-2zM739 301h3v1h-3zM738 302h4v1h-4zM738 303h5v1h-5zM737 304h6v1h-6zM737 305h7v1h-7z" fill="#FFFF99"/>
<path d="M768 301h1v1h-1zM767 302h2v1h-2zM767 303h3v1h-3zM766 304h4v1h-4zM766 305h5v1h-5zM765 306h6v1h-6zM765 307h7v1h-7z" fill="#FFFF99"/>
<path d="M796 303h1v1h-1zM795 304h2v1h-2zM795 305h3v1h-3zM794 306h4v1h-4zM794 307h5v1h-5zM793 308h6v1h-6zM793 309h7v1h-7z" fill="#FFFF99"/>
<path d="M825 303h1v1h-1zM824 304h2v1h-2zM824 305h3v1h-3zM823 306h4v1h-4zM823 307h5v1h-5zM822 308h6v1h-6zM822 309h7v1h-7z" fill="#FFFF99"/>
<path d="M853 303h1v1h-1zM852 304h2v1h-2zM852 305h3v1h-3zM851 306h4v1h-4zM851 307h5v1h-5zM850 308h6v1h-6zM850 309h7v1h-7z" fill="#FFFF99"/>
<path d="M882 304h1v1h-1zM881 305h2v1h-2zM881 306h3v1h-3zM880 307h4v1h-4zM880 308h5v1h-5zM879 309h6v1h-6zM879 310h7v1h-7z" fill="#FFFF99"/>
</g>
<rect x="772.5" y="49.5" width="112" height="231" fill="#fff" stroke="#000"/>
<path d="M785 60.5H812" stroke="#000080"/>
<path d="M798 57h1v1h-1zM797 58h3v1h-3zM796 59h5v1h-5zM795 60h7v1h-7zM796 61h5v1h-5zM797 62h3v1h-3zM798 63h1v1h-1z" fill="#000080"/>
<path d="M785 79.5H812" stroke="#FF00FF"/>
<path d="M795 76h6v1h-6zM795 77h6v1h-6zM795 78h6v1h-6zM795 79h6v1h-6zM795 80h6v1h-6zM795 81h6v1h-6z" fill="#FF00FF"/>
<path d="M785 98.5H812" stroke="#FFFF00"/>
<path d="M798 95h1v1h-1zM797 96h2v1h-2zM797 97h3v1h-3zM796 98h4v1h-4zM796 99h5v1h-5zM795 100h6v1h-6zM795 101h7v1h-7z" fill="#FFFF00"/>
<path d="M785 117.5H812" stroke="#00FFFF"/>
<path d="M796 115h1v1h-1zM800 115h1v1h-1zM797 116h1v1h-1zM799 116h1v1h-1zM798 117h1v1h-1zM797 118h1v1h-1zM799 118h1v1h-1zM796 119h1v1h-1zM800 119h1v1h-1z" fill="#00FFFF"/>
<path d="M785 136.5H812" stroke="#800080"/>
<path d="M796 134h1v1h-1zM798 134h1v1h-1zM800 134h1v1h-1zM797 135h3v1h-3zM796 136h5v1h-5zM797 137h3v1h-3zM796 138h1v1h-1zM798 138h1v1h-1zM800 138h1v1h-1z" fill="#800080"/>
<path d="M785 155.5H812" stroke="#800000"/>
<path d="M797 152h2v1h-2zM796 153h4v1h-4zM795 154h6v1h-6zM795 155h6v1h-6zM796 156h4v1h-4zM797 157h2v1h-2z" fill="#800000"/>
<path d="M785 174.5H812" stroke="#008080"/>
<path d="M798 172h1v1h-1zM798 173h1v1h-1zM796 174h5v1h-5zM798 175h1v1h-1zM798 176h1v1h-1z" fill="#008080"/>
<path d="M785 194.5H812" stroke="#0000FF"/>
<path d="M798 193h4v1h-4zM798 194h4v1h-4z" fill="#0000FF"/>
<path d="M785 213.5H812" stroke="#00CCFF"/>
<path d="M795 212h7v1h-7zM795 213h7v1h-7z" fill="#00CCFF"/>
<path d="M785 232.5H812" stroke="#CCFFFF"/>
<path d="M798 229h1v1h-1zM797 230h3v1h-3zM796 231h5v1h-5zM795 232h7v1h-7zM796 233h5v1h-5zM797 234h3v1h-3zM798 235h1v1h-1z" fill="#CCFFFF"/>
<path d="M785 251.5H812" stroke="#CCFFCC"/>
<path d="M795 248h6v1h-6zM795 249h6v1h-6zM795 250h6v1h-6zM795 251h6v1h-6zM795 252h6v1h-6zM795 253h6v1h-6z" fill="#CCFFCC"/>
<path d="M785 270.5H812" stroke="#FFFF99"/>
<path d="M798 267h1v1h-1zM797 268h2v1h-2zM797 269h3v1h-3zM796 270h4v1h-4zM796 271h5v1h-5zM795 272h6v1h-6zM795 273h7v1h-7z" fill="#FFFF99"/>
<g filter="url(#th)">
<text class="ax" transform="translate(30.5 569) scale(1 1.18) rotate(0.03)" text-anchor="end">0</text>
<text class="ax" transform="translate(30.5 483.2) scale(1 1.18) rotate(0.03)" text-anchor="end">10</text>
<text class="ax" transform="translate(30.5 397.3) scale(1 1.18) rotate(0.03)" text-anchor="end">20</text>
<text class="ax" transform="translate(30.5 311.5) scale(1 1.18) rotate(0.03)" text-anchor="end">30</text>
<text class="ax" transform="translate(30.5 225.7) scale(1 1.18) rotate(0.03)" text-anchor="end">40</text>
<text class="ax" transform="translate(30.5 139.8) scale(1 1.18) rotate(0.03)" text-anchor="end">50</text>
<text class="ax" transform="translate(30.5 54) scale(1 1.18) rotate(0.03)" text-anchor="end">60</text>
<text class="ax" transform="translate(57.7 591) scale(1 1.18) rotate(0.03)" text-anchor="middle">1</text>
<text class="ax" transform="translate(86.2 591) scale(1 1.18) rotate(0.03)" text-anchor="middle">2</text>
<text class="ax" transform="translate(114.6 591) scale(1 1.18) rotate(0.03)" text-anchor="middle">3</text>
<text class="ax" transform="translate(143 591) scale(1 1.18) rotate(0.03)" text-anchor="middle">4</text>
<text class="ax" transform="translate(171.4 591) scale(1 1.18) rotate(0.03)" text-anchor="middle">5</text>
<text class="ax" transform="translate(199.9 591) scale(1 1.18) rotate(0.03)" text-anchor="middle">6</text>
<text class="ax" transform="translate(228.3 591) scale(1 1.18) rotate(0.03)" text-anchor="middle">7</text>
<text class="ax" transform="translate(256.8 591) scale(1 1.18) rotate(0.03)" text-anchor="middle">8</text>
<text class="ax" transform="translate(285.2 591) scale(1 1.18) rotate(0.03)" text-anchor="middle">9</text>
<text class="ax" transform="translate(313.6 591) scale(1 1.18) rotate(0.03)" text-anchor="middle">10</text>
<text class="ax" transform="translate(342.1 591) scale(1 1.18) rotate(0.03)" text-anchor="middle">11</text>
<text class="ax" transform="translate(370.5 591) scale(1 1.18) rotate(0.03)" text-anchor="middle">12</text>
<text class="ax" transform="translate(398.9 591) scale(1 1.18) rotate(0.03)" text-anchor="middle">13</text>
<text class="ax" transform="translate(427.4 591) scale(1 1.18) rotate(0.03)" text-anchor="middle">14</text>
<text class="ax" transform="translate(455.8 591) scale(1 1.18) rotate(0.03)" text-anchor="middle">15</text>
<text class="ax" transform="translate(484.2 591) scale(1 1.18) rotate(0.03)" text-anchor="middle">16</text>
<text class="ax" transform="translate(512.6 591) scale(1 1.18) rotate(0.03)" text-anchor="middle">17</text>
<text class="ax" transform="translate(541.1 591) scale(1 1.18) rotate(0.03)" text-anchor="middle">18</text>
<text class="ax" transform="translate(569.5 591) scale(1 1.18) rotate(0.03)" text-anchor="middle">19</text>
<text class="ax" transform="translate(598 591) scale(1 1.18) rotate(0.03)" text-anchor="middle">20</text>
<text class="ax" transform="translate(626.4 591) scale(1 1.18) rotate(0.03)" text-anchor="middle">21</text>
<text class="ax" transform="translate(654.8 591) scale(1 1.18) rotate(0.03)" text-anchor="middle">22</text>
<text class="ax" transform="translate(683.2 591) scale(1 1.18) rotate(0.03)" text-anchor="middle">23</text>
<text class="ax" transform="translate(711.7 591) scale(1 1.18) rotate(0.03)" text-anchor="middle">24</text>
<text class="ax" transform="translate(740.1 591) scale(1 1.18) rotate(0.03)" text-anchor="middle">25</text>
<text class="ax" transform="translate(768.5 591) scale(1 1.18) rotate(0.03)" text-anchor="middle">26</text>
<text class="ax" transform="translate(797 591) scale(1 1.18) rotate(0.03)" text-anchor="middle">27</text>
<text class="ax" transform="translate(825.4 591) scale(1 1.18) rotate(0.03)" text-anchor="middle">28</text>
<text class="ax" transform="translate(853.9 591) scale(1 1.18) rotate(0.03)" text-anchor="middle">29</text>
<text class="ax" transform="translate(882.3 591) scale(1 1.18) rotate(0.03)" text-anchor="middle">30</text>
<text class="b" transform="translate(433.7 35.2)" text-anchor="middle" font-size="16" textLength="143.5" lengthAdjust="spacingAndGlyphs">TZ1 Edu vs Update</text>
<text class="b b2" transform="translate(468.9 609) scale(1 1)" text-anchor="middle" font-size="15.5" textLength="62" lengthAdjust="spacingAndGlyphs">Update #</text>
<text class="b b2" transform="translate(23.1 266.1) rotate(-90) scale(1 1.1)" text-anchor="middle" font-size="13.3" textLength="27.6" lengthAdjust="spacingAndGlyphs">Edu</text>
</g><g filter="url(#th2)">
<text class="lg" x="814.3" y="64.3" textLength="40.1" lengthAdjust="spacingAndGlyphs">manticore</text>
<text class="lg" x="814.3" y="83.3" textLength="24.9" lengthAdjust="spacingAndGlyphs">wales</text>
<text class="lg" x="815.5" y="102.3" textLength="60.3" lengthAdjust="spacingAndGlyphs">Silver_Honour</text>
<text class="lg" x="815.5" y="121.3" textLength="59.2" lengthAdjust="spacingAndGlyphs">PromisedLand</text>
<text class="lg" x="815.5" y="140.3" textLength="31.3" lengthAdjust="spacingAndGlyphs">BWCC</text>
<text class="lg" x="815.5" y="159.3" textLength="45.5" lengthAdjust="spacingAndGlyphs">Mayonasia</text>
<text class="lg" x="815.5" y="178.3" textLength="29" lengthAdjust="spacingAndGlyphs">Gemini</text>
<text class="lg" x="815.5" y="198.3" textLength="13.5" lengthAdjust="spacingAndGlyphs">Six</text>
<text class="lg" x="814.7" y="217.3" textLength="17" lengthAdjust="spacingAndGlyphs">juke</text>
<text class="lg" x="815.5" y="236.3" textLength="22.5" lengthAdjust="spacingAndGlyphs">Niary</text>
<text class="lg" x="815.5" y="255.3" textLength="16" lengthAdjust="spacingAndGlyphs">Hell</text>
<text class="lg" x="815.5" y="274.3" textLength="55" lengthAdjust="spacingAndGlyphs">EmpireKING</text>
</g>
</svg></body></html>
